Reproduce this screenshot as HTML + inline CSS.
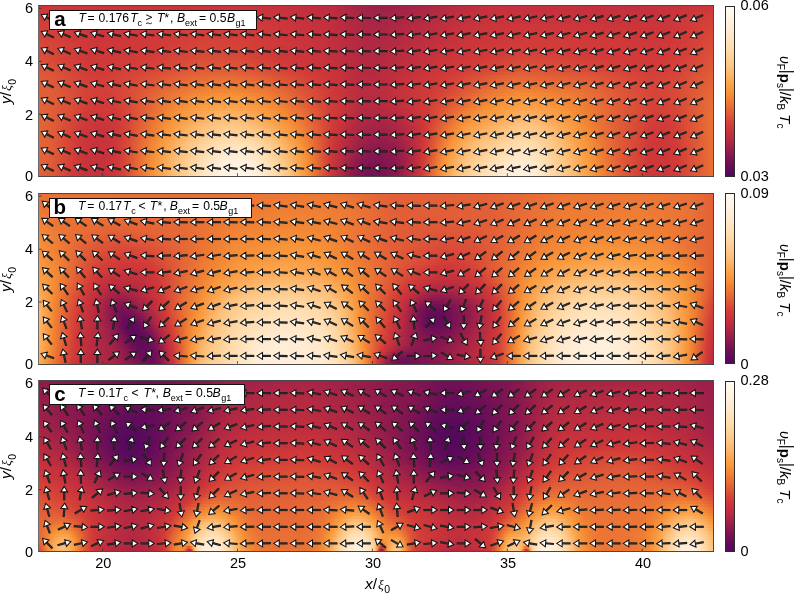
<!DOCTYPE html><html><head><meta charset="utf-8"><style>
*{margin:0;padding:0;box-sizing:border-box}
html,body{width:795px;height:594px;overflow:hidden;background:#fff}
body{position:relative;font-family:"Liberation Sans",sans-serif;color:#000}
.txt{position:absolute;left:0;top:0;width:795px;height:594px;will-change:transform}
.bg{position:absolute;left:38.5px;width:675px;height:171px;overflow:hidden}
.bg div{position:absolute;left:0;width:675px}
.fr{position:absolute;left:38px;width:676px;height:172px;border:1px solid #484848;border-left-color:#6a6a6a}
.cb{position:absolute;left:725px;width:10px;height:171px;border:1px solid #2b2b2b}
svg.ar{position:absolute;left:0;top:0}
.lb{position:absolute;left:49.2px;height:20.2px;background:#fff;border:1px solid #111}
.tb,.tx,.ts,.tst,.tge{position:absolute;white-space:nowrap}
.tb{font-size:20.5px;font-weight:bold;line-height:20px}
.tx{font-size:12.2px;line-height:14px}
.ts{font-size:9px;line-height:10px}
.tst{font-size:12.5px;line-height:10px}
.tge{width:8px;height:12px}
.yt{position:absolute;left:14px;width:19px;text-align:right;font-size:14.5px;line-height:17px}
.xt{position:absolute;top:555px;width:30px;text-align:center;font-size:14.5px;line-height:17px}
.ct{position:absolute;left:740.5px;font-size:14.5px;line-height:17px}
.yl{position:absolute;font-size:15.5px;line-height:18px;white-space:nowrap;transform-origin:0 0}
.cl{position:absolute;font-size:15px;white-space:nowrap;transform-origin:0 0;line-height:17px}
.xi{font-family:"Liberation Serif",serif;font-style:italic;font-size:13.5px;margin-left:1px}
.s0{font-size:10.5px;vertical-align:-4.5px;margin-left:0.5px}
.s1{font-size:10px;vertical-align:-3px}
.ups{font-style:italic;font-size:14px}
.bar{display:inline-block;transform:translateY(-2.5px) scaleY(1.15)}
</style></head><body>
<div class="bg" style="top:5.5px"><div style="top:0px;height:3.6px;background:linear-gradient(90deg,#cd373a 0px,#cb353b 192px,#c5303d 247.5px,#bb2c40 294px,#a12247 324px,#9b1f49 342px,#9f2148 361.5px,#c4303d 442.5px,#c5303d 543px,#c12f3e 592.5px,#cd373a 675px)"></div><div style="top:3px;height:3.6px;background:linear-gradient(90deg,#cf3839 0px,#ca353b 54px,#cd373a 193.5px,#c8333c 240px,#bd2d3f 292.5px,#a12247 328.5px,#9f2148 348px,#c6313c 445.5px,#c4303d 604.5px,#d03939 675px)"></div><div style="top:6px;height:3.6px;background:linear-gradient(90deg,#d03939 0px,#ca353b 63px,#cf3839 171px,#cc363a 225px,#bf2e3f 291px,#a52346 325.5px,#a12247 342px,#a82545 369px,#c12f3e 421.5px,#c7323c 444px,#c6323c 616.5px,#d13b38 675px)"></div><div style="top:9px;height:3.6px;background:linear-gradient(90deg,#d13a38 0px,#ca353b 67.5px,#d03939 157.5px,#ce383a 220.5px,#c02e3e 291px,#a72446 325.5px,#a42347 345px,#c8333c 444px,#c7333c 615px,#d33d38 675px)"></div><div style="top:12px;height:3.6px;background:linear-gradient(90deg,#d23c38 0px,#cb363a 55.5px,#d13a39 154.5px,#cf3839 222px,#c02e3e 292.5px,#a82545 327px,#a62446 343.5px,#ae2743 372px,#c32f3d 418.5px,#c9343b 445.5px,#c8343b 616.5px,#d43f38 675px)"></div><div style="top:15px;height:3.6px;background:linear-gradient(90deg,#d33e38 0px,#cb353b 64.5px,#d23b38 156px,#d13a39 213px,#c22f3e 289.5px,#aa2645 327px,#a82545 343.5px,#c9343b 441px,#ca343b 621px,#d54238 675px)"></div><div style="top:18px;height:3.6px;background:linear-gradient(90deg,#d43f38 0px,#cb363a 60px,#d33d38 166.5px,#d13a39 219px,#c32f3d 288px,#ac2644 325.5px,#aa2645 345px,#c9343b 436.5px,#cd373a 486px,#cb353b 625.5px,#d64438 675px)"></div><div style="top:21px;height:3.6px;background:linear-gradient(90deg,#d54138 0px,#cc363a 54px,#d33e38 163.5px,#d23b38 214.5px,#c32f3d 289.5px,#ad2744 325.5px,#ab2644 342px,#c5303d 414px,#ca343b 439.5px,#ce383a 487.5px,#cb353b 618px,#d13a38 649.5px,#d74538 675px)"></div><div style="top:24px;height:3.6px;background:linear-gradient(90deg,#d54338 0px,#cc363a 55.5px,#d43f38 162px,#d23b38 217.5px,#c4303d 286.5px,#ae2743 325.5px,#ac2644 339px,#b72b41 379.5px,#c5313d 411px,#cb353b 444px,#cf3839 489px,#cc363a 624px,#d13a38 646.5px,#d74738 675px)"></div><div style="top:27px;height:3.6px;background:linear-gradient(90deg,#d64438 0px,#cc363a 55.5px,#d44038 162px,#d33c38 210px,#c4303d 288px,#b12943 321px,#ad2744 339px,#b72b41 376.5px,#c6313c 411px,#cb353b 439.5px,#d03939 492px,#cc363a 618px,#d13a38 645px,#d84938 675px)"></div><div style="top:30px;height:3.6px;background:linear-gradient(90deg,#d74638 0px,#d13a38 31.5px,#cc363a 57px,#d13a38 126px,#d44138 162px,#d33c38 213px,#c5303d 285px,#b22942 319.5px,#ae2743 339px,#c6313c 408px,#cb353b 435px,#d13a39 495px,#cd373a 625.5px,#d23b38 646.5px,#d94a38 675px)"></div><div style="top:33px;height:3.6px;background:linear-gradient(90deg,#d74738 0px,#d13a38 33px,#cc363a 60px,#d13a38 123px,#d54238 160.5px,#d54238 189px,#d33c38 214.5px,#c5303d 286.5px,#b22942 321px,#af2843 339px,#cb353b 430.5px,#d13b38 492px,#ce373a 621px,#d23b38 645px,#d94c38 675px)"></div><div style="top:36px;height:3.6px;background:linear-gradient(90deg,#d84938 0px,#cd373a 49.5px,#d13a38 120px,#d64438 168px,#d43f38 208.5px,#c5313d 286.5px,#b12943 324px,#b02843 340.5px,#cb353b 424.5px,#d23c38 489px,#cf3839 627px,#d23b38 643.5px,#da4d38 675px)"></div><div style="top:39px;height:3.6px;background:linear-gradient(90deg,#d94a38 0px,#cd373a 51px,#d13a38 117px,#d64538 163.5px,#d54138 204px,#d03939 229.5px,#c5313d 288px,#b22942 322.5px,#b02843 336px,#c8333c 405px,#d33c38 481.5px,#cf3839 622.5px,#d33c38 643.5px,#da4e38 675px)"></div><div style="top:42px;height:3.6px;background:linear-gradient(90deg,#d94b38 0px,#d13a38 36px,#cd373a 52.5px,#d23b38 120px,#d74738 166.5px,#d64338 201px,#d03939 231px,#c5303d 289.5px,#b32942 321px,#b12943 340.5px,#c8333c 402px,#d43f38 483px,#d03939 541.5px,#d03939 627px,#d33e38 646.5px,#db5038 675px)"></div><div style="top:45px;height:3.6px;background:linear-gradient(90deg,#da4d38 0px,#d23b38 34.5px,#cd373a 54px,#d23b38 115.5px,#d84938 166.5px,#d74638 198px,#d13a38 229.5px,#c7323c 283.5px,#b42a42 319.5px,#b12943 336px,#ca343b 406.5px,#d13a38 460.5px,#d54138 481.5px,#d13a38 540px,#d03939 624px,#d43f38 646.5px,#dc5138 675px)"></div><div style="top:48px;height:3.6px;background:linear-gradient(90deg,#da4e38 0px,#cf3839 48px,#d23b38 109.5px,#d94b38 163.5px,#d84838 198px,#d13a38 232.5px,#c7323c 285px,#b32942 322.5px,#b22942 339px,#cc363a 411px,#d23b38 457.5px,#d64338 480px,#d64538 495px,#d23b38 547.5px,#d13a38 628.5px,#d64338 652.5px,#dc5338 675px)"></div><div style="top:51px;height:3.6px;background:linear-gradient(90deg,#db5038 0px,#d23b38 37.5px,#cf3839 51px,#d33c38 106.5px,#da4e38 166.5px,#d94a38 199.5px,#d13a38 237px,#c9343b 280.5px,#b42a42 321px,#b22942 334.5px,#cb353b 403.5px,#d23b38 448.5px,#d74838 484.5px,#d23b38 571.5px,#d13a38 624px,#d54138 646.5px,#dd5438 675px)"></div><div style="top:54px;height:3.6px;background:linear-gradient(90deg,#dc5138 0px,#d33d38 36px,#cf3839 55.5px,#d44038 115.5px,#db5138 165px,#db4f38 195px,#d13a38 243px,#c6313c 292.5px,#b32942 325.5px,#b42942 339px,#cc363a 403.5px,#d23b38 438px,#d94c38 487.5px,#d23b38 585px,#d23b38 625.5px,#d64338 648px,#de5638 675px)"></div><div style="top:57px;height:3.6px;background:linear-gradient(90deg,#dc5338 0px,#d23b38 42px,#d03939 66px,#d54238 114px,#dd5438 160.5px,#dd5538 186px,#da4e38 210px,#d23b38 246px,#c6313c 294px,#b72b41 316.5px,#b42942 334.5px,#ce383a 408px,#d23b38 429px,#db5038 486px,#d23b38 597px,#d23b38 619.5px,#d64338 645px,#de5838 675px)"></div><div style="top:60px;height:3.6px;background:linear-gradient(90deg,#dd5438 0px,#db4f38 15px,#d23b38 45px,#d13a38 69px,#d64338 108px,#de5838 159px,#df5a37 184.5px,#dd5538 204px,#d13a38 258px,#c7323c 294px,#b42a42 325.5px,#b62a41 342px,#c4303d 372px,#d13a38 418.5px,#dd5338 480px,#dd5438 495px,#d33e38 591px,#d33c38 616.5px,#d74738 649.5px,#df5a37 675px)"></div><div style="top:63px;height:3.6px;background:linear-gradient(90deg,#de5638 0px,#da4f38 18px,#d23b38 48px,#d13a38 64.5px,#d84838 114px,#e05d37 159px,#e15f37 186px,#de5838 210px,#d33c38 259.5px,#c8333c 294px,#b62b41 321px,#b62a41 339px,#c4303d 369px,#d13a38 414px,#df5a37 486px,#d33e38 601.5px,#d33e38 622.5px,#d74738 646.5px,#e05c37 675px)"></div><div style="top:66px;height:3.6px;background:linear-gradient(90deg,#de5838 0px,#dd5538 10.5px,#d33d38 46.5px,#d23b38 66px,#d84938 108px,#e26037 153px,#e36437 189px,#df5a37 217.5px,#d23b38 268.5px,#c9343b 294px,#b62b41 322.5px,#b62a41 336px,#c4303d 366px,#d23b38 412.5px,#e15f37 480px,#dd5438 543px,#d43f38 607.5px,#d64438 637.5px,#e15e37 675px)"></div><div style="top:69px;height:3.6px;background:linear-gradient(90deg,#df5937 0px,#de5638 12px,#d33e38 48px,#d33c38 66px,#da4c38 108px,#e46636 154.5px,#e66a36 190.5px,#e26237 214.5px,#d13a38 276px,#c5303d 303px,#b82b41 319.5px,#b62a41 333px,#d23b38 408px,#e05c37 457.5px,#e46536 478.5px,#df5a37 540px,#d44038 612px,#d74738 640.5px,#e26037 675px)"></div><div style="top:72px;height:3.6px;background:linear-gradient(90deg,#e05b37 0px,#de5738 13.5px,#d44038 46.5px,#d33d38 66px,#d84838 94.5px,#e76c36 156px,#e97035 190.5px,#e46636 219px,#d13a38 280.5px,#b82b41 321px,#b82b40 339px,#c5313d 363px,#d33c38 406.5px,#e15f37 453px,#e66b36 475.5px,#e26037 538.5px,#d54238 607.5px,#d74638 636px,#e36237 675px)"></div><div style="top:75px;height:3.6px;background:linear-gradient(90deg,#e05d37 0px,#df5a37 10.5px,#d54138 46.5px,#d33e38 67.5px,#d84938 93px,#e97035 153px,#eb7635 171px,#eb7635 190.5px,#e86e36 216px,#d13a38 283.5px,#b92c40 319.5px,#b82b40 337.5px,#c7323c 366px,#d43e38 406.5px,#e56936 457.5px,#e97135 475.5px,#e97135 492px,#e36437 543px,#d64338 609px,#d84838 637.5px,#e46436 675px)"></div><div style="top:78px;height:3.6px;background:linear-gradient(90deg,#e15e37 0px,#e05b37 12px,#d54238 46.5px,#d33e38 64.5px,#d74538 84px,#ec7735 156px,#ee7c34 193.5px,#eb7535 214.5px,#e66a36 231px,#d13a38 286.5px,#b82b41 322.5px,#b92b40 337.5px,#d23b38 397.5px,#da4c38 421.5px,#e86e36 456px,#ec7835 478.5px,#e56936 543px,#da4d38 588px,#d64338 615px,#d84838 636px,#e46636 675px)"></div><div style="top:81px;height:3.6px;background:linear-gradient(90deg,#e25f37 0px,#e05d37 10.5px,#d54138 49.5px,#d43e38 64.5px,#da4c38 93px,#ed7a35 151.5px,#f18234 171px,#f18234 195px,#e97135 229.5px,#d23b38 286.5px,#b92c40 321px,#b82b40 336px,#d23b38 394.5px,#da4d38 418.5px,#eb7535 457.5px,#ef7e34 477px,#e86f36 540px,#db4f38 588px,#d64438 613.5px,#d84838 634.5px,#e56836 675px)"></div><div style="top:84px;height:3.6px;background:linear-gradient(90deg,#e26037 0px,#e15e37 10.5px,#d54238 48px,#d33e38 66px,#d84838 87px,#e66b36 124.5px,#f08134 154.5px,#f38936 190.5px,#ed7935 226.5px,#cd373a 295.5px,#b92c40 321px,#b82b41 336px,#d23b38 393px,#da4c38 414px,#ec7735 453px,#f18435 475.5px,#f18435 490.5px,#ea7335 540px,#da4d38 594px,#d64438 615px,#d84938 636px,#e66a36 675px)"></div><div style="top:87px;height:3.6px;background:linear-gradient(90deg,#e26137 0px,#e15f37 10.5px,#d44038 51px,#d33e38 69px,#d84838 87px,#e56936 118.5px,#f28736 156px,#f58f38 177px,#f58f38 193.5px,#f28736 214.5px,#ee7c34 229.5px,#d13a38 291px,#b82b40 322.5px,#b82b40 337.5px,#d33c38 393px,#da4e38 412.5px,#ed7a35 450px,#f48b37 478.5px,#f48a37 492px,#ec7735 540px,#dd5338 586.5px,#d64438 615px,#d84938 636px,#e76c36 675px)"></div><div style="top:90px;height:3.6px;background:linear-gradient(90deg,#e36237 0px,#de5838 21px,#d44038 49.5px,#d33d38 69px,#d84838 87px,#e56736 114px,#f38936 151.5px,#f79439 172.5px,#f7953a 195px,#f69038 208.5px,#ee7d34 234px,#d23b38 291px,#b82b41 322.5px,#b82b40 339px,#d33c38 391.5px,#f18234 453px,#f69139 478.5px,#f58f38 496.5px,#ee7d34 535.5px,#dd5438 586.5px,#d64438 615px,#d64438 625.5px,#da4d38 642px,#e76d36 675px)"></div><div style="top:93px;height:3.6px;background:linear-gradient(90deg,#e36337 0px,#e05c37 16.5px,#d43e38 51px,#d33c38 70.5px,#d84938 88.5px,#e97035 120px,#f58f38 153px,#f8983c 169.5px,#f99a3f 193.5px,#f7953a 210px,#f28636 229.5px,#e56936 256.5px,#d13a38 292.5px,#b72b41 324px,#b62a41 334.5px,#d33d38 391.5px,#ed7a35 439.5px,#f38a37 456px,#f8973b 478.5px,#f7953a 498px,#f18435 529.5px,#db4f38 594px,#d64338 616.5px,#d84938 637.5px,#e86e36 675px)"></div><div style="top:96px;height:3.6px;background:linear-gradient(90deg,#e36437 0px,#e05c37 16.5px,#d33c38 52.5px,#d23b38 70.5px,#d74738 87px,#f08134 133.5px,#f7953a 154.5px,#fa9e46 178.5px,#fa9e45 195px,#f8983c 213px,#f28535 235.5px,#e66b36 258px,#d33c38 291px,#c4303d 307.5px,#b62b41 324px,#b62a41 337.5px,#c6313c 367.5px,#d23c38 390px,#f08134 441px,#f79439 462px,#f99c42 481.5px,#f99b42 492px,#f8973b 505.5px,#ef7f34 541.5px,#e15e37 576px,#d64338 613.5px,#d54238 624px,#d94c38 642px,#e86f36 675px)"></div><div style="top:99px;height:3.6px;background:linear-gradient(90deg,#e36437 0px,#e05d37 15px,#d23b38 51px,#d13a38 70.5px,#d74638 87px,#f08134 130.5px,#f8973b 151.5px,#faa24c 177px,#fba34c 193.5px,#f99c42 213px,#f58d37 232.5px,#ee7c34 247.5px,#d43f38 289.5px,#cc363a 298.5px,#b62b41 322.5px,#b62a41 342px,#d23b38 388.5px,#f28535 439.5px,#f69239 453px,#faa048 480px,#fa9f47 496.5px,#f8963a 514.5px,#f58f38 525px,#f08134 541.5px,#dd5438 588px,#d54238 613.5px,#d54138 625.5px,#d94b38 642px,#e97035 675px)"></div><div style="top:102px;height:3.6px;background:linear-gradient(90deg,#e46436 0px,#e05d37 15px,#d13a38 51px,#d23b38 76.5px,#d94b38 91.5px,#f08034 127.5px,#f8973b 147px,#fba753 177px,#fba854 193.5px,#f8953a 229.5px,#f18234 246px,#e66a36 264px,#d23b38 292.5px,#b52a41 322.5px,#b42942 340.5px,#c4303d 369px,#d23b38 388.5px,#f18435 433.5px,#f8963a 451.5px,#fba550 481.5px,#fba34d 498px,#f99c42 511.5px,#f79439 523.5px,#f08034 544.5px,#df5837 583.5px,#d44038 616.5px,#d74638 637.5px,#e97135 675px)"></div><div style="top:105px;height:3.6px;background:linear-gradient(90deg,#e46536 0px,#e15e37 13.5px,#d23b38 46.5px,#ce3839 57px,#d13a38 76.5px,#da4d38 93px,#f28535 129px,#f9993e 145.5px,#fba956 169.5px,#fcae5d 181.5px,#fcae5e 192px,#fba956 205.5px,#f8983c 231px,#f08034 250.5px,#e66b36 265.5px,#d23b38 292.5px,#b62b41 319.5px,#b12843 331.5px,#b92c40 357px,#d23b38 388.5px,#ed7a35 423px,#f58f38 438px,#f8973b 447px,#fbab59 483px,#fba956 496.5px,#f8973b 525px,#f08034 546px,#dd5538 586.5px,#d43f38 616.5px,#d64538 637.5px,#e97235 675px)"></div><div style="top:108px;height:3.6px;background:linear-gradient(90deg,#e46536 0px,#e15f37 12px,#d13a38 46.5px,#cd373a 57px,#d13a38 78px,#d84838 90px,#f18234 124.5px,#f79339 136.5px,#fcb061 172.5px,#fcb467 183px,#fcb366 196.5px,#fbac5a 210px,#f8963a 237px,#f08034 253.5px,#e56936 268.5px,#d23b38 292.5px,#c02e3e 309px,#b12843 327px,#af2843 337.5px,#b42a42 352.5px,#c5303d 373.5px,#d23b38 388.5px,#ed7a35 420px,#f7953a 438px,#fcb162 483px,#fcae5f 496.5px,#f79439 531px,#f08034 547.5px,#e25f37 576px,#d74638 603px,#d33d38 618px,#d64538 639px,#ea7235 675px)"></div><div style="top:111px;height:3.6px;background:linear-gradient(90deg,#e46536 0px,#e15f37 12px,#d03939 46.5px,#cc363a 67.5px,#d13a38 79.5px,#d94a38 91.5px,#f08034 121.5px,#f8963a 136.5px,#fcb163 166.5px,#fdbb72 186px,#fdba71 195px,#fcb264 210px,#f8963a 241.5px,#f18234 255px,#e56936 270px,#d03939 294px,#bd2d3f 310.5px,#ae2744 328.5px,#b12943 351px,#c5303d 375px,#d23b38 388.5px,#f18234 421.5px,#f8973b 435px,#fcb76c 483px,#fcb468 496.5px,#f79439 534px,#f08034 549px,#e46436 571.5px,#d33d38 615px,#d33c38 627px,#d64438 639px,#ea7335 675px)"></div><div style="top:114px;height:3.6px;background:linear-gradient(90deg,#e46536 0px,#e26037 10.5px,#d03939 45px,#cb363a 57px,#d03939 78px,#d74538 88.5px,#f08034 120px,#f79339 132px,#fdba71 171px,#fdc17b 184.5px,#fdc07a 198px,#fcb66a 213px,#f8963a 244.5px,#f08134 258px,#d03939 294px,#b22942 319.5px,#aa2545 334.5px,#ab2644 345px,#b62b41 363px,#cf3839 385.5px,#d54238 391.5px,#f08134 418.5px,#f99b41 435px,#fba854 454.5px,#fdb970 475.5px,#fdbe76 484.5px,#fdb970 498px,#fba44f 519px,#f79339 537px,#f18234 549px,#e05c37 579px,#d23b38 616.5px,#d44038 636px,#ea7335 675px)"></div><div style="top:117px;height:3.6px;background:linear-gradient(90deg,#e46536 0px,#e05d37 13.5px,#d13a38 42px,#ca353b 57px,#cd373a 75px,#d74538 88.5px,#ef7d34 117px,#f58d37 126px,#f8983d 133.5px,#fdbb72 165px,#fdc17d 174px,#fdc583 184.5px,#fdc583 195px,#fdc07b 208.5px,#f99a3f 244.5px,#f28535 258px,#d03939 294px,#b52a41 315px,#a82446 333px,#a72446 342px,#b02843 358.5px,#cf3839 385.5px,#d64338 391.5px,#f07f34 415.5px,#f9993e 429px,#fdc27d 480px,#fdc37f 489px,#fdc07b 496.5px,#faa24b 525px,#f79339 538.5px,#f18134 550.5px,#e36337 573px,#d33c38 612px,#d13a38 627px,#d43f38 636px,#ea7335 675px)"></div><div style="top:120px;height:3.6px;background:linear-gradient(90deg,#e46636 0px,#e05d37 13.5px,#d23c38 39px,#ce3839 45px,#c9343b 64.5px,#d03939 79.5px,#d84838 90px,#f07f34 117px,#f8953a 129px,#fdbf78 163.5px,#fdc685 175.5px,#feca8b 187.5px,#fec98a 198px,#fdc27d 214.5px,#f8963a 250.5px,#f38836 258px,#e66a36 273px,#d13a38 292.5px,#b52a41 313.5px,#a52346 331.5px,#a42347 343.5px,#a92545 354px,#c02e3e 375px,#cf3839 385.5px,#f08134 414px,#f8973b 424.5px,#f99d44 429px,#fdc27d 471px,#fdc684 480px,#fdc786 489px,#fdc37f 499.5px,#fdbe77 505.5px,#fba34d 526.5px,#f79439 540px,#f08134 552px,#e15e37 577.5px,#d23b38 612px,#d13a38 628.5px,#d33e38 636px,#ea7335 675px)"></div><div style="top:123px;height:3.6px;background:linear-gradient(90deg,#e46636 0px,#e26037 10.5px,#cf3839 43.5px,#c8343b 61.5px,#cf3839 78px,#d64338 87px,#f07f34 115.5px,#f8963a 127.5px,#fdc07b 160.5px,#fece92 184.5px,#fecd92 199.5px,#fec787 213px,#fdc17b 222px,#f99d44 247.5px,#f48c37 258px,#e76c36 273px,#d13a38 292.5px,#c32f3d 303px,#ac2644 319.5px,#a22247 331.5px,#a12247 345px,#a82545 357px,#cf3839 385.5px,#f18134 412.5px,#f9993e 423px,#fba956 436.5px,#fdc37f 466.5px,#fecb8d 483px,#feca8c 492px,#fdc27e 505.5px,#fba34c 529.5px,#f79439 541.5px,#f08034 553.5px,#e26037 576px,#d23b38 610.5px,#cf3939 622.5px,#d33d38 636px,#ea7335 675px)"></div><div style="top:126px;height:3.6px;background:linear-gradient(90deg,#e46636 0px,#e05b37 15px,#d23c38 37.5px,#cd373a 45px,#c8333b 64.5px,#ce373a 76.5px,#d74638 88.5px,#f18134 115.5px,#f8963a 126px,#fdc07a 156px,#fecc90 172.5px,#fed39b 187.5px,#fed29a 201px,#fec888 219px,#fdc07a 228px,#fba753 243px,#f8963a 255px,#f69038 258px,#f08034 265.5px,#d13a38 292.5px,#c4303d 301.5px,#a62446 322.5px,#9e2048 334.5px,#a22247 354px,#c5313c 379.5px,#d13b38 387px,#ef7e34 409.5px,#f8983c 420px,#fcac5b 435px,#fdc07a 456px,#fecf94 481.5px,#fece94 490.5px,#fdc786 504px,#fdbe77 513px,#fba550 529.5px,#f79439 543px,#f08034 555px,#e86d36 567px,#d23b38 609px,#d23b38 634.5px,#d94a38 648px,#ea7335 675px)"></div><div style="top:129px;height:3.6px;background:linear-gradient(90deg,#e46636 0px,#e05b37 15px,#cf3839 42px,#c7333c 60px,#cd373a 76.5px,#d54138 85.5px,#f08134 114px,#f8963a 124.5px,#fdbc73 150px,#fdc584 159px,#ffd59f 180px,#ffd8a5 195px,#ffd5a0 205.5px,#fec889 223.5px,#fdbf78 232.5px,#fba752 246px,#f79439 258px,#f07f34 267px,#d33c38 291px,#c02e3e 303px,#ab2644 316.5px,#9b1f49 333px,#9a1f4a 345px,#a02148 355.5px,#c22f3e 378px,#d23b38 387px,#ef7e34 408px,#f8963a 417px,#fcb66a 439.5px,#fecd91 469.5px,#fed39b 481.5px,#fed39c 489px,#feca8c 504px,#fdc07a 514.5px,#fba44e 532.5px,#f79439 544.5px,#f18234 555px,#e26137 576px,#d13a38 610.5px,#ce3839 624px,#d33d38 637.5px,#ea7335 675px)"></div><div style="top:132px;height:3.6px;background:linear-gradient(90deg,#e46636 0px,#e15e37 12px,#d23b38 37.5px,#cc363a 45px,#c7333c 63px,#cd373a 76.5px,#d33c38 82.5px,#da4e38 91.5px,#f08034 112.5px,#f8963a 123px,#fba753 135px,#fdc07a 150px,#fece93 165px,#ffdaa8 181.5px,#ffdcad 198px,#ffd7a3 211.5px,#fecb8e 225px,#fdbf78 235.5px,#fba550 249px,#f79439 259.5px,#f18234 267px,#d03939 292.5px,#a22247 321px,#971d4b 336px,#961d4b 343.5px,#9e2148 357px,#c7323c 381px,#d23c38 387px,#ef7e34 406.5px,#f8973b 415.5px,#fdbb71 439.5px,#fed39c 472.5px,#ffd7a2 480px,#ffd7a3 489px,#fecf94 502.5px,#fdbf79 517.5px,#fba752 532.5px,#f79439 546px,#f08134 556.5px,#e05b37 580.5px,#d13a38 609px,#ce3839 627px,#d23b38 636px,#ea7335 675px)"></div><div style="top:135px;height:3.6px;background:linear-gradient(90deg,#e46636 0px,#e15e37 12px,#d33c38 36px,#cb353b 46.5px,#c7333c 64.5px,#cd373a 76.5px,#d74538 87px,#ef7f34 111px,#f8963a 121.5px,#fba550 132px,#fdc17c 148.5px,#fed49e 168px,#ffdcae 180px,#ffdfb5 198px,#ffdcad 210px,#fed49e 220.5px,#fdc17c 237px,#fba956 249px,#f79439 261px,#f08034 268.5px,#d23b38 291px,#bd2d3f 303px,#a12247 319.5px,#951c4b 333px,#931c4c 345px,#9b1f49 357px,#a82545 366px,#c7323c 381px,#d33c38 387px,#f18234 406.5px,#f8973c 414px,#fdbe76 438px,#ffdbaa 480px,#ffdaa8 492px,#fed29a 502.5px,#fdc07b 519px,#fba44f 535.5px,#f8963a 546px,#f08034 558px,#de5738 583.5px,#d03939 610.5px,#cd373a 624px,#d23c38 637.5px,#ea7335 675px)"></div><div style="top:138px;height:3.6px;background:linear-gradient(90deg,#e46536 0px,#e15e37 12px,#cf3839 40.5px,#c6323c 58.5px,#ce373a 76.5px,#d84938 88.5px,#f08134 111px,#f8953a 120px,#fba550 130.5px,#fdc07a 145.5px,#ffd59f 165px,#ffe1b9 184.5px,#ffe3bd 196.5px,#ffe1b8 207px,#ffd9a6 220.5px,#fdc07a 240px,#fba44e 253.5px,#f79339 262.5px,#ef7e34 270px,#d23b38 291px,#c22f3e 300px,#9e2148 319.5px,#921b4c 331.5px,#8f1a4d 342px,#981e4a 357px,#a32347 364.5px,#c7323c 381px,#d33d38 387px,#f08134 405px,#f8973c 412.5px,#fdc07a 436.5px,#ffdaa9 471px,#ffdeb1 480px,#ffdeb2 486px,#ffd8a5 499.5px,#fdbf78 522px,#fba44f 537px,#f8963a 547.5px,#f18134 558px,#e15e37 579px,#d13a38 607.5px,#cd373a 627px,#d33d38 639px,#ea7335 675px)"></div><div style="top:141px;height:3.6px;background:linear-gradient(90deg,#e46536 0px,#e05c37 13.5px,#d23b38 36px,#c6323c 55.5px,#c9343b 70.5px,#d23b38 81px,#dc5138 91.5px,#f07f34 109.5px,#f7943a 118.5px,#fba34c 127.5px,#fdbe77 142.5px,#ffdbaa 168px,#ffe4c1 186px,#ffe6c4 199.5px,#ffe2bb 211.5px,#ffd8a4 225px,#fdc17c 241.5px,#fba44e 255px,#f8963a 262.5px,#f08034 270px,#d23b38 291px,#be2d3f 301.5px,#9b1f49 319.5px,#8e194d 333px,#8c194e 343.5px,#941c4b 355.5px,#a12247 364.5px,#c7323c 381px,#d64438 388.5px,#f28435 405px,#f8973c 411px,#fcb468 426px,#fdc27d 435px,#ffe0b5 477px,#ffe1b8 487.5px,#ffdbab 499.5px,#fdbd75 525px,#fba44f 538.5px,#f8953a 549px,#f08034 559.5px,#dd5538 585px,#d03939 609px,#cc373a 622.5px,#d23b38 637.5px,#ea7335 675px)"></div><div style="top:144px;height:3.6px;background:linear-gradient(90deg,#e46536 0px,#e05c37 13.5px,#d23b38 36px,#c6323c 54px,#c8333b 69px,#d23b38 81px,#f08134 109.5px,#f8963a 118.5px,#fba753 129px,#fdc17b 142.5px,#ffdbaa 165px,#ffe6c5 183px,#ffe9cc 198px,#ffe6c4 210px,#ffdbab 225px,#fdbf78 244.5px,#fba752 255px,#f79439 264px,#ef7d34 271.5px,#ce3839 292.5px,#9a1f49 318px,#8b184e 331.5px,#89174f 343.5px,#931c4c 357px,#9f2148 364.5px,#c4303d 379.5px,#d13a38 385.5px,#f38836 405px,#f8973b 409.5px,#fdc07a 430.5px,#ffdbaa 462px,#ffe3bd 478.5px,#ffe3be 487.5px,#ffddb0 499.5px,#fdc079 525px,#fba44e 540px,#f79439 550.5px,#f18234 559.5px,#df5a37 582px,#d13a38 606px,#cc373a 624px,#d23b38 637.5px,#ea7335 675px)"></div><div style="top:147px;height:3.6px;background:linear-gradient(90deg,#e46536 0px,#e15f37 10.5px,#d23b38 36px,#ca343b 46.5px,#c6323c 64.5px,#d13a38 79.5px,#db4f38 90px,#f07f34 108px,#f8953a 117px,#fba44e 126px,#fdbe76 139.5px,#ffe0b7 169.5px,#ffe9cd 184.5px,#ffecd3 198px,#ffe8cb 210px,#ffdeb1 225px,#fdc27d 244.5px,#fba651 256.5px,#f79239 265.5px,#ef7f34 271.5px,#d13a38 291px,#c22f3e 298.5px,#971e4a 318px,#89174f 330px,#861650 343.5px,#8d194d 354px,#a12247 366px,#c4303d 379.5px,#d23b38 385.5px,#f08034 402px,#f8963a 408px,#fdc17c 429px,#ffddb0 462px,#ffe6c4 480px,#ffe5c3 489px,#ffdfb5 499.5px,#fdbf79 526.5px,#fba34d 541.5px,#f8963a 550.5px,#f08034 561px,#dd5338 586.5px,#d13a38 606px,#cc373a 625.5px,#d33c38 639px,#ea7235 675px)"></div><div style="top:150px;height:3.6px;background:linear-gradient(90deg,#e46436 0px,#e05d37 12px,#d13a38 36px,#c8333b 48px,#c6323c 64.5px,#d13a38 79.5px,#da4c38 88.5px,#f08134 108px,#f79339 115.5px,#fba550 126px,#fdc07a 139.5px,#ffe0b6 166.5px,#ffecd4 186px,#ffeed8 201px,#ffe8c9 216px,#ffdfb3 226.5px,#fdc27d 246px,#fba855 256.5px,#f79439 265.5px,#f08034 271.5px,#d13a38 291px,#941c4b 318px,#861650 330px,#831650 342px,#8b184e 354px,#a02148 366px,#c5303d 379.5px,#d33c38 385.5px,#f38936 403.5px,#f8983e 408px,#fdc27d 427.5px,#ffe1b8 463.5px,#ffe8c9 478.5px,#ffe8cb 484.5px,#ffe3bf 496.5px,#ffdbaa 507px,#fdbf78 528px,#faa24c 543px,#f7943a 552px,#f18234 561px,#dd5338 586.5px,#d03939 607.5px,#cc363a 625.5px,#d33c38 639px,#ea7235 675px)"></div><div style="top:153px;height:3.6px;background:linear-gradient(90deg,#e36437 0px,#e05b37 13.5px,#d13a38 36px,#cb353b 43.5px,#c5313c 61.5px,#d13a38 79.5px,#d84938 87px,#ef7e34 106.5px,#f8983c 117px,#fbaa57 127.5px,#fdbf79 138px,#ffdbaa 159px,#ffe5c3 171px,#ffedd6 183px,#fff0dc 201px,#ffebd1 214.5px,#ffe1b8 226.5px,#fdc480 246px,#f8963a 265.5px,#f18234 271.5px,#d13a39 291px,#9a1f4a 313.5px,#861650 325.5px,#801551 340.5px,#89184f 354px,#9f2148 366px,#c8333b 381px,#d33e38 385.5px,#f08034 400.5px,#f8973b 406.5px,#fdc07a 424.5px,#ffd7a4 447px,#ffeace 477px,#ffead0 486px,#ffe4c1 498px,#ffdbaa 508.5px,#fdc17b 528px,#fba652 541.5px,#f8963a 552px,#f08034 562.5px,#e05b37 582px,#d03939 607.5px,#cc373a 627px,#d33c38 639px,#ea7235 675px)"></div><div style="top:156px;height:3.6px;background:linear-gradient(90deg,#e36337 0px,#e15e37 10.5px,#d23b38 34.5px,#ca343b 45px,#c5313d 61.5px,#d13a38 79.5px,#da4d38 88.5px,#f07f34 106.5px,#f8963a 115.5px,#fba550 124.5px,#fdc17b 138px,#ffdba9 157.5px,#ffe8ca 172.5px,#ffefdb 184.5px,#fff2e0 199.5px,#ffeed8 213px,#ffe4c0 225px,#ffdaa8 234px,#fdc17b 249px,#fba550 259.5px,#f79339 267px,#ef7e34 273px,#d03a39 291px,#971d4a 313.5px,#8b184e 319.5px,#801452 330px,#7e1452 342px,#8c194e 357px,#9b1f49 364.5px,#c6313c 379.5px,#d43f38 385.5px,#f38936 402px,#f9993e 406.5px,#fcb76c 418.5px,#fec888 429px,#ffd9a6 445.5px,#ffe6c5 465px,#ffedd5 480px,#ffecd4 487.5px,#ffe5c2 499.5px,#fdc07a 529.5px,#fba550 543px,#f7943a 553.5px,#f08134 562.5px,#de5638 585px,#d03939 607.5px,#cc373a 627px,#d33c38 639px,#ea7235 675px)"></div><div style="top:159px;height:3.6px;background:linear-gradient(90deg,#e36337 0px,#e05c37 12px,#d23b38 34.5px,#c8333b 46.5px,#c5313d 63px,#d13a38 79.5px,#dc5138 90px,#f08034 106.5px,#f8973b 115.5px,#fba652 124.5px,#fdbf79 136.5px,#fecc8e 145.5px,#ffdcac 157.5px,#ffedd6 177px,#fff2e2 190.5px,#fff3e3 201px,#ffeed9 214.5px,#ffe5c4 225px,#ffdcab 234px,#fdc582 247.5px,#fba34d 261px,#f68f38 268.5px,#ef7f34 273px,#d03939 291px,#941c4b 313.5px,#88174f 319.5px,#7d1353 330px,#7b1353 340.5px,#8b184e 357px,#9b1f49 364.5px,#c22f3d 378px,#d23b38 384px,#f28535 400.5px,#f8973b 405px,#fdc07b 421.5px,#ffdbab 445.5px,#ffe8ca 465px,#ffeed8 477px,#ffedd7 489px,#ffe7c9 498px,#ffdcac 510px,#fdbf78 531px,#fba752 543px,#f8963a 553.5px,#f07f34 564px,#dc5138 588px,#d03939 607.5px,#cc363a 625.5px,#d33c38 639px,#ea7235 675px)"></div><div style="top:162px;height:3.6px;background:linear-gradient(90deg,#e36237 0px,#e05b37 12px,#d23b38 34.5px,#c8333c 46.5px,#c4303d 60px,#cb353b 73.5px,#d33c38 81px,#d74638 85.5px,#f08034 106.5px,#f79439 114px,#fba753 124.5px,#fdc07a 136.5px,#ffddae 157.5px,#ffe8ca 169.5px,#ffedd6 175.5px,#fff2e2 186px,#fff4e6 199.5px,#fff0dd 213px,#ffe7c7 225px,#ffdbaa 235.5px,#fdc17c 250.5px,#fba44f 261px,#f69038 268.5px,#f08034 273px,#d03939 291px,#911b4c 313.5px,#7c1353 327px,#791254 340.5px,#88174f 355.5px,#941c4b 361.5px,#c4303d 378px,#d23c38 384px,#f08134 399px,#f79439 403.5px,#fdc07a 420px,#ffdbaa 442.5px,#ffecd3 468px,#ffefda 475.5px,#fff0dc 484.5px,#ffedd7 492px,#ffe7c9 499.5px,#fdc07a 531px,#fba854 543px,#f79439 555px,#f08034 564px,#dd5438 586.5px,#d03939 607.5px,#cc373a 625.5px,#d33c38 639px,#ea7235 675px)"></div><div style="top:165px;height:3.6px;background:linear-gradient(90deg,#e26237 0px,#df5937 13.5px,#d13a38 34.5px,#ca343b 43.5px,#c4303d 61.5px,#cd373a 76.5px,#d23c38 81px,#da4d38 88.5px,#f08134 106.5px,#f8983c 115.5px,#fba54f 123px,#fdc17b 136.5px,#ffdcac 156px,#ffecd3 172.5px,#fff3e4 186px,#fff5e8 199.5px,#fff1df 213px,#ffe9cd 223.5px,#ffdcac 235.5px,#fdc582 249px,#faa24b 262.5px,#f8973b 267px,#f48c37 270px,#ee7b34 274.5px,#d03939 291px,#8b184e 315px,#791254 327px,#761254 339px,#831650 352.5px,#911b4c 360px,#c8333b 379.5px,#d64438 385.5px,#f18335 399px,#f8963a 403.5px,#fdc27d 420px,#ffdbab 441px,#ffead0 463.5px,#fff0dc 474px,#fff1df 483px,#ffedd5 495px,#ffdcac 511.5px,#fdc17b 531px,#fba651 544.5px,#f8953a 555px,#f08134 564px,#db4f38 589.5px,#d03939 607.5px,#cc373a 625.5px,#d23b38 637.5px,#ea7235 675px)"></div><div style="top:168px;height:3.6px;background:linear-gradient(90deg,#e26137 0px,#de5838 13.5px,#d23b38 33px,#c8333b 45px,#c4303d 63px,#cf3839 78px,#d74538 85.5px,#f08034 106.5px,#f8983c 115.5px,#fba854 124.5px,#fdc17c 136.5px,#ffdeb0 157.5px,#ffebd1 171px,#fff3e3 183px,#fff6e9 201px,#fff1e0 213px,#ffebd2 222px,#ffd8a4 238.5px,#fdc37f 250.5px,#fa9f47 264px,#f58d37 270px,#ee7b34 274.5px,#cf3939 291px,#c5313d 295.5px,#88174f 315px,#761155 327px,#741155 339px,#831650 352.5px,#921b4c 360px,#c22f3e 376.5px,#d13a38 382.5px,#f28435 399px,#f8973c 403.5px,#fdc17c 418.5px,#fec888 423px,#ffdcac 439.5px,#ffedd6 465px,#fff1de 474px,#fff2e0 486px,#ffeace 499.5px,#fdbf78 532.5px,#fba44e 546px,#f8953a 555px,#f18234 564px,#e05a37 583.5px,#d13a38 606px,#cc373a 624px,#d23b38 637.5px,#ea7335 675px)"></div></div><div class="bg" style="top:193.3px"><div style="top:0px;height:3.6px;background:linear-gradient(90deg,#ea7335 0px,#e86f36 18px,#e86e36 154.5px,#ed7935 259.5px,#ea7435 298.5px,#e26037 351px,#e25f37 366px,#e26137 439.5px,#ea7435 535.5px,#ea7435 621px,#e86e36 652.5px,#e26037 675px)"></div><div style="top:3px;height:3.6px;background:linear-gradient(90deg,#ea7335 0px,#e86e36 145.5px,#ed7a35 265.5px,#ea7435 307.5px,#e26037 351px,#e25f37 372px,#e26137 442.5px,#eb7635 535.5px,#eb7635 613.5px,#e86e36 655.5px,#e26037 675px)"></div><div style="top:6px;height:3.6px;background:linear-gradient(90deg,#ea7335 0px,#e86e36 144px,#ee7b34 240px,#ee7b34 270px,#eb7635 307.5px,#e26037 351px,#e25f37 375px,#e36237 453px,#ec7735 526.5px,#ec7835 604.5px,#e97035 652.5px,#e26037 675px)"></div><div style="top:9px;height:3.6px;background:linear-gradient(90deg,#eb7435 0px,#e86d36 138px,#ee7d34 246px,#ee7c34 276px,#ec7835 306px,#e26037 351px,#e15e37 369px,#e36237 456px,#ed7935 529.5px,#ed7935 609px,#e97235 649.5px,#e26037 675px)"></div><div style="top:12px;height:3.6px;background:linear-gradient(90deg,#eb7635 0px,#e86d36 139.5px,#ef7e34 241.5px,#ee7d34 282px,#ec7735 313.5px,#e26037 351px,#e15e37 373.5px,#e36237 459px,#ed7a35 526.5px,#ee7b34 600px,#ea7335 648px,#e26037 675px)"></div><div style="top:15px;height:3.6px;background:linear-gradient(90deg,#ec7735 0px,#ea7235 24px,#e76c36 135px,#ef7e34 232.5px,#ef7f34 271.5px,#ec7835 313.5px,#e25f37 354px,#e15e37 379.5px,#e26037 451.5px,#ee7b34 525px,#ee7c34 601.5px,#e97235 651px,#e26037 675px)"></div><div style="top:18px;height:3.6px;background:linear-gradient(90deg,#ed7935 0px,#ea7235 28.5px,#e76c36 139.5px,#eb7535 168px,#f08034 237px,#f08034 277.5px,#ee7b34 307.5px,#e26037 351px,#e15d37 373.5px,#e26037 454.5px,#ee7c34 523.5px,#ee7d34 601.5px,#ea7435 646.5px,#e26037 675px)"></div><div style="top:21px;height:3.6px;background:linear-gradient(90deg,#ee7b34 0px,#ea7235 30px,#e76b36 136.5px,#ec7835 180px,#f18234 241.5px,#f08134 282px,#ed7935 313.5px,#e26037 351px,#e15d37 387px,#e26037 456px,#ee7d34 523.5px,#ef7e34 600px,#ea7435 646.5px,#e26037 675px)"></div><div style="top:24px;height:3.6px;background:linear-gradient(90deg,#ef7e34 0px,#ea7235 30px,#e66a36 133.5px,#ee7b34 190.5px,#f18335 240px,#f18335 274.5px,#ed7a35 312px,#e26037 351px,#e05c37 384px,#e25f37 454.5px,#ef7e34 525px,#ef7f34 600px,#ea7435 646.5px,#e26037 675px)"></div><div style="top:27px;height:3.6px;background:linear-gradient(90deg,#f08034 0px,#ea7235 28.5px,#e66a36 76.5px,#e66936 130.5px,#ee7d34 193.5px,#f28535 268.5px,#ef7d34 306px,#e15d37 360px,#e05b37 414px,#e25f37 456px,#ec7735 501px,#ef7f34 525px,#f08034 598.5px,#eb7535 643.5px,#e26037 675px)"></div><div style="top:30px;height:3.6px;background:linear-gradient(90deg,#f18335 0px,#ed7935 12px,#e97135 31.5px,#e56736 99px,#e66a36 139.5px,#ef7f34 196.5px,#f28636 274.5px,#ee7c34 309px,#e15e37 355.5px,#e05a37 387px,#e15e37 454.5px,#ef7f34 520.5px,#f08134 598.5px,#ec7735 639px,#e26137 675px)"></div><div style="top:33px;height:3.6px;background:linear-gradient(90deg,#f28535 0px,#ea7335 25.5px,#e46536 73.5px,#e46436 96px,#e66a36 142.5px,#f08134 199.5px,#f38836 270px,#f08034 301.5px,#e15e37 355.5px,#df5837 411px,#e25f37 457.5px,#ef7f34 517.5px,#f18335 588px,#ed7935 634.5px,#e26137 675px)"></div><div style="top:36px;height:3.6px;background:linear-gradient(90deg,#f38836 0px,#ea7335 25.5px,#e26137 78px,#e56736 135px,#f08134 192px,#f38a37 250.5px,#f18435 294px,#e26037 351px,#df5837 382.5px,#df5937 441px,#ef7f34 514.5px,#f28535 556.5px,#ef7e34 622.5px,#ea7335 648px,#e26137 675px)"></div><div style="top:39px;height:3.6px;background:linear-gradient(90deg,#f48a37 0px,#ea7335 25.5px,#e15d37 81px,#e76b36 148.5px,#f18335 193.5px,#f48c37 255px,#f28636 291px,#e26037 351px,#de5638 388.5px,#de5738 438px,#f08034 514.5px,#f28736 562.5px,#ef7f34 622.5px,#e26137 675px)"></div><div style="top:42px;height:3.6px;background:linear-gradient(90deg,#f58d37 0px,#e97035 30px,#e15d37 67.5px,#df5937 84px,#e56836 142.5px,#f28535 195px,#f58d37 244.5px,#f38936 286.5px,#e26037 351px,#dd5338 400.5px,#df5837 444px,#f08034 511.5px,#f38936 559.5px,#f28636 600px,#ef7f34 625.5px,#e26137 675px)"></div><div style="top:45px;height:3.6px;background:linear-gradient(90deg,#f68f38 0px,#ea7235 27px,#de5638 78px,#de5738 99px,#e56636 139.5px,#f28535 190.5px,#f58f38 246px,#f48b37 285px,#e26037 351px,#dc5138 400.5px,#dd5438 436.5px,#f08034 508.5px,#f48b37 555px,#f38936 592.5px,#f08134 624px,#e26137 675px)"></div><div style="top:48px;height:3.6px;background:linear-gradient(90deg,#f69139 0px,#f18234 12px,#e86d36 33px,#df5a37 60px,#dc5238 79.5px,#e05a37 117px,#e76c36 153px,#f28736 192px,#f69239 258px,#f48b37 288px,#e26037 351px,#db4f38 400.5px,#dc5138 432px,#f18335 511.5px,#f58e38 561px,#f28535 618px,#e26137 675px)"></div><div style="top:51px;height:3.6px;background:linear-gradient(90deg,#f79339 0px,#f18134 13.5px,#e36337 43.5px,#dd5438 64.5px,#da4e38 81px,#dd5438 111px,#ee7c34 174px,#f38a37 195px,#f79439 253.5px,#f58e38 285px,#f08134 304.5px,#e26037 351px,#da4c38 405px,#dc5238 438px,#f28535 511.5px,#f69139 561px,#f28736 618px,#e26137 675px)"></div><div style="top:54px;height:3.6px;background:linear-gradient(90deg,#f8953a 0px,#f08134 15px,#e26137 43.5px,#db4f38 67.5px,#d94a38 82.5px,#d94b38 97.5px,#dd5438 117px,#ee7b34 172.5px,#f48a37 192px,#f8963a 250.5px,#f7953a 271.5px,#f58f38 286.5px,#f08134 306px,#e26037 351px,#d94a38 402px,#db5038 436.5px,#f18435 505.5px,#f79439 558px,#f79339 582px,#f38836 621px,#e26137 675px)"></div><div style="top:57px;height:3.6px;background:linear-gradient(90deg,#f8963b 0px,#f08034 16.5px,#df5937 49.5px,#d94a38 70.5px,#d74638 85.5px,#d94b38 108px,#ee7b34 171px,#f58d37 195px,#f8983c 252px,#f79439 280.5px,#f08134 307.5px,#e26037 351px,#da4c38 388.5px,#d74738 406.5px,#da4d38 433.5px,#f38936 510px,#f8973b 555px,#f8963a 585px,#f48c37 618px,#ee7c34 643.5px,#e26037 675px)"></div><div style="top:60px;height:3.6px;background:linear-gradient(90deg,#f8973c 0px,#f18234 16.5px,#dc5238 54px,#d74638 72px,#d54238 87px,#d94a38 112.5px,#ee7b34 169.5px,#f58e38 193.5px,#f9993e 241.5px,#f9993f 264px,#f8963a 280.5px,#f08134 309px,#e25f37 352.5px,#d84838 393px,#d64438 409.5px,#d74738 424.5px,#dd5438 445.5px,#ec7835 483px,#f48c37 510px,#f99a3f 558px,#f8983c 589.5px,#f58f38 618px,#ee7d34 645px,#e26037 675px)"></div><div style="top:63px;height:3.6px;background:linear-gradient(90deg,#f8983d 0px,#f08134 18px,#dd5438 49.5px,#d64438 69px,#d43e38 90px,#d84938 115.5px,#f08134 175.5px,#f69239 198px,#f99b41 241.5px,#f99b42 262.5px,#f7953a 286.5px,#f18234 310.5px,#e26037 351px,#d54238 403.5px,#d54238 417px,#da4e38 439.5px,#f18234 492px,#f69139 513px,#f99d44 558px,#f99d44 577.5px,#f79339 616.5px,#ef7e34 646.5px,#e26037 675px)"></div><div style="top:66px;height:3.6px;background:linear-gradient(90deg,#f9993e 0px,#f08034 19.5px,#da4e38 52.5px,#d43f38 72px,#d23b38 84px,#d43f38 108px,#e56936 147px,#f08134 174px,#f79439 198px,#fa9e45 253.5px,#f99c43 271.5px,#f8973b 286.5px,#f08134 313.5px,#e26037 351px,#d43f38 403.5px,#d44038 420px,#d94a38 436.5px,#f18234 489px,#f79339 510px,#faa149 564px,#fa9f48 582px,#f7953a 619.5px,#ef7f34 648px,#e15f37 675px)"></div><div style="top:69px;height:3.6px;background:linear-gradient(90deg,#f9993f 0px,#f08134 19.5px,#da4d38 51px,#d33d38 69px,#d03939 84px,#d23b38 108px,#e56936 147px,#f18234 172.5px,#f8973b 199.5px,#faa048 244.5px,#fa9f47 268.5px,#f9993e 286.5px,#f08134 315px,#dd5538 364.5px,#d23b38 406.5px,#d33d38 420px,#d84838 436.5px,#ee7c34 481.5px,#f69038 501px,#f8983c 513px,#fba44e 558px,#faa24c 586.5px,#f8983c 619.5px,#f08034 649.5px,#e15e37 675px)"></div><div style="top:72px;height:3.6px;background:linear-gradient(90deg,#f99a40 0px,#f8963a 6px,#f18234 19.5px,#de5638 43.5px,#d64338 57px,#d13a38 69px,#cd373a 85.5px,#d23b38 112.5px,#e66b36 148.5px,#f08034 169.5px,#f69038 186px,#fa9e45 214.5px,#fba34c 247.5px,#faa049 273px,#f8963a 295.5px,#f08034 318px,#dc5138 367.5px,#d23b38 396px,#d03939 405px,#d23b38 423px,#d64338 433.5px,#f18234 484.5px,#f7953a 502.5px,#fa9f47 523.5px,#fba956 564px,#fba753 583.5px,#f7953a 630px,#ef7f34 652.5px,#e15d37 675px)"></div><div style="top:75px;height:3.6px;background:linear-gradient(90deg,#f99b41 0px,#f8973b 6px,#f08034 21px,#dd5438 43.5px,#d33e38 58.5px,#cb353b 85.5px,#cb363a 102px,#d23b38 115.5px,#e66a36 147px,#f08134 168px,#f7953a 189px,#faa24c 220.5px,#fba651 244.5px,#fba34d 273px,#f8953a 300px,#f08134 319.5px,#de5638 360px,#d33e38 387px,#cd373a 405px,#d13a38 426px,#d64338 436.5px,#f08034 481.5px,#f8963a 499.5px,#faa24c 523.5px,#fcae5d 564px,#fbab59 586.5px,#f8963a 633px,#ec7735 660px,#e05c37 675px)"></div><div style="top:78px;height:3.6px;background:linear-gradient(90deg,#f99c43 0px,#f8983c 6px,#f08034 21px,#db4f38 45px,#d23b38 58.5px,#c8333b 85.5px,#c8333b 100.5px,#d33c38 118.5px,#ea7435 154.5px,#f8953a 186px,#fba34e 214.5px,#fbaa57 243px,#fba754 268.5px,#f8953a 303px,#f08134 321px,#d33d38 384px,#cb353b 403.5px,#cb363a 417px,#d23b38 432px,#dc5138 450px,#f08034 480px,#f79439 495px,#fa9e45 507px,#fbab5a 537px,#fcb365 562.5px,#fcb061 586.5px,#f8953a 637.5px,#ef7f34 655.5px,#e05b37 675px)"></div><div style="top:81px;height:3.6px;background:linear-gradient(90deg,#f99d45 0px,#f69139 12px,#f08034 21px,#d23b38 55.5px,#ca353b 67.5px,#c6313c 85.5px,#c6323c 102px,#d13a38 118.5px,#e56936 145.5px,#f18234 165px,#f79439 181.5px,#faa048 199.5px,#fbab59 223.5px,#fcae5d 237px,#fcae5f 253.5px,#fbab5a 270px,#f8983c 303px,#f08134 322.5px,#d43f38 378px,#c8333c 402px,#c8333b 417px,#d23c38 436.5px,#dd5338 453px,#f18234 480px,#f8963a 493.5px,#faa048 505.5px,#fbab59 523.5px,#fcb86d 559.5px,#fcb56a 585px,#f8963a 639px,#ed7935 660px,#df5937 675px)"></div><div style="top:84px;height:3.6px;background:linear-gradient(90deg,#fa9f47 0px,#f79439 10.5px,#f08034 21px,#d33c38 52.5px,#c8333b 66px,#c32f3d 84px,#c4303d 103.5px,#d03939 118.5px,#e76c36 147px,#f08034 162px,#f79439 178.5px,#fba44e 201px,#fcb062 226.5px,#fcb467 244.5px,#fcb264 264px,#fbab59 280.5px,#f8963a 307.5px,#f08034 324px,#d33e38 375px,#c5303d 402px,#c6323c 421.5px,#d23b38 439.5px,#f08034 478.5px,#f8963b 492px,#fba956 513px,#fcb163 526.5px,#fdbe76 561px,#fdbd76 577.5px,#fcb56a 597px,#f8973b 640.5px,#ec7735 661.5px,#de5738 675px)"></div><div style="top:87px;height:3.6px;background:linear-gradient(90deg,#faa14a 0px,#f8953a 10.5px,#f07f34 21px,#d23c38 51px,#c8333b 61.5px,#c02e3e 76.5px,#bf2e3e 99px,#cf3839 118.5px,#e56836 144px,#f08034 160.5px,#f8973b 178.5px,#fba752 199.5px,#fcb062 214.5px,#fcb96e 238.5px,#fcb96f 256.5px,#fcb467 273px,#fbab5a 286.5px,#f9993e 307.5px,#f08134 324px,#d23b38 373.5px,#c22f3e 396px,#be2e3f 405px,#c02f3e 418.5px,#d23b38 442.5px,#f08134 478.5px,#f8973b 490.5px,#fbac5a 511.5px,#fcb96f 531px,#fdc27d 556.5px,#fdc27e 576px,#fdbd76 592.5px,#f9993e 640.5px,#f08034 657px,#dd5438 675px)"></div><div style="top:90px;height:3.6px;background:linear-gradient(90deg,#fba34d 0px,#f8953a 10.5px,#f18234 19.5px,#d23c38 49.5px,#c4303d 63px,#bb2c40 76.5px,#bc2d3f 100.5px,#d03939 120px,#e86e36 147px,#f58d37 168px,#f8973b 175.5px,#fcad5c 201px,#fcb76d 217.5px,#fdbf78 238.5px,#fdbe77 261px,#fcb365 283.5px,#f8963a 312px,#f18234 324px,#d33c38 369px,#bb2c40 397.5px,#bb2d40 420px,#d03939 444px,#dd5538 459px,#f18234 478.5px,#f8973b 489px,#fcb365 514.5px,#fdbf79 532.5px,#fdc684 558px,#fdc584 577.5px,#fdc07a 597px,#f99c42 639px,#f79339 646.5px,#ec7735 661.5px,#dc5238 675px)"></div><div style="top:93px;height:3.6px;background:linear-gradient(90deg,#fba651 0px,#f8963a 10.5px,#f08134 19.5px,#d23c38 48px,#c4303d 60px,#b62a41 75px,#b72b41 97.5px,#c02e3e 108px,#cf3839 120px,#e56736 142.5px,#f18234 159px,#f8963a 172.5px,#fcb264 201px,#fdc17c 226.5px,#fdc480 244.5px,#fdc380 256.5px,#fdbe78 274.5px,#fcb061 292.5px,#f8963a 313.5px,#f28535 322.5px,#d13a38 367.5px,#b62a41 394.5px,#b12943 405px,#b42a42 418.5px,#c02e3e 432px,#d03939 447px,#d74738 454.5px,#ef7f34 477px,#f8963b 487.5px,#fcb96f 516px,#fdbf79 523.5px,#fdc584 540px,#feca8b 559.5px,#fec889 582px,#fdc07b 603px,#f99c42 640.5px,#f8973b 645px,#ed7a35 660px,#db4f38 675px)"></div><div style="top:96px;height:3.6px;background:linear-gradient(90deg,#fba956 0px,#f8963a 10.5px,#f07f34 19.5px,#d33c38 46.5px,#b42a42 69px,#af2743 76.5px,#ae2743 85.5px,#b72b41 102px,#d03939 121.5px,#e05b37 136.5px,#f08134 157.5px,#f8953a 169.5px,#fdba70 204px,#fdc482 225px,#fec887 244.5px,#fdc584 265.5px,#fdbd75 285px,#f8973c 313.5px,#f08034 325.5px,#d13a38 364.5px,#ac2644 396px,#aa2645 414px,#be2d3f 435px,#cf3839 448.5px,#d74638 456px,#ef7f34 477px,#f8953a 486px,#fdbb72 513px,#fdc583 528px,#fecd90 553.5px,#fecc90 580.5px,#fdc786 597px,#fdbf78 610.5px,#f8963a 646.5px,#f08034 657px,#e86e36 664.5px,#d94c38 675px)"></div><div style="top:99px;height:3.6px;background:linear-gradient(90deg,#fbac5a 0px,#f79239 12px,#ef7e34 19.5px,#d13a38 46.5px,#ac2644 70.5px,#a52346 79.5px,#ae2743 96px,#cd373a 120px,#e97135 147px,#f69038 165px,#f8983c 169.5px,#fcb467 192px,#fdc07b 205.5px,#fec787 222px,#fecc8f 243px,#fec98b 265.5px,#fdc17b 286.5px,#fcb264 298.5px,#f8973b 315px,#f08034 325.5px,#d23b38 361.5px,#a92545 388.5px,#a02148 397.5px,#a22247 415.5px,#cd373a 450px,#d33e38 454.5px,#ef7f34 477px,#f8973b 486px,#fcb66a 505.5px,#fdc17b 514.5px,#fec889 528px,#fed198 555px,#fecf95 583.5px,#fec889 600px,#fdc079 613.5px,#f79439 648px,#f08034 657px,#e56836 666px,#d84938 675px)"></div><div style="top:102px;height:3.6px;background:linear-gradient(90deg,#fcaf5f 0px,#f8973b 10.5px,#f08134 18px,#db4f38 36px,#d13b38 45px,#c3303d 55.5px,#9d2049 76.5px,#9d2049 84px,#a52346 93px,#cf3839 121.5px,#e46636 141px,#f28535 157.5px,#f8963a 166.5px,#fdbe76 196.5px,#fdc786 211.5px,#fed096 241.5px,#fecd92 265.5px,#fdc17c 291px,#f8983d 315px,#f08034 325.5px,#d13a38 360px,#c5313d 369px,#9f2148 387px,#951c4b 396px,#931c4c 403.5px,#9c2049 418.5px,#cf3839 453px,#d94a38 460.5px,#ef7f34 477px,#f8983d 486px,#fdc07a 510px,#fece93 532.5px,#ffd59f 555px,#fed39c 582px,#fece94 594px,#fdc07a 616.5px,#f7953a 648px,#f07f34 657px,#e66b36 664.5px,#d74638 675px)"></div><div style="top:105px;height:3.6px;background:linear-gradient(90deg,#fcb163 0px,#f8973b 10.5px,#f08034 18px,#d23b38 43.5px,#c4303d 54px,#a22247 69px,#941c4b 78px,#961d4b 87px,#a02148 94.5px,#c5303d 115.5px,#d33c38 124.5px,#e66a36 142.5px,#f58d37 160.5px,#f8963a 165px,#fdbc74 190.5px,#fdc481 199.5px,#fecd91 217.5px,#fed49d 241.5px,#fed199 265.5px,#fdc686 288px,#fdc07a 295.5px,#f8973b 316.5px,#f08034 325.5px,#d44038 355.5px,#cd373a 361.5px,#c3303d 367.5px,#951d4b 385.5px,#8c184e 391.5px,#88174f 403.5px,#911b4c 415.5px,#a22247 429px,#ca343b 451.5px,#d54238 459px,#ef7e34 477px,#f8963a 484.5px,#fdc07a 507px,#fed198 531px,#ffd9a6 556.5px,#ffd9a6 571.5px,#fed29b 592.5px,#fdc079 619.5px,#f8953a 648px,#ef7f34 657px,#e56936 664.5px,#d54338 675px)"></div><div style="top:108px;height:3.6px;background:linear-gradient(90deg,#fcb467 0px,#fba651 4.5px,#f8973b 10.5px,#ef7e34 18px,#d23c38 42px,#c22f3e 54px,#af2743 63px,#951d4b 72px,#8b184e 78px,#8a184e 84px,#911b4c 90px,#bf2e3e 114px,#d23b38 124.5px,#e56736 141px,#f38936 157.5px,#f8953a 163.5px,#fdbf78 189px,#fdc685 198px,#fed096 216px,#ffd8a4 241.5px,#ffd6a2 261px,#fecb8e 286.5px,#fdbf79 298.5px,#f8983d 316.5px,#f08034 325.5px,#d33d38 355.5px,#c5313d 364.5px,#ae2744 373.5px,#8c194e 384px,#7f1452 391.5px,#7d1452 400.5px,#8d194d 418.5px,#a12247 432px,#c5303d 450px,#d43f38 459px,#ef7e34 477px,#f8973b 484.5px,#fdc17b 505.5px,#fed49e 531px,#ffdcac 555px,#ffdbab 576px,#ffd7a3 589.5px,#fed097 601.5px,#fdbf78 622.5px,#f8963a 648px,#ef7e34 657px,#e76c36 663px,#d44038 675px)"></div><div style="top:111px;height:3.6px;background:linear-gradient(90deg,#fcb66b 0px,#faa24c 6px,#f8973b 10.5px,#ef7d34 18px,#df5837 30px,#d13a38 42px,#b42942 60px,#89184f 75px,#831551 79.5px,#811551 82.5px,#8a184e 91.5px,#c4303d 117px,#d13a38 124.5px,#e66b36 142.5px,#f08134 153px,#f8973c 163.5px,#fdc17b 187.5px,#fed097 210px,#ffdbaa 238.5px,#ffd9a7 264px,#ffd59f 276px,#feca8d 291px,#fdc07a 300px,#f8963a 318px,#f08034 325.5px,#d33e38 354px,#c5313d 363px,#b12843 370.5px,#851650 382.5px,#761155 390px,#731155 400.5px,#831650 415.5px,#991e4a 430.5px,#c22f3e 450px,#d33c38 459px,#ef7f34 477px,#f79439 483px,#fdbd75 501px,#fdc582 507px,#ffd6a1 528px,#ffdeb0 552px,#ffdeb1 573px,#ffd9a7 591px,#fdc17c 622.5px,#f8963a 648px,#ea7435 660px,#d33c38 675px)"></div><div style="top:114px;height:3.6px;background:linear-gradient(90deg,#fcb86d 0px,#fba854 4.5px,#f8973b 10.5px,#f08134 16.5px,#de5638 30px,#d23b38 40.5px,#c4303d 51px,#af2743 61.5px,#8d194d 72px,#7c1353 79.5px,#7a1353 85.5px,#841650 93px,#b02843 109.5px,#d03939 124.5px,#e66b36 142.5px,#f07f34 151.5px,#f69038 159px,#f99c42 165px,#fdbb72 181.5px,#fec787 192px,#ffd7a4 219px,#ffdeb0 243px,#ffdcac 265.5px,#fed097 288px,#fdc786 297px,#fdbd75 303px,#f8973b 318px,#f08034 325.5px,#d23b38 354px,#c22f3e 363px,#b12843 369px,#811551 381px,#6f0f57 388.5px,#690e58 397.5px,#7c1353 414px,#9b1f49 433.5px,#c6313c 453px,#d43f38 460.5px,#ef7f34 477px,#f9993e 484.5px,#fdb970 498px,#fdc480 504px,#ffd7a3 525px,#ffe0b5 550.5px,#ffe0b7 570px,#ffdcad 589.5px,#fed39c 604.5px,#fdbf79 625.5px,#f8963a 648px,#f08034 655.5px,#e36337 664.5px,#d13a38 675px)"></div><div style="top:117px;height:3.6px;background:linear-gradient(90deg,#fcb96f 0px,#fba34d 6px,#f8973b 10.5px,#f08034 16.5px,#db5038 31.5px,#d13a38 40.5px,#b12943 60px,#7e1452 76.5px,#751155 81px,#731056 85.5px,#7f1452 94.5px,#b72b41 114px,#d13a38 126px,#e56736 141px,#f08134 151.5px,#f8963a 160.5px,#fdc17b 183px,#fecc90 195px,#ffd5a0 208.5px,#ffe0b5 241.5px,#ffdeb2 264px,#ffdaa9 277.5px,#fed39c 288px,#fdc07b 303px,#f8983d 318px,#f08134 325.5px,#d33d38 352.5px,#c3303d 361.5px,#b22943 367.5px,#801551 379.5px,#680d59 388.5px,#630c5a 397.5px,#6c0f57 406.5px,#931c4c 430.5px,#be2d3f 450px,#d33e38 460.5px,#f07f34 477px,#f8963a 483px,#fdc07a 499.5px,#fecd91 510px,#ffdbaa 526.5px,#ffe2ba 550.5px,#ffe2bb 573px,#ffdeb1 589.5px,#ffd5a0 604.5px,#fdbf79 627px,#f8963a 648px,#f08034 655.5px,#cf3939 675px)"></div><div style="top:120px;height:3.6px;background:linear-gradient(90deg,#fdba70 0px,#fba955 4.5px,#f8963b 10.5px,#f08034 16.5px,#dd5338 30px,#d23b38 39px,#b12843 60px,#781254 78px,#6c0e58 85.5px,#761254 94.5px,#861650 100.5px,#b32942 114px,#d23b38 127.5px,#e66b36 142.5px,#ef7e34 150px,#f8983d 160.5px,#fba34c 166.5px,#fdbf78 180px,#fec888 187.5px,#ffdaa9 213px,#ffe2ba 243px,#ffdfb5 267px,#ffd6a1 288px,#fec98b 298.5px,#fdc079 304.5px,#f9993e 318px,#f08134 325.5px,#d23b38 352.5px,#c5313d 360px,#af2743 367.5px,#771254 381px,#640c5a 388.5px,#5f0b5b 396px,#660d59 405px,#921b4c 430.5px,#c4303d 453px,#d33d38 460.5px,#f08034 477px,#f8973c 483px,#fdbf79 498px,#fed29b 513px,#ffdfb3 531px,#ffe4bf 552px,#ffe4c0 570px,#ffdfb5 589.5px,#ffd59f 607.5px,#fdc17b 627px,#f8963a 648px,#ef7f34 655.5px,#ce3839 675px)"></div><div style="top:123px;height:3.6px;background:linear-gradient(90deg,#fdba71 0px,#fba34e 6px,#f8963a 10.5px,#f07f34 16.5px,#dc5238 30px,#d13b38 39px,#ad2744 61.5px,#731155 79.5px,#670d59 85.5px,#6d0f57 94.5px,#7d1452 100.5px,#ae2744 114px,#cd373a 126px,#f07f34 150px,#f8973b 159px,#fdbf78 178.5px,#fdc582 183px,#ffd7a4 204px,#ffe3bd 237px,#ffe2bc 261px,#ffdbaa 285px,#fed29a 294px,#fdc27d 304.5px,#f8963a 319.5px,#f18234 325.5px,#d33d38 351px,#c3303d 360px,#b22942 366px,#801551 378px,#650c5a 387px,#5e0b5b 396px,#670d59 406.5px,#921b4c 430.5px,#c02e3e 451.5px,#d33c38 460.5px,#f08134 477px,#f8983d 483px,#fdbe77 496.5px,#feca8c 504px,#ffd6a2 514.5px,#ffe0b6 529.5px,#ffe6c4 553.5px,#ffe5c4 571.5px,#ffe0b7 591px,#ffd5a0 609px,#fdc07a 628.5px,#f8963a 648px,#ef7e34 655.5px,#d33e38 672px,#cc373a 675px)"></div><div style="top:126px;height:3.6px;background:linear-gradient(90deg,#fdba71 0px,#fba34e 6px,#f8963a 10.5px,#ef7f34 16.5px,#dc5138 30px,#d13a38 39px,#ad2744 61.5px,#640c5a 85.5px,#650c5a 94.5px,#89174f 106.5px,#ad2744 115.5px,#c8333c 124.5px,#d23b38 129px,#ee7c34 148.5px,#f8953a 157.5px,#faa14a 163.5px,#fdbf78 177px,#fdc786 183px,#ffd5a0 198px,#ffddae 210px,#ffe3bf 232.5px,#ffe5c3 246px,#ffe3be 265.5px,#ffdfb3 280.5px,#ffd9a7 289.5px,#fecb8e 300px,#fdc07b 306px,#f8973c 319.5px,#f58d37 322.5px,#e36337 336px,#d03939 352.5px,#c22f3e 360px,#b12843 366px,#7b1353 379.5px,#6a0e58 385.5px,#5f0b5b 394.5px,#610b5a 400.5px,#670d59 406.5px,#931c4c 430.5px,#c9343b 456px,#d33c38 460.5px,#f18134 477px,#f9993f 483px,#fdc07b 496.5px,#ffdaa9 516px,#ffe0b7 526.5px,#ffe5c3 541.5px,#ffe8c9 558px,#ffe7c7 573px,#ffe3bd 588px,#ffdbaa 604.5px,#fecc90 619.5px,#fdbf78 630px,#f8963a 648px,#ef7d34 655.5px,#d23c38 672px,#cb353b 675px)"></div><div style="top:129px;height:3.6px;background:linear-gradient(90deg,#fdba71 0px,#fba34d 6px,#f8963a 10.5px,#ef7e34 16.5px,#db5038 30px,#d23c38 37.5px,#c6313c 46.5px,#ad2744 61.5px,#911b4c 72px,#670d59 84px,#610c5a 87px,#600b5a 94.5px,#6c0f57 100.5px,#861650 108px,#ad2744 117px,#d03939 129px,#ee7c34 148.5px,#f79339 156px,#fba34d 163.5px,#fdc17c 177px,#fed29a 192px,#ffddb0 208.5px,#ffe6c6 241.5px,#ffe6c4 259.5px,#ffe1b8 279px,#ffdaa8 291px,#fec888 303px,#fdbe78 307.5px,#fba550 315px,#f8983d 319.5px,#f38836 324px,#d13a38 351px,#c4303d 358.5px,#b42a42 364.5px,#87174f 376.5px,#6d0f57 385.5px,#620c5a 393px,#650c5a 403.5px,#921b4c 429px,#ca343b 456px,#d54238 462px,#ee7c34 475.5px,#f8963a 481.5px,#fdbf78 495px,#fed097 505.5px,#ffdcad 516px,#ffe3bf 531px,#ffe7c8 544.5px,#ffe9cd 559.5px,#ffe8c9 576px,#ffe1ba 594px,#ffdaa8 607.5px,#fdc07b 630px,#f8963a 648px,#ee7c34 655.5px,#d13a38 672px,#c9343b 675px)"></div><div style="top:132px;height:3.6px;background:linear-gradient(90deg,#fdba70 0px,#fba34d 6px,#f8953a 10.5px,#ef7e34 16.5px,#db4f38 30px,#d23b38 37.5px,#a42347 66px,#941c4c 72px,#650c5a 85.5px,#5f0b5b 88.5px,#5c0b5b 93px,#600b5a 97.5px,#731155 105px,#b32942 120px,#d13a38 130.5px,#f18234 150px,#f8953a 156px,#fdc37f 177px,#ffd7a4 196.5px,#ffdfb3 208.5px,#ffe8c9 241.5px,#ffe6c6 262.5px,#ffe3bc 277.5px,#ffdcae 289.5px,#fdc786 304.5px,#fdc17b 307.5px,#f9993f 319.5px,#f18435 325.5px,#d33c38 349.5px,#c32f3d 358.5px,#b32942 364.5px,#781254 382.5px,#680d59 391.5px,#660c5a 397.5px,#711056 409.5px,#a02148 435px,#cd373a 457.5px,#d33d38 460.5px,#ef7d34 475.5px,#f8973b 481.5px,#fdc17b 495px,#fed49e 507px,#ffdfb3 517.5px,#ffe4c1 529.5px,#ffe9cc 546px,#ffead0 558px,#ffeace 571.5px,#ffe7c7 583.5px,#ffdcad 606px,#fec98b 624px,#fdbf78 631.5px,#f8963a 648px,#ee7b34 655.5px,#d33e38 670.5px,#c8333c 675px)"></div><div style="top:135px;height:3.6px;background:linear-gradient(90deg,#fcb96f 0px,#faa24c 6px,#f8953a 10.5px,#ef7d34 16.5px,#dd5338 28.5px,#d13a38 37.5px,#9f2148 69px,#680d59 85.5px,#5e0b5b 90px,#5b0b5b 94.5px,#610b5a 100.5px,#7c1353 109.5px,#ad2744 120px,#c4303d 126px,#d33c38 132px,#ef7d34 148.5px,#f79239 154.5px,#fba854 163.5px,#fdc07b 174px,#fed39d 190.5px,#ffe0b6 208.5px,#ffe9cc 241.5px,#ffe8ca 259.5px,#ffe3bd 280.5px,#ffdaa8 294px,#fdc27e 307.5px,#fa9f47 318px,#f8963b 321px,#f28535 325.5px,#df5837 339px,#d23b38 349.5px,#b62a41 363px,#7c1353 382.5px,#6e0f57 391.5px,#6c0e58 399px,#781254 411px,#cb353b 456px,#d33e38 460.5px,#f28535 477px,#f99c43 483px,#fdbf78 493.5px,#fecd91 501px,#ffdfb4 516px,#ffe5c3 528px,#ffeacf 546px,#ffecd3 558px,#ffebd0 573px,#ffe5c2 591px,#ffdcad 607.5px,#fed29a 618px,#fdc07a 631.5px,#f8963a 648px,#f08034 654px,#d23c38 670.5px,#c7323c 675px)"></div><div style="top:138px;height:3.6px;background:linear-gradient(90deg,#fcb86e 0px,#faa24b 6px,#f7943a 10.5px,#ee7d34 16.5px,#d84938 31.5px,#d13a38 37.5px,#9e2049 70.5px,#630c5a 88.5px,#5b0a5b 96px,#660d59 105px,#811551 112.5px,#c02e3e 126px,#d13a38 132px,#ef7e34 148.5px,#f79439 154.5px,#fdc07a 172.5px,#fdc481 175.5px,#ffd9a7 195px,#ffe2bc 211.5px,#ffe8cb 231px,#ffeacf 244.5px,#ffe9cc 261px,#ffe4bf 280.5px,#ffdbab 294px,#fdc786 306px,#f8983c 321px,#f08034 327px,#de5738 339px,#d03a39 349.5px,#bc2d40 360px,#89184f 378px,#7d1452 384px,#721056 394.5px,#731056 400.5px,#7f1452 412.5px,#bb2c40 447px,#d13a38 459px,#db5038 465px,#f07f34 475.5px,#f9993e 481.5px,#fdc17b 493.5px,#fed198 502.5px,#ffdeb2 513px,#ffe6c6 528px,#ffebd1 544.5px,#ffedd5 568.5px,#ffe9cc 583.5px,#ffddaf 607.5px,#fed39c 618px,#fdc17b 631.5px,#f8963a 648px,#f07f34 654px,#d13a38 670.5px,#c5313d 675px)"></div><div style="top:141px;height:3.6px;background:linear-gradient(90deg,#fcb76c 0px,#fba652 4.5px,#f79439 10.5px,#f18234 15px,#d33c38 36px,#c6313c 45px,#9a1f4a 73.5px,#610b5a 91.5px,#5c0b5b 96px,#600b5a 103.5px,#6f0f57 109.5px,#88174f 115.5px,#b02843 123px,#d33d38 133.5px,#ef7f34 148.5px,#f8963a 154.5px,#fdc17d 172.5px,#ffd7a4 192px,#ffe3bd 210px,#ffe9cc 228px,#ffebd1 241.5px,#ffeacf 259.5px,#ffe4bf 283.5px,#ffdcae 294px,#fdc27d 309px,#f9993e 321px,#f08134 327px,#d64338 345px,#ca343b 352.5px,#88174f 379.5px,#7a1353 390px,#791254 400.5px,#841650 412.5px,#cc363a 456px,#d23b38 459px,#d94b38 463.5px,#f08034 475.5px,#f99a40 481.5px,#fdc27d 493.5px,#fed29b 502.5px,#ffe1ba 516px,#ffe7c9 528px,#ffecd5 547.5px,#ffedd5 573px,#ffe7c8 589.5px,#ffdeb1 607.5px,#fed097 621px,#fdc480 630px,#f8963a 648px,#ef7f34 654px,#d33e38 669px,#c4303d 675px)"></div><div style="top:144px;height:3.6px;background:linear-gradient(90deg,#fcb66a 0px,#fba550 4.5px,#f79339 10.5px,#f08134 15px,#d23b38 36px,#c5313d 45px,#a02148 72px,#921b4c 78px,#620c5a 93px,#5d0b5b 97.5px,#610b5a 105px,#6f0f57 111px,#89174f 117px,#b22942 124.5px,#d23b38 133.5px,#f07f34 148.5px,#f8973c 154.5px,#fdc17c 171px,#ffd6a1 189px,#ffe4c1 211.5px,#ffead0 231px,#ffecd3 241.5px,#ffebd1 259.5px,#ffe5c1 283.5px,#ffdcad 295.5px,#feca8b 306px,#fdbf79 310.5px,#f99a40 321px,#f38836 325.5px,#e05a37 337.5px,#d54138 345px,#cd373a 349.5px,#87174f 381px,#7d1452 393px,#7f1452 402px,#89184f 412.5px,#c6313c 451.5px,#d03939 457.5px,#dc5238 465px,#f18234 475.5px,#f8963b 480px,#fba54f 484.5px,#fdc07a 492px,#ffd6a2 504px,#ffe3bd 516px,#ffe8ca 526.5px,#ffecd5 543px,#ffeed9 556.5px,#ffeed7 573px,#ffe8ca 589.5px,#ffe0b7 604.5px,#fed39c 619.5px,#fdc27d 631.5px,#f8963a 648px,#ef7e34 654px,#d33d38 669px,#c22f3e 675px)"></div><div style="top:147px;height:3.6px;background:linear-gradient(90deg,#fcb569 0px,#fba44f 4.5px,#f69239 10.5px,#f08034 15px,#db5038 28.5px,#d23b38 36px,#c32f3d 46.5px,#a02148 73.5px,#8e194d 81px,#630c5a 94.5px,#600b5a 105px,#701056 112.5px,#831650 117px,#b52a42 126px,#d03a39 133.5px,#f08034 148.5px,#f79339 153px,#fdc07b 169.5px,#ffdaa8 192px,#ffe6c5 213px,#ffead0 226.5px,#ffecd5 241.5px,#ffebd1 264px,#ffe7c7 280.5px,#ffdeb3 294px,#ffd7a3 300px,#fec888 307.5px,#fdc17c 310.5px,#fba550 318px,#f8973b 322.5px,#f18335 327px,#da4e38 340.5px,#ce3839 348px,#8a184e 379.5px,#811551 391.5px,#831551 400.5px,#8a184e 409.5px,#bb2c40 444px,#d03a39 457.5px,#dd5338 465px,#f18335 475.5px,#f8973c 480px,#fdc17c 492px,#ffdaa9 505.5px,#ffe5c4 519px,#ffedd6 541.5px,#ffefdb 561px,#ffeed7 576px,#ffeacf 586.5px,#ffdfb4 607.5px,#fed29a 621px,#fdc07a 633px,#f8963a 648px,#ef7e34 654px,#d23b38 669px,#c02e3e 675px)"></div><div style="top:150px;height:3.6px;background:linear-gradient(90deg,#fcb467 0px,#f8973b 9px,#f28535 13.5px,#df5937 25.5px,#d13a38 36px,#bb2c40 51px,#a02148 75px,#8e194d 82.5px,#680d59 94.5px,#610b5a 103.5px,#630c5a 108px,#721056 114px,#851650 118.5px,#b12843 126px,#cf3839 133.5px,#f08134 148.5px,#f8953a 153px,#fdbc74 166.5px,#fdc481 171px,#ffdba9 192px,#ffe5c2 208.5px,#ffe9cd 219px,#ffedd6 237px,#ffedd5 256.5px,#ffe8c9 280.5px,#ffdfb5 294px,#fed096 304.5px,#fdbe77 312px,#f8983d 322.5px,#f28435 327px,#d94c38 340.5px,#cc363a 348px,#901b4d 375px,#841650 388.5px,#861650 399px,#8b184e 406.5px,#bb2c40 442.5px,#d13a38 457.5px,#dd5438 465px,#f28435 475.5px,#f8983e 480px,#fdc27e 492px,#ffd9a7 504px,#ffe3bf 514.5px,#ffe9cd 525px,#ffedd7 540px,#fff0dc 558px,#ffefda 573px,#ffeacf 588px,#ffe1ba 604.5px,#ffd6a2 618px,#fdc37f 631.5px,#f8963a 648px,#ef7d34 654px,#d13a38 669px,#be2e3f 675px)"></div><div style="top:153px;height:3.6px;background:linear-gradient(90deg,#fcb365 0px,#fa9e46 6px,#f69038 10.5px,#ef7e34 15px,#e15d37 24px,#d13a39 36px,#bb2c40 51px,#a02148 76.5px,#670d59 97.5px,#630c5a 100.5px,#650c5a 109.5px,#6f0f57 114px,#801551 118.5px,#b52a41 127.5px,#d23b38 135px,#f18234 148.5px,#f8973b 153px,#fcb66b 163.5px,#fdc380 169.5px,#ffd9a6 189px,#ffe8cb 214.5px,#ffedd7 234px,#ffedd7 253.5px,#ffe8c9 282px,#ffdfb4 295.5px,#fecb8d 307.5px,#fdc07b 312px,#fba34d 319.5px,#f9993f 322.5px,#f28535 327px,#d33d38 343.5px,#c6313c 349.5px,#9f2148 364.5px,#8f1a4d 373.5px,#87174f 382.5px,#861650 394.5px,#901b4c 408px,#c02e3e 445.5px,#d13a38 457.5px,#dd5538 465px,#f28535 475.5px,#f99a3f 480px,#fdc07a 490.5px,#ffdaa9 504px,#ffe4c1 514.5px,#ffead0 526.5px,#ffedd7 537px,#fff0dd 558px,#fff0db 571.5px,#ffecd4 585px,#ffe1b9 606px,#ffd5a0 619.5px,#fdc17b 633px,#f8963a 648px,#ee7d34 654px,#d33e38 667.5px,#bc2d3f 675px)"></div><div style="top:156px;height:3.6px;background:linear-gradient(90deg,#fcb264 0px,#f9993f 7.5px,#f38936 12px,#e05c37 24px,#d23b38 34.5px,#b82b40 52.5px,#a22247 76.5px,#961d4b 82.5px,#690d59 99px,#650c5a 108px,#701056 115.5px,#8c194e 121.5px,#ba2c40 129px,#d13a38 135px,#f18335 148.5px,#f8983d 153px,#fcb96e 163.5px,#fdc07b 166.5px,#fec989 172.5px,#ffe2bb 201px,#ffe9cd 214.5px,#ffedd6 226.5px,#ffedd6 262.5px,#ffe8c9 283.5px,#ffe0b6 295.5px,#fec98a 309px,#fdbd76 313.5px,#fba550 319.5px,#f8953a 324px,#f07f34 328.5px,#d33e38 342px,#c4303d 348px,#a72446 357px,#901b4c 367.5px,#87174f 378px,#861650 391.5px,#911b4c 406.5px,#c8333b 451.5px,#d23b38 457.5px,#d64438 460.5px,#f07f34 474px,#f8953a 478.5px,#fba54f 483px,#fdc17c 490.5px,#ffdbab 504px,#ffe6c5 516px,#ffeacf 523.5px,#ffeed8 537px,#fff1de 558px,#fff0dc 573px,#ffebd2 588px,#ffe1b8 607.5px,#ffd8a4 618px,#fdc480 631.5px,#f8963a 648px,#ee7c34 654px,#d33d38 667.5px,#ba2c40 675px)"></div><div style="top:159px;height:3.6px;background:linear-gradient(90deg,#fcb162 0px,#faa14a 4.5px,#f79339 9px,#f18134 13.5px,#dd5538 25.5px,#d13b38 34.5px,#be2d3f 48px,#9f2148 79.5px,#6c0f57 99px,#660c5a 108px,#6a0e58 114px,#731056 117px,#88174f 121.5px,#b82b41 129px,#d03a39 135px,#ee7c34 147px,#f9993e 153px,#fdbf79 165px,#fdc685 169.5px,#ffdcab 190.5px,#ffeacf 214.5px,#ffeed8 228px,#ffeed9 250.5px,#ffeace 280.5px,#ffe1b8 295.5px,#fece92 307.5px,#fdc07a 313.5px,#f8973b 324px,#f08034 328.5px,#d33e38 340.5px,#c6313c 345px,#a12148 354px,#8e1a4d 360px,#851650 366px,#821551 378px,#861650 391.5px,#911b4c 405px,#af2743 427.5px,#c8333b 451.5px,#d23b38 457.5px,#d64438 460.5px,#f08034 474px,#f8963b 478.5px,#fdc27d 490.5px,#ffdaa8 502.5px,#ffe6c6 516px,#ffecd3 526.5px,#ffeed9 537px,#fff1df 558px,#fff0dc 576px,#ffedd5 586.5px,#ffe1b9 607.5px,#ffd8a5 618px,#fdc481 631.5px,#f8963a 648px,#ee7c34 654px,#d23b38 667.5px,#b82b41 675px)"></div><div style="top:162px;height:3.6px;background:linear-gradient(90deg,#fcb061 0px,#f8983c 7.5px,#f48c37 10.5px,#f08034 13.5px,#dd5338 25.5px,#d03a39 34.5px,#b72b41 52.5px,#a32247 78px,#6d0f57 100.5px,#670d59 105px,#670d59 112.5px,#761155 118.5px,#8e1a4d 123px,#ae2744 127.5px,#d03939 135px,#f28535 148.5px,#f99a40 153px,#fcb96f 162px,#fdc380 166.5px,#fecd91 174px,#ffe5c3 204px,#ffeed8 223.5px,#ffeed8 261px,#ffeace 282px,#ffe1ba 295.5px,#fed29b 306px,#fdbc74 315px,#f8983d 324px,#f38836 327px,#d44038 339px,#c9343b 342px,#9b1f49 351px,#831650 357px,#791353 363px,#791254 370.5px,#8a184e 397.5px,#b12843 429px,#c22f3d 447px,#cc363a 454.5px,#d13a38 457.5px,#d84938 462px,#f08134 474px,#f8973c 478.5px,#fdc37f 490.5px,#ffdaa9 502.5px,#ffe5c2 513px,#ffedd7 531px,#fff1df 553.5px,#fff1de 573px,#ffecd5 588px,#ffe4c1 603px,#ffdaa9 616.5px,#fdc786 630px,#fdbe77 634.5px,#f8963a 648px,#ee7c34 654px,#d13b38 667.5px,#b62a41 675px)"></div><div style="top:165px;height:3.6px;background:linear-gradient(90deg,#fcb061 0px,#f8973b 7.5px,#f18435 12px,#dc5138 25.5px,#d23b38 33px,#b82b41 51px,#a72446 75px,#991e4a 84px,#6b0e58 103.5px,#680d59 114px,#7b1353 120px,#b52a41 129px,#d03939 135px,#ef7e34 147px,#f8963b 151.5px,#fdbb72 162px,#fecb8d 171px,#ffe7c7 205.5px,#ffeed8 220.5px,#ffefda 253.5px,#ffedd6 271.5px,#ffeace 283.5px,#ffe1b9 297px,#fed49e 306px,#fdbf78 315px,#fa9f47 322.5px,#f38936 327px,#d13a38 339px,#c4303d 342px,#951d4b 349.5px,#7f1452 354px,#711056 360px,#6f0f57 367.5px,#8e1a4d 402px,#ad2744 426px,#c7323c 451.5px,#d13a39 457.5px,#d54338 460.5px,#f18235 474px,#f8983d 478.5px,#fdc481 490.5px,#ffd9a6 501px,#ffe6c5 514.5px,#ffedd6 528px,#ffefdb 538.5px,#fff1e0 555px,#fff1de 574.5px,#ffedd6 588px,#ffe5c2 603px,#ffd9a6 618px,#fdc27d 633px,#f8963a 648px,#ee7c34 654px,#d13a38 667.5px,#b42942 675px)"></div><div style="top:168px;height:3.6px;background:linear-gradient(90deg,#fcb061 0px,#f99a40 6px,#f38936 10.5px,#df5937 22.5px,#d03a39 33px,#c6313c 40.5px,#b42a42 54px,#a62446 76.5px,#971d4b 85.5px,#6f0f57 103.5px,#680d59 112.5px,#6f1056 117px,#7b1353 120px,#b52a41 129px,#d03939 135px,#f08034 147px,#f8983c 151.5px,#fdbd76 162px,#fece92 172.5px,#ffe8cb 207px,#ffefda 222px,#ffefda 258px,#ffeace 285px,#ffe2bb 297px,#ffd6a1 306px,#fdc583 313.5px,#f79439 325.5px,#f08134 328.5px,#d44138 337.5px,#c8333c 340.5px,#801551 352.5px,#721056 357px,#6c0e58 366px,#88174f 397.5px,#c6313c 451.5px,#d23c38 459px,#ee7b34 472.5px,#f9993e 478.5px,#fdc582 490.5px,#ffd9a7 501px,#ffe7c8 516px,#ffecd5 526.5px,#ffefdb 537px,#fff2e1 558px,#fff1de 576px,#ffedd6 589.5px,#ffe3be 606px,#ffd9a6 618px,#fdc27d 633px,#f8963a 648px,#ee7c34 654px,#d03939 667.5px,#b12943 675px)"></div></div><div class="bg" style="top:380.9px"><div style="top:0px;height:3.6px;background:linear-gradient(90deg,#901b4c 0px,#8d194e 22.5px,#731155 93px,#721056 112.5px,#851650 162px,#9d2049 190.5px,#a82446 265.5px,#9f2148 304.5px,#811551 379.5px,#721056 403.5px,#701056 423px,#811551 471px,#a12148 508.5px,#a92545 529.5px,#a92545 625.5px,#991e4a 675px)"></div><div style="top:3px;height:3.6px;background:linear-gradient(90deg,#911b4c 0px,#8c194e 28.5px,#731155 91.5px,#701056 111px,#811551 156px,#a12248 195px,#ab2645 244.5px,#ab2645 267px,#a12148 304.5px,#8c194e 346.5px,#851650 372px,#711056 403.5px,#6f1056 423px,#801551 469.5px,#a42347 510px,#aa2545 523.5px,#ac2644 619.5px,#9a1f4a 675px)"></div><div style="top:6px;height:3.6px;background:linear-gradient(90deg,#921b4c 0px,#841650 54px,#701056 97.5px,#6f0f57 115.5px,#7d1452 150px,#a42347 196.5px,#ae2744 267px,#a12148 309px,#8b184e 349.5px,#841650 375px,#701056 403.5px,#6d0f57 417px,#7f1452 468px,#a22247 505.5px,#ab2645 520.5px,#b02843 574.5px,#ae2744 619.5px,#9b1f49 675px)"></div><div style="top:9px;height:3.6px;background:linear-gradient(90deg,#931c4c 0px,#89174f 42px,#6d0f57 103.5px,#6d0f57 115.5px,#841650 160.5px,#9b1f49 181.5px,#a62446 196.5px,#b12843 261px,#a42347 306px,#8d194d 345px,#841650 375px,#6d0f57 406.5px,#6c0f57 421.5px,#7d1452 465px,#89184f 481.5px,#a52346 507px,#ad2744 522px,#b22943 573px,#b02843 618px,#a82446 648px,#9b1f49 675px)"></div><div style="top:12px;height:3.6px;background:linear-gradient(90deg,#941c4b 0px,#8c184e 34.5px,#6e0f57 96px,#6b0e58 112.5px,#7d1452 151.5px,#a82446 196.5px,#b12843 235.5px,#b22942 268.5px,#a42347 309px,#8b184e 349.5px,#831551 376.5px,#6c0f57 405px,#6a0e58 420px,#7a1353 460.5px,#88174f 480px,#a82446 508.5px,#af2743 523.5px,#b22943 613.5px,#ac2644 640.5px,#9c1f49 675px)"></div><div style="top:15px;height:3.6px;background:linear-gradient(90deg,#961d4b 0px,#851650 52.5px,#6d0f57 94.5px,#6a0e58 115.5px,#7c1353 150px,#a92545 195px,#b22943 232.5px,#b42942 265.5px,#a62446 307.5px,#8b184e 349.5px,#831551 375px,#690e58 408px,#680d59 418.5px,#721056 447px,#831650 474px,#a82446 507px,#b02843 520.5px,#b52a42 568.5px,#b32942 615px,#ac2644 643.5px,#9c2049 675px)"></div><div style="top:18px;height:3.6px;background:linear-gradient(90deg,#971d4b 0px,#861650 49.5px,#6a0e58 97.5px,#680d59 112.5px,#7b1353 148.5px,#a52346 187.5px,#ac2644 198px,#b52a42 244.5px,#b52a42 268.5px,#a52346 312px,#8b184e 349.5px,#831551 373.5px,#680d59 406.5px,#660d59 418.5px,#701056 445.5px,#831650 474px,#ac2644 510px,#b22943 523.5px,#b62a41 565.5px,#b42942 616.5px,#ad2744 643.5px,#9d2049 675px)"></div><div style="top:21px;height:3.6px;background:linear-gradient(90deg,#981e4a 0px,#87174f 46.5px,#6a0e58 93px,#670d59 114px,#7e1452 151.5px,#9f2148 180px,#ad2744 196.5px,#b62a41 243px,#b62a41 270px,#a72446 310.5px,#8b184e 349.5px,#7e1452 379.5px,#660d59 406.5px,#640c5a 420px,#6d0f57 442.5px,#7d1452 466.5px,#8a184e 481.5px,#a92545 505.5px,#b22943 517.5px,#b82b41 570px,#b62a41 610.5px,#ae2744 643.5px,#9d2049 675px)"></div><div style="top:24px;height:3.6px;background:linear-gradient(90deg,#991e4a 0px,#88174f 43.5px,#680d59 93px,#650c5a 109.5px,#690e58 121.5px,#7c1353 148.5px,#a22247 181.5px,#af2843 198px,#b82b41 264px,#a92545 309px,#8c194e 348px,#7a1353 382.5px,#640c5a 406.5px,#620c5a 418.5px,#670d59 435px,#7e1452 468px,#8a184e 481.5px,#ac2644 507px,#b42942 520.5px,#b92b40 567px,#b72b41 612px,#af2743 643.5px,#9d2049 675px)"></div><div style="top:27px;height:3.6px;background:linear-gradient(90deg,#9b1f49 0px,#851650 48px,#680d59 88.5px,#640c5a 111px,#7d1452 148.5px,#a52346 183px,#b02843 196.5px,#b92b40 265.5px,#ab2645 307.5px,#7b1353 379.5px,#620c5a 406.5px,#610c5a 423px,#650c5a 435px,#7f1452 469.5px,#8c194e 483px,#ad2744 507px,#b52a42 519px,#bb2c40 573px,#b92b40 606px,#b12843 640.5px,#9d2049 675px)"></div><div style="top:30px;height:3.6px;background:linear-gradient(90deg,#9c2049 0px,#8b184e 37.5px,#660d59 87px,#630c5a 111px,#821551 153px,#af2743 192px,#b92b40 238.5px,#ba2c40 267px,#ad2744 306px,#7c1353 376.5px,#660d59 397.5px,#5f0b5b 411px,#5f0b5b 421.5px,#620c5a 432px,#7f1452 469.5px,#8c194e 483px,#b02843 508.5px,#b72b41 522px,#bb2c40 601.5px,#b02843 645px,#9e2049 675px)"></div><div style="top:33px;height:3.6px;background:linear-gradient(90deg,#9e2048 0px,#7e1452 55.5px,#640c5a 85.5px,#610c5a 105px,#680d59 121.5px,#7f1452 148.5px,#b12843 193.5px,#bb2c40 267px,#b02843 303px,#7e1452 372px,#650c5a 396px,#5d0b5b 411px,#5d0b5b 421.5px,#660d59 441px,#87174f 478.5px,#b12843 508.5px,#b82b41 520.5px,#be2d3f 577.5px,#ba2c40 615px,#b12843 645px,#9e2048 675px)"></div><div style="top:36px;height:3.6px;background:linear-gradient(90deg,#a02148 0px,#8c194e 36px,#680d59 76.5px,#5f0b5b 97.5px,#680d59 121.5px,#88174f 156px,#b12843 190.5px,#bc2d40 244.5px,#bb2c40 274.5px,#aa2545 315px,#791254 376.5px,#630c5a 396px,#5b0b5b 411px,#5d0b5b 427.5px,#660d59 442.5px,#89174f 480px,#b12843 507px,#ba2c40 522px,#bf2e3f 570px,#bd2d3f 606px,#af2743 651px,#9e2148 675px)"></div><div style="top:39px;height:3.6px;background:linear-gradient(90deg,#a22247 0px,#8b184e 37.5px,#640c5a 78px,#5e0b5b 102px,#721056 132px,#b32942 192px,#bd2d3f 243px,#bd2d3f 270px,#b52a42 297px,#a82446 319.5px,#791254 375px,#610c5a 396px,#590a5b 411px,#5b0b5b 426px,#650c5a 442.5px,#89184f 480px,#b22942 507px,#bb2c40 520.5px,#c12f3e 574.5px,#be2d3f 609px,#b02843 651px,#9f2148 675px)"></div><div style="top:42px;height:3.6px;background:linear-gradient(90deg,#a42347 0px,#8e194d 34.5px,#630c5a 76.5px,#5b0b5b 94.5px,#670d59 120px,#8b184e 156px,#ac2644 181.5px,#b52a42 193.5px,#be2d3f 240px,#be2d3f 271.5px,#b02843 310.5px,#781254 375px,#5e0b5b 397.5px,#570a5b 411px,#590a5b 424.5px,#640c5a 442.5px,#8b184e 481.5px,#b32942 507px,#bd2d3f 522px,#c12f3e 601.5px,#b12843 651px,#a02148 675px)"></div><div style="top:45px;height:3.6px;background:linear-gradient(90deg,#a62446 0px,#901a4d 33px,#5d0b5b 81px,#590a5b 94.5px,#630c5a 115.5px,#8b184e 154.5px,#ae2744 181.5px,#b62a41 192px,#c02e3e 244.5px,#bf2e3f 274.5px,#ac2644 318px,#7a1353 372px,#640c5a 390px,#560a5c 408px,#580a5b 424.5px,#620c5a 441px,#88174f 478.5px,#b12843 504px,#bf2e3f 522px,#c4303d 567px,#c22f3e 606px,#b22943 651px,#a12148 675px)"></div><div style="top:48px;height:3.6px;background:linear-gradient(90deg,#a92545 0px,#911b4c 33px,#5f0b5b 76.5px,#570a5b 90px,#630c5a 115.5px,#8b184e 153px,#b02843 181.5px,#bb2c40 201px,#c12f3e 240px,#c12f3e 273px,#b22943 312px,#731056 378px,#5b0b5b 397.5px,#54095c 409.5px,#590a5b 429px,#630c5a 442.5px,#8c194e 481.5px,#b62a41 507px,#c12f3e 523.5px,#c5303d 600px,#b42942 649.5px,#a22247 675px)"></div><div style="top:51px;height:3.6px;background:linear-gradient(90deg,#ab2644 0px,#9b1f49 24px,#781254 57px,#610c5a 73.5px,#550a5c 90px,#590a5b 103.5px,#660d59 118.5px,#8b184e 151.5px,#b32942 183px,#bd2d3f 202.5px,#c22f3e 234px,#c32f3d 271.5px,#b72b41 306px,#a92545 325.5px,#791254 372px,#5a0a5b 397.5px,#53095c 409.5px,#570a5b 426px,#630c5a 442.5px,#89184f 478.5px,#b92b40 508.5px,#c3303d 523.5px,#c7323c 564px,#c5303d 609px,#b32942 654px,#a32247 675px)"></div><div style="top:54px;height:3.6px;background:linear-gradient(90deg,#ae2743 0px,#971d4b 30px,#7c1353 54px,#620c5a 72px,#54095c 88.5px,#570a5b 102px,#630c5a 115.5px,#b62a41 184.5px,#bf2e3f 202.5px,#c4303d 234px,#c4303d 277.5px,#b82b41 307.5px,#a22247 334.5px,#680d59 385.5px,#53095c 406.5px,#54095c 420px,#630c5a 442.5px,#88174f 477px,#b92b40 507px,#c5313d 523.5px,#c8333c 601.5px,#b92b40 645px,#a42346 675px)"></div><div style="top:57px;height:3.6px;background:linear-gradient(90deg,#b12843 0px,#991e4a 30px,#600b5a 73.5px,#53095c 90px,#54095c 97.5px,#630c5a 115.5px,#b42942 180px,#be2d3f 193.5px,#c32f3d 211.5px,#c7323c 265.5px,#bb2c40 306px,#af2743 324px,#5d0b5b 394.5px,#52095c 411px,#550a5c 423px,#640c5a 442.5px,#89184f 477px,#b02843 499.5px,#c02e3e 511.5px,#c7323c 525px,#c9343b 606px,#b72b41 652.5px,#a62446 675px)"></div><div style="top:60px;height:3.6px;background:linear-gradient(90deg,#b42a42 0px,#9d2049 28.5px,#5b0b5b 78px,#53095c 88.5px,#54095c 99px,#600b5a 112.5px,#ba2c40 184.5px,#c5303d 210px,#c9343b 261px,#bf2e3f 303px,#b02843 325.5px,#89174f 358.5px,#5c0b5b 396px,#53095c 408px,#54095c 420px,#630c5a 441px,#8e1a4d 480px,#b22943 499.5px,#c22f3e 511.5px,#c8333c 522px,#ce373a 577.5px,#cc363a 601.5px,#c22f3e 634.5px,#a82545 675px)"></div><div style="top:63px;height:3.6px;background:linear-gradient(90deg,#b72b41 0px,#a32247 25.5px,#791254 58.5px,#630c5a 72px,#53095c 90px,#54095c 99px,#5d0b5b 109.5px,#89174f 144px,#b32942 175.5px,#c02e3e 189px,#c6313c 204px,#ca343b 273px,#c02e3e 306px,#b12843 327px,#620c5a 391.5px,#54095c 408px,#580a5b 426px,#660d59 442.5px,#941c4b 483px,#b12843 498px,#c4303d 511.5px,#ca343b 523.5px,#cf3839 597px,#c22f3e 639px,#ab2645 675px)"></div><div style="top:66px;height:3.6px;background:linear-gradient(90deg,#b92c40 0px,#a62446 25.5px,#5d0b5b 78px,#54095c 90px,#550a5c 99px,#5e0b5b 109.5px,#89174f 142.5px,#bd2d3f 183px,#c5313d 193.5px,#c9343b 210px,#cc363a 273px,#c12f3e 309px,#af2743 331.5px,#861650 363px,#620c5a 393px,#550a5c 411px,#5e0b5b 432px,#861650 471px,#961d4b 483px,#bf2e3f 505.5px,#cb353b 520.5px,#d23b38 594px,#c5313d 637.5px,#ae2744 675px)"></div><div style="top:69px;height:3.6px;background:linear-gradient(90deg,#bc2d3f 0px,#ab2645 24px,#5f0b5b 78px,#550a5c 93px,#610c5a 111px,#8e194d 145.5px,#bc2d3f 180px,#c7323c 193.5px,#cb353b 210px,#cf3839 262.5px,#c6313c 304.5px,#b02843 333px,#861650 364.5px,#620c5a 394.5px,#570a5b 411px,#610c5a 433.5px,#841650 468px,#961d4b 481.5px,#bd2d3f 502.5px,#cc363a 519px,#d44038 574.5px,#d33c38 600px,#c4303d 645px,#b02843 675px)"></div><div style="top:72px;height:3.6px;background:linear-gradient(90deg,#c02e3e 0px,#ab2645 27px,#630c5a 76.5px,#580a5b 91.5px,#580a5b 97.5px,#630c5a 111px,#c02e3e 181.5px,#cd373a 208.5px,#d13a39 265.5px,#c6313c 309px,#b12843 334.5px,#680d59 391.5px,#5a0a5b 409.5px,#610c5a 430.5px,#841650 466.5px,#961d4b 480px,#c4303d 505.5px,#ce383a 519px,#d64438 573px,#d54138 598.5px,#c6313c 645px,#b32942 675px)"></div><div style="top:75px;height:3.6px;background:linear-gradient(90deg,#c32f3d 0px,#ad2744 28.5px,#630c5a 79.5px,#5b0b5b 91.5px,#620c5a 108px,#8e194d 142.5px,#c4303d 183px,#d03939 214.5px,#d23b38 277.5px,#c6313c 313.5px,#b02843 337.5px,#89174f 366px,#640c5a 397.5px,#5d0b5b 409.5px,#640c5a 430.5px,#811551 462px,#941c4b 477px,#c6313c 505.5px,#d23b38 525px,#d84838 573px,#d74838 589.5px,#cb353b 637.5px,#b52a42 675px)"></div><div style="top:78px;height:3.6px;background:linear-gradient(90deg,#c5313d 0px,#af2743 30px,#6f0f57 73.5px,#5f0b5b 90px,#600b5a 100.5px,#690e58 111px,#8e194d 141px,#c5313d 181.5px,#d23b38 213px,#d44038 268.5px,#c9343b 312px,#b42a42 336px,#8e194d 364.5px,#6b0e58 394.5px,#600b5a 412.5px,#640c5a 426px,#851650 463.5px,#951d4b 475.5px,#c32f3d 501px,#d33d38 522px,#d94b38 567px,#d94c38 589.5px,#cf3839 633px,#c4303d 658.5px,#b72b41 675px)"></div><div style="top:81px;height:3.6px;background:linear-gradient(90deg,#c7333c 0px,#b12843 31.5px,#6a0e58 81px,#630c5a 91.5px,#640c5a 100.5px,#6d0f57 111px,#88174f 135px,#c7323c 181.5px,#d33c38 207px,#d64438 265.5px,#d33c38 292.5px,#c9343b 316.5px,#bc2d40 331.5px,#8e194d 367.5px,#6f1056 394.5px,#640c5a 411px,#660d59 421.5px,#841650 460.5px,#961d4b 474px,#c9343b 504px,#d54138 523.5px,#da4e38 564px,#db5038 588px,#d23b38 631.5px,#c7323c 657px,#ba2c40 675px)"></div><div style="top:84px;height:3.6px;background:linear-gradient(90deg,#ca343b 0px,#c02e3e 18px,#b12843 34.5px,#761254 75px,#680d59 94.5px,#6c0f57 105px,#87174f 132px,#c5313d 177px,#d43f38 204px,#d74738 243px,#d74738 270px,#cd373a 313.5px,#c4303d 327px,#781254 390px,#690e58 412.5px,#6e0f57 427.5px,#811551 454.5px,#951d4b 471px,#c8333c 501px,#d64438 522px,#dc5238 565.5px,#dd5438 586.5px,#db4f38 603px,#d23b38 637.5px,#bd2d3f 675px)"></div><div style="top:87px;height:3.6px;background:linear-gradient(90deg,#cc363a 0px,#c22f3e 19.5px,#b22943 37.5px,#7b1353 75px,#6f0f57 90px,#701056 102px,#88174f 130.5px,#ca343b 180px,#d33c38 193.5px,#d64338 208.5px,#d94b38 262.5px,#d74638 288px,#d13a39 310.5px,#c4303d 330px,#831650 384px,#6f0f57 409.5px,#711056 424.5px,#841650 454.5px,#971d4a 469.5px,#c4303d 495px,#d23b38 508.5px,#d74638 519px,#dd5638 567px,#de5738 589.5px,#d13a39 646.5px,#bf2e3e 675px)"></div><div style="top:90px;height:3.6px;background:linear-gradient(90deg,#ce3839 0px,#c6313c 18px,#b72b41 36px,#821551 73.5px,#751155 90px,#771254 105px,#851650 124.5px,#c7323c 174px,#d03939 184.5px,#d84838 213px,#da4e38 247.5px,#da4d38 274.5px,#d64538 298.5px,#d23b38 313.5px,#c5313d 331.5px,#7f1452 393px,#741155 412.5px,#771254 427.5px,#861650 453px,#991e4a 468px,#c7323c 495px,#d23b38 505.5px,#d94a38 520.5px,#de5838 562.5px,#df5a37 591px,#d23b38 649.5px,#c22f3e 675px)"></div><div style="top:93px;height:3.6px;background:linear-gradient(90deg,#d03939 0px,#bc2d40 34.5px,#b02843 46.5px,#841650 76.5px,#7b1353 91.5px,#7d1452 106.5px,#8a184e 126px,#9b1f49 141px,#c5313d 169.5px,#d03939 181.5px,#d74738 199.5px,#d94a38 210px,#db5138 246px,#db5038 274.5px,#d84938 298.5px,#d23b38 318px,#c5313d 334.5px,#831650 394.5px,#7a1353 409.5px,#7a1353 423px,#87174f 450px,#991e4a 465px,#c7323c 492px,#d13a39 501px,#da4d38 517.5px,#e05b37 562.5px,#e05d37 589.5px,#d64338 645px,#c5313d 675px)"></div><div style="top:96px;height:3.6px;background:linear-gradient(90deg,#d23b38 0px,#bd2d3f 37.5px,#8a184e 76.5px,#811551 90px,#831650 108px,#8e1a4d 126px,#cb353b 172.5px,#d64438 189px,#da4c38 207px,#dd5438 267px,#da4e38 295.5px,#d64338 313.5px,#cd373a 328.5px,#bb2c40 345px,#89184f 394.5px,#7f1452 412.5px,#801551 429px,#8b184e 450px,#991e4a 462px,#c7323c 489px,#d13a38 498px,#dc5138 517.5px,#e15f37 567px,#e15f37 594px,#d94a38 642px,#c7323c 675px)"></div><div style="top:99px;height:3.6px;background:linear-gradient(90deg,#d33e38 0px,#c22f3e 36px,#b32942 51px,#901b4d 76.5px,#86174f 94.5px,#8c194e 117px,#9c1f49 135px,#ce3839 172.5px,#d74838 189px,#db4f38 204px,#de5738 265.5px,#dc5338 291px,#d74638 316.5px,#c32f3d 342px,#8d194d 397.5px,#841650 415.5px,#851650 432px,#8f1a4d 450px,#9e2048 462px,#c7323c 486px,#d33c38 496.5px,#da4d38 507px,#de5638 517.5px,#e26237 570px,#e26137 597px,#db5138 640.5px,#d43f38 661.5px,#c9343b 675px)"></div><div style="top:102px;height:3.6px;background:linear-gradient(90deg,#d54238 0px,#c4303d 37.5px,#931c4c 79.5px,#8c194e 96px,#911b4c 117px,#9e2048 133.5px,#cf3839 169.5px,#d84a38 186px,#dc5138 201px,#df5937 241.5px,#df5937 273px,#dd5438 301.5px,#d84838 319.5px,#d03939 331.5px,#be2d3f 349.5px,#951d4b 396px,#89184f 418.5px,#89184f 430.5px,#921b4c 448.5px,#a32347 462px,#c32f3d 480px,#d23b38 492px,#da4d38 502.5px,#e05b37 516px,#e46536 579px,#e26037 612px,#de5738 640.5px,#d84838 658.5px,#cc363a 675px)"></div><div style="top:105px;height:3.6px;background:linear-gradient(90deg,#d64538 0px,#cd373a 27px,#c22f3e 43.5px,#991e4a 79.5px,#921b4c 102px,#9e2048 129px,#b62a41 147px,#d03939 166.5px,#da4c38 183px,#dd5438 196.5px,#e05c37 247.5px,#de5638 309px,#d94b38 322.5px,#d13a39 334.5px,#c02e3e 351px,#971e4a 402px,#8e1a4d 421.5px,#901a4d 438px,#981e4a 450px,#c22f3e 477px,#d54138 492px,#db4f38 499.5px,#e26037 514.5px,#e46636 594px,#e15f37 636px,#dd5538 652.5px,#cf3939 675px)"></div><div style="top:108px;height:3.6px;background:linear-gradient(90deg,#d84838 0px,#d33c38 19.5px,#c4303d 45px,#9a1f4a 87px,#981e4a 106.5px,#a32347 129px,#c5303d 153px,#d54138 168px,#dc5138 181.5px,#de5838 196.5px,#e15e37 244.5px,#e05b37 310.5px,#dd5538 319.5px,#d13a38 337.5px,#c32f3d 352.5px,#a02148 399px,#931c4c 424.5px,#9a1f49 447px,#a42346 456px,#c4303d 475.5px,#d23b38 486px,#e26137 507px,#e56836 519px,#e46536 637.5px,#e05b37 654px,#d23b38 675px)"></div><div style="top:111px;height:3.6px;background:linear-gradient(90deg,#d94c38 0px,#d03939 30px,#c3303d 49.5px,#9f2148 87px,#9d2049 106.5px,#a72446 127.5px,#c7323c 151.5px,#d54138 163.5px,#de5638 178.5px,#e05c37 190.5px,#e36237 310.5px,#df5937 322.5px,#d03939 342px,#c32f3d 357px,#9d2049 412.5px,#981e4a 426px,#9f2148 447px,#c6313c 474px,#d23b38 483px,#e36337 502.5px,#e86e36 516px,#e56836 540px,#e66b36 642px,#e36337 654px,#d54138 675px)"></div><div style="top:114px;height:3.6px;background:linear-gradient(90deg,#db4f38 0px,#d23b38 30px,#c02e3e 55.5px,#ab2644 76.5px,#a32347 88.5px,#a12247 102px,#ab2644 126px,#c6313c 147px,#d23b38 156px,#d94a38 163.5px,#df5937 172.5px,#e25f37 180px,#e36237 283.5px,#e56936 312px,#e36337 321px,#d23b38 343.5px,#c8333b 354px,#a12247 415.5px,#9d2049 427.5px,#a42347 447px,#c5313d 471px,#d23b38 480px,#e66936 501px,#eb7535 514.5px,#e66a36 546px,#e76b36 609px,#e97235 645px,#e36437 660px,#d84838 675px)"></div><div style="top:117px;height:3.6px;background:linear-gradient(90deg,#dc5338 0px,#d54138 27px,#c4303d 54px,#ae2744 78px,#a52346 100.5px,#ae2744 123px,#c32f3d 141px,#d13a38 151.5px,#dc5138 162px,#e05d37 168px,#e56836 178.5px,#e26037 225px,#e46436 282px,#e97035 315px,#e56936 324px,#d13a38 348px,#c32f3d 370.5px,#a22247 427.5px,#a92545 447px,#cf3839 475.5px,#e86f36 499.5px,#ef7d34 513px,#e76c36 549px,#e86d36 607.5px,#ed7a35 646.5px,#e66b36 661.5px,#db4f38 675px)"></div><div style="top:120px;height:3.6px;background:linear-gradient(90deg,#de5638 0px,#d43f38 33px,#c32f3d 58.5px,#ac2644 85.5px,#aa2545 106.5px,#b62b41 127.5px,#cd373a 145.5px,#d43e38 150px,#e46636 166.5px,#e97135 177px,#e97035 187.5px,#e36337 210px,#e36237 228px,#e46536 277.5px,#ed7935 310.5px,#ed7935 316.5px,#e86e36 327px,#d23b38 351px,#c32f3d 378px,#a72446 429px,#ae2743 447px,#cc363a 471px,#d43f38 477px,#ec7835 499.5px,#f28636 511.5px,#f18435 520.5px,#ea7235 540px,#e86d36 556.5px,#e86f36 607.5px,#f18235 639px,#f18335 648px,#ec7735 660px,#de5738 675px)"></div><div style="top:123px;height:3.6px;background:linear-gradient(90deg,#df5937 0px,#d94a38 25.5px,#d33d38 37.5px,#c5303d 58.5px,#af2843 85.5px,#ac2644 102px,#b52a41 121.5px,#cc363a 141px,#d23c38 145.5px,#ea7235 166.5px,#ee7c34 177px,#e46536 211.5px,#e46436 234px,#e66936 283.5px,#f08134 309px,#f18335 316.5px,#ec7835 327px,#d94c38 345px,#d33c38 354px,#c6313c 378px,#b12943 414px,#ac2644 430.5px,#b62b41 451.5px,#d03939 471px,#d84938 478.5px,#ee7b34 496.5px,#f38736 502.5px,#f69038 511.5px,#f48b37 522px,#ec7735 538.5px,#e86f36 553.5px,#e97035 604.5px,#ed7935 621px,#f38a37 637.5px,#f58d38 648px,#f08134 660px,#e26037 675px)"></div><div style="top:126px;height:3.6px;background:linear-gradient(90deg,#e05d37 0px,#d94a38 30px,#d23b38 42px,#c22f3e 63px,#b12943 85.5px,#b12843 108px,#ba2c40 123px,#d13a38 141px,#ea7235 160.5px,#ef7f34 166.5px,#f28736 174px,#f28535 183px,#e97135 199.5px,#e56736 213px,#e46536 231px,#e76b36 283.5px,#f48a37 309px,#f58e38 318px,#f08034 328.5px,#db5038 346.5px,#d33c38 358.5px,#b52a41 412.5px,#b12843 433.5px,#ba2c40 451.5px,#d13b38 469.5px,#dd5438 480px,#ee7c34 493.5px,#f48c37 499.5px,#f9993e 510px,#f8973b 519px,#ed7935 540px,#e97035 556.5px,#ea7335 607.5px,#ed7a35 618px,#f79339 637.5px,#f8973b 651px,#f48c37 660px,#e66936 675px)"></div><div style="top:129px;height:3.6px;background:linear-gradient(90deg,#e25f37 0px,#dd5438 25.5px,#d33c38 43.5px,#c22f3d 64.5px,#b12943 90px,#b42942 109.5px,#c02e3e 124.5px,#d13a38 138px,#f18335 162px,#f79439 172.5px,#f69038 183px,#ec7635 199.5px,#e76b36 210px,#e56736 219px,#e56736 247.5px,#e86d36 283.5px,#f18234 298.5px,#f8963a 310.5px,#f9993e 318px,#f8973b 322.5px,#f48c37 328.5px,#ee7b34 334.5px,#dd5438 348px,#d23b38 364.5px,#b82b40 412.5px,#b62a41 438px,#bb2d40 448.5px,#d13a38 466.5px,#e05c37 480px,#f08134 492px,#f8973b 499.5px,#faa14a 508.5px,#faa14b 513px,#f99b41 522px,#f8953a 526.5px,#f18134 537px,#ed7935 543px,#e97135 558px,#eb7435 606px,#ee7c34 616.5px,#f69038 630px,#f99c42 639px,#faa048 648px,#f99d45 654px,#f8973b 660px,#ea7235 675px)"></div><div style="top:132px;height:3.6px;background:linear-gradient(90deg,#e36237 0px,#e05c37 24px,#d23b38 46.5px,#c6313c 61.5px,#b32942 87px,#b32942 105px,#c02e3e 121.5px,#d13a38 135px,#d84938 141px,#ef7e34 156px,#f69139 162px,#fa9e45 171px,#fa9f47 175.5px,#f99a3f 183px,#f08134 196.5px,#e86f36 208.5px,#e66a36 216px,#e56836 259.5px,#e86e36 282px,#f18234 295.5px,#f9993e 306px,#faa14a 313.5px,#faa24b 319.5px,#f99a40 327px,#f08134 336px,#df5837 349.5px,#d23b38 369px,#ba2c40 414px,#b82b40 435px,#c02f3e 450px,#d33c38 465px,#f08034 489px,#f9993e 496.5px,#fba44e 502.5px,#fbab59 510px,#fba854 517.5px,#f8963a 529.5px,#ee7c34 543px,#ea7235 558px,#eb7435 603px,#ed7a35 612px,#f8953a 628.5px,#fba956 646.5px,#fba854 652.5px,#f99b41 663px,#f8953a 666px,#ee7b34 675px)"></div><div style="top:135px;height:3.6px;background:linear-gradient(90deg,#e46436 0px,#e36437 24px,#d23b38 48px,#c4303d 64.5px,#b32942 90px,#b62a41 108px,#c5303d 123px,#d03939 132px,#de5738 142.5px,#f28535 154.5px,#f8963a 159px,#fba44f 166.5px,#fbaa57 172.5px,#fba652 180px,#f79339 192px,#ee7b34 202.5px,#e86f36 211.5px,#e66936 223.5px,#e66936 264px,#ea7335 285px,#f08034 292.5px,#f79439 300px,#fbab5a 313.5px,#fcad5c 319.5px,#fba956 324px,#f99a40 331.5px,#f8963a 333px,#f08034 339px,#e26037 349.5px,#d33c38 372px,#bd2d3f 412.5px,#bb2c40 433.5px,#c22f3d 448.5px,#d23b38 462px,#f07f34 486px,#f8953a 492px,#fcae5e 502.5px,#fcb66a 508.5px,#fcb467 516px,#f8963a 532.5px,#ee7b34 546px,#ea7335 559.5px,#ea7335 597px,#ed7835 607.5px,#f28535 618px,#f8983c 627px,#fcac5b 639px,#fcb467 646.5px,#fcb366 652.5px,#fba956 660px,#f8973b 669px,#f28435 675px)"></div><div style="top:138px;height:3.6px;background:linear-gradient(90deg,#e46636 0px,#e86e36 22.5px,#e56836 28.5px,#d23b38 49.5px,#cd373a 54px,#b52a41 85.5px,#b32942 97.5px,#b82b40 109.5px,#d13a38 130.5px,#dd5538 139.5px,#f28535 151.5px,#f99c42 157.5px,#fcb163 166.5px,#fcb569 169.5px,#fcb66a 177px,#fcb061 181.5px,#f79339 195px,#ed7a35 205.5px,#e97035 213px,#e66a36 225px,#e66936 246px,#e76c36 274.5px,#ed7835 286.5px,#f28535 292.5px,#f8973b 298.5px,#fcb569 312px,#fcb96f 315px,#fdba70 319.5px,#fcb569 324px,#f8963a 336px,#f69038 337.5px,#ef7e34 342px,#e76c36 348px,#d33e38 373.5px,#c02f3e 409.5px,#be2d3f 432px,#c7333c 451.5px,#d13a38 459px,#e46536 472.5px,#f38936 486px,#f9993e 490.5px,#fdba70 502.5px,#fdc17c 508.5px,#fdbf78 516px,#f79439 535.5px,#f08034 544.5px,#eb7435 558px,#eb7535 600px,#ef7d34 610.5px,#f79339 622.5px,#fdbb72 642px,#fdc07a 649.5px,#fdbd76 654px,#fcb76b 658.5px,#f8973b 672px,#f58d38 675px)"></div><div style="top:141px;height:3.6px;background:linear-gradient(90deg,#e56736 0px,#ec7835 22.5px,#e76c36 31.5px,#d74738 45px,#d03939 52.5px,#b62b41 84px,#b42a42 100.5px,#b82b41 108px,#c7323c 121.5px,#d23b38 129px,#df5837 138px,#f18335 148.5px,#f8973c 153px,#fcb86e 163.5px,#fdc17b 168px,#fdc37f 174px,#fdbe78 180px,#faa049 192px,#f8963a 196.5px,#f58d37 199.5px,#ec7635 210px,#e76c36 222px,#e66a36 259.5px,#ea7235 280.5px,#ee7b34 286.5px,#f68f38 294px,#f99c43 298.5px,#fdbe77 310.5px,#fdc380 315px,#fdc481 319.5px,#fdc17c 324px,#fcb76c 328.5px,#f9993e 337.5px,#f08134 343.5px,#ea7435 348px,#e46636 357px,#d64438 372px,#d23c38 378px,#c22f3d 408px,#c02e3e 432px,#c8333b 450px,#d23b38 457.5px,#e76c36 471px,#f38936 483px,#f8973c 487.5px,#fdbe76 499.5px,#fec888 507px,#fec787 514.5px,#fdc37f 519px,#fba34d 531px,#f8953a 537px,#f08034 546px,#eb7435 561px,#ec7635 600px,#f07f34 610.5px,#f8953a 621px,#fba550 628.5px,#fdc07a 639px,#fec786 648px,#fdc584 654px,#fdbf78 660px,#f8963a 675px)"></div><div style="top:144px;height:3.6px;background:linear-gradient(90deg,#e56836 0px,#f08034 16.5px,#f18335 24px,#ed7a35 30px,#d94b38 45px,#d13a38 52.5px,#c4303d 66px,#b62b41 84px,#b62a41 103.5px,#c32f3d 117px,#d13a38 127.5px,#da4e38 133.5px,#f28535 147px,#f79439 150px,#fba44f 154.5px,#fdbc74 160.5px,#fec887 166.5px,#fecb8e 174px,#fdc786 180px,#fdc07a 184.5px,#fba34d 193.5px,#f79339 199.5px,#ed7935 210px,#e86e36 220.5px,#e76b36 264px,#ec7635 282px,#f18235 288px,#f8953a 294px,#fba753 300px,#fdbd75 306px,#fdc481 309px,#fecb8e 315px,#fecc8f 321px,#fdc27d 328.5px,#fba550 336px,#f8963a 340.5px,#f18435 345px,#ed7935 349.5px,#e66b36 360px,#d94b38 370.5px,#d23b38 381px,#c12f3e 414px,#c22f3d 433.5px,#ca353b 450px,#d23b38 456px,#ee7d34 472.5px,#f79339 483px,#fa9e46 487.5px,#fdbf78 496.5px,#fdc584 499.5px,#fed096 508.5px,#fece94 514.5px,#fec786 520.5px,#fdbd76 525px,#f99c43 535.5px,#f8953a 538.5px,#f38936 543px,#ed7a35 552px,#eb7535 559.5px,#eb7435 591px,#ef7d34 607.5px,#f8953a 619.5px,#fba34d 625.5px,#fdc481 637.5px,#fecc8f 643.5px,#fece93 648px,#fecb8e 655.5px,#fdc380 661.5px,#f99c43 675px)"></div><div style="top:147px;height:3.6px;background:linear-gradient(90deg,#e56836 0px,#f58d37 18px,#f69038 24px,#f18234 31.5px,#d94a38 46.5px,#d03939 54px,#c32f3d 67.5px,#b42a42 90px,#b52a41 102px,#be2d3f 112.5px,#d33d38 127.5px,#f08034 144px,#f8963a 148.5px,#faa14a 151.5px,#fdbc74 157.5px,#fdc583 160.5px,#fed096 166.5px,#fed49d 171px,#fed29a 177px,#fdc480 186px,#fba44f 195px,#f8983d 199.5px,#ef7f34 208.5px,#ea7335 216px,#e86e36 223.5px,#e76c36 265.5px,#ec7835 282px,#f69038 291px,#f8963a 292.5px,#fba34d 297px,#fdbb73 303px,#fec888 307.5px,#fed39c 315px,#fed49d 321px,#fecf94 325.5px,#fdc27d 331.5px,#fba754 337.5px,#f8973b 342px,#f48c37 345px,#f28435 348px,#ed7a35 358.5px,#d94b38 372px,#d54238 376.5px,#d03939 385.5px,#c32f3d 411px,#c22f3d 429px,#d03939 453px,#d94c38 459px,#f28636 471px,#f8973b 480px,#fba651 487.5px,#fdc27d 495px,#fecc90 499.5px,#fed29a 502.5px,#ffd8a4 508.5px,#ffd7a3 513px,#fed096 519px,#fdc481 525px,#fba44f 534px,#f99c43 537px,#f8953a 540px,#f28535 546px,#eb7635 559.5px,#eb7435 589.5px,#ee7b34 604.5px,#f18335 610.5px,#f8953a 618px,#fba34e 624px,#fdbd75 631.5px,#fec787 636px,#fed29b 643.5px,#ffd6a1 649.5px,#fed198 657px,#fdc481 664.5px,#faa24b 675px)"></div><div style="top:150px;height:3.6px;background:linear-gradient(90deg,#e56836 0px,#f07f34 9px,#f8953a 16.5px,#f99b41 24px,#f79239 30px,#f18234 34.5px,#dc5338 45px,#d03939 54px,#ba2c40 76.5px,#b32942 91.5px,#ba2c40 109.5px,#c6313c 118.5px,#d23b38 126px,#f08134 142.5px,#f8963a 147px,#fba855 151.5px,#fdbf79 156px,#fec889 159px,#ffdaa8 168px,#ffdcac 172.5px,#ffd8a5 178.5px,#fecd92 184.5px,#fdbe77 190.5px,#fba550 196.5px,#f8983d 201px,#f18234 208.5px,#eb7535 216px,#e86f36 223.5px,#e76c36 261px,#ea7235 276px,#f28535 286.5px,#f99a3f 292.5px,#fba34d 295.5px,#fdc37f 303px,#ffd59f 310.5px,#ffdcad 318px,#ffd9a6 324px,#fdc480 333px,#faa14b 340.5px,#f79339 345px,#f48b37 349.5px,#f38736 358.5px,#ec7835 363px,#dd5438 370.5px,#d54138 378px,#d13a38 384px,#c32f3d 411px,#c5313c 436.5px,#d23b38 453px,#dc5338 459px,#f07f34 466.5px,#f79439 471px,#fba550 484.5px,#fdc07a 492px,#fed096 498px,#ffdbaa 504px,#ffdeb1 508.5px,#ffdcad 514.5px,#fed39c 520.5px,#fdc17c 528px,#fba957 534px,#f8983c 540px,#f08134 549px,#eb7535 562.5px,#eb7535 592.5px,#ee7c34 604.5px,#f79439 616.5px,#fba34d 622.5px,#fdbf78 630px,#fecd91 636px,#ffd7a4 642px,#ffdcad 648px,#ffdcac 652.5px,#ffd5a0 658.5px,#fdc37f 667.5px,#fba753 675px)"></div><div style="top:153px;height:3.6px;background:linear-gradient(90deg,#e46636 0px,#ef7f34 7.5px,#f8963a 13.5px,#faa24b 19.5px,#fba44e 24px,#faa14b 27px,#f8983d 31.5px,#ee7d34 37.5px,#d74538 49.5px,#cc363a 57px,#bd2d3f 72px,#b32942 88.5px,#b52a41 103.5px,#c6313c 118.5px,#d33d38 126px,#e56936 135px,#f08134 141px,#f7943a 145.5px,#fba753 150px,#fdc07b 154.5px,#fed39c 160.5px,#ffdcae 165px,#ffe1b9 171px,#ffdeb2 178.5px,#fed49d 184.5px,#fdbf79 192px,#fbab59 196.5px,#f99c42 201px,#f79239 204px,#f08134 210px,#e97035 223.5px,#e86e36 267px,#ec7735 279px,#f79339 289.5px,#faa24c 294px,#fdbe77 300px,#ffd9a6 309px,#ffe0b7 315px,#ffe1b8 321px,#ffddae 325.5px,#fed39b 330px,#fdbf78 336px,#faa048 342px,#f8963a 346.5px,#f8953a 358.5px,#ee7b34 364.5px,#dc5238 372px,#d33d38 381px,#c32f3d 409.5px,#c22f3e 426px,#c8343b 442.5px,#d13a38 451.5px,#dc5138 457.5px,#f18235 465px,#f8953a 468px,#fa9f47 471px,#fcad5d 484.5px,#ffdaa8 499.5px,#ffe0b6 504px,#ffe3bd 508.5px,#ffe2bb 513px,#ffd9a7 520.5px,#fdc684 528px,#fa9e46 538.5px,#f8963b 541.5px,#f38936 546px,#ed7a35 555px,#ec7635 561px,#eb7435 585px,#ef7d34 604.5px,#f79339 615px,#faa24c 621px,#fdbf79 628.5px,#ffd9a6 639px,#ffe1b8 648px,#ffdfb5 654px,#ffd6a1 661.5px,#fdbf79 670.5px,#fcad5c 675px)"></div><div style="top:156px;height:3.6px;background:linear-gradient(90deg,#e36337 0px,#ee7b34 6px,#f69038 10.5px,#fbaa58 19.5px,#fcae5d 24px,#fbaa58 27px,#fa9f47 31.5px,#f7953a 34.5px,#f18435 37.5px,#dc5338 46.5px,#d54138 51px,#cc363a 57px,#bc2d3f 72px,#b22942 90px,#b32942 100.5px,#c5313c 118.5px,#d33e38 126px,#e86e36 135px,#f08134 139.5px,#f8983c 145.5px,#fba34d 148.5px,#fdc482 154.5px,#ffd59f 159px,#ffe1b9 165px,#ffe6c5 171px,#ffe3be 178.5px,#ffdaa8 184.5px,#fdbf78 193.5px,#fba44e 199.5px,#f99a40 202.5px,#f8963a 204px,#f08034 211.5px,#e97035 226.5px,#e86e36 262.5px,#ea7335 274.5px,#ef7f34 282px,#f48c37 286.5px,#f8973c 289.5px,#faa14a 292.5px,#fdc380 300px,#ffdeb1 309px,#ffe5c3 315px,#ffe6c4 321px,#ffe3be 324px,#ffd9a6 330px,#fdc380 336px,#fba652 340.5px,#fa9f47 342px,#f9993e 345px,#f9993e 348px,#faa14b 355.5px,#f99d44 360px,#f69038 363px,#ee7b34 366px,#dd5538 372px,#d84938 375px,#d43f38 379.5px,#ca343b 394.5px,#c02e3e 417px,#c6323c 438px,#d23b38 451.5px,#da4e38 456px,#f18235 463.5px,#f8983d 466.5px,#fcad5c 472.5px,#fcb468 484.5px,#fdbc74 487.5px,#ffdcac 498px,#ffe3bd 502.5px,#ffe7c7 507px,#ffe6c6 513px,#ffe0b6 519px,#ffd7a3 523.5px,#fdc17b 531px,#fba651 537px,#f99c43 540px,#f79439 543px,#f08134 550.5px,#ed7935 556.5px,#eb7535 565.5px,#eb7535 591px,#ee7c34 603px,#f28535 609px,#f8953a 615px,#fba551 621px,#fdbe77 627px,#ffdbaa 637.5px,#ffe1b9 642px,#ffe5c3 648px,#ffe4bf 654px,#ffddb0 660px,#fdc380 670.5px,#fcb163 675px)"></div><div style="top:159px;height:3.6px;background:linear-gradient(90deg,#e15f37 0px,#ee7c34 6px,#f7953a 10.5px,#fcb264 19.5px,#fcb66a 24px,#fcaf60 28.5px,#faa048 33px,#f79339 36px,#f08034 39px,#dd5538 46.5px,#d74738 49.5px,#d03a39 54px,#c02e3e 67.5px,#b12943 90px,#b22942 100.5px,#c22f3e 117px,#d43f38 126px,#ea7335 135px,#f79439 144px,#fba652 150px,#fdc685 154.5px,#ffdaa8 159px,#ffe5c4 165px,#ffeacf 169.5px,#ffebd1 172.5px,#ffe9cc 177px,#ffdeb2 184.5px,#fdc37f 193.5px,#fba854 199.5px,#f9993e 204px,#f79439 205.5px,#f07f34 213px,#ec7635 219px,#e86f36 232.5px,#e97035 267px,#ed7835 277.5px,#f28535 283.5px,#f8953a 288px,#fba44f 292.5px,#fdc27e 298.5px,#ffdcac 306px,#ffe6c6 312px,#ffeace 315px,#ffebd0 319.5px,#ffe5c4 325.5px,#fed39d 333px,#fdc685 336px,#fdbc74 337.5px,#fa9e46 340.5px,#f79439 342px,#f58e38 343.5px,#f8973b 346.5px,#fcac5b 355.5px,#fbac5a 358.5px,#f99b41 363px,#f18435 366px,#e26137 370.5px,#d64538 376.5px,#d23c38 381px,#c02e3e 409.5px,#c12f3e 429px,#c8333b 442.5px,#d03a39 450px,#d54238 453px,#dc5138 456px,#f07f34 462px,#f8983d 465px,#fcb568 471px,#fdbb72 475.5px,#fcb76c 486px,#fdbb71 487.5px,#fed39b 493.5px,#ffdfb5 498px,#ffe7c7 502.5px,#ffecd2 508.5px,#ffead0 513px,#ffe4bf 519px,#ffdbab 523.5px,#fdc480 531px,#fba34d 538.5px,#f8963a 543px,#f28535 549px,#ee7b34 555px,#eb7635 562.5px,#eb7535 591px,#ee7b34 601.5px,#f79339 613.5px,#fba34e 619.5px,#fdc27e 627px,#ffdcac 636px,#ffe5c2 642px,#ffe9cd 648px,#ffe8c9 654px,#ffe1b8 660px,#fecb8e 669px,#fcb569 675px)"></div><div style="top:162px;height:3.6px;background:linear-gradient(90deg,#df5937 0px,#ee7c34 6px,#f8973b 10.5px,#fcb366 18px,#fdba70 21px,#fdbc73 24px,#fcb86e 27px,#fbaa57 31.5px,#f8973b 36px,#f18435 39px,#da4e38 48px,#d03939 54px,#bb2d40 70.5px,#b02843 90px,#b52a41 108px,#c6313c 120px,#d33e38 126px,#ec7835 135px,#f38936 139.5px,#f79339 144px,#f69239 150px,#f99c42 151.5px,#fcad5c 153px,#fdc27d 154.5px,#ffd7a3 157.5px,#ffddaf 159px,#ffe9cd 165px,#ffeed9 171px,#ffeed8 175.5px,#ffebd2 178.5px,#ffdbaa 187.5px,#fdc17c 195px,#fba550 201px,#f99b41 204px,#f8973b 205.5px,#f08134 213px,#ec7635 220.5px,#e97135 229.5px,#e97135 265.5px,#ed7a35 277.5px,#f69239 286.5px,#faa24b 291px,#fdc684 298.5px,#ffe2bc 307.5px,#ffecd4 313.5px,#ffeed9 318px,#ffedd6 322.5px,#ffe9cd 325.5px,#ffd7a4 333px,#fec787 336px,#fcb76d 337.5px,#fa9f47 339px,#f18235 340.5px,#e86d36 342px,#e76b36 343.5px,#f48b37 346.5px,#f99a40 348px,#faa24b 349.5px,#fcb86d 355.5px,#fcb86d 358.5px,#fcac5b 361.5px,#f9993f 364.5px,#f48c37 366px,#df5937 372px,#d64438 376.5px,#d23b38 381px,#be2d3f 409.5px,#bf2e3e 429px,#c5303d 438px,#d33d38 451.5px,#dd5438 456px,#ed7935 460.5px,#f8953a 463.5px,#fcb163 468px,#fdbf78 471px,#fdc37f 475.5px,#fdc07a 480px,#fdbc74 481.5px,#fba753 486px,#fba652 487.5px,#fcaf60 489px,#fecb8e 492px,#ffdcab 495px,#ffe5c4 499.5px,#ffeed7 505.5px,#ffeed8 513px,#ffe9cd 517.5px,#ffdba9 525px,#fdc17c 532.5px,#fba551 538.5px,#f99c42 541.5px,#f79339 544.5px,#f08034 552px,#eb7535 565.5px,#eb7535 591px,#f07f34 604.5px,#f7943a 613.5px,#fba551 619.5px,#fdc07a 625.5px,#ffdcab 634.5px,#ffe1b9 637.5px,#ffeace 643.5px,#ffedd6 649.5px,#ffeace 655.5px,#ffdeb3 663px,#fdc582 672px,#fcb86e 675px)"></div><div style="top:165px;height:3.6px;background:linear-gradient(90deg,#dc5138 0px,#f18335 7.5px,#f8963b 10.5px,#fcb569 18px,#fdbe77 22.5px,#fdbd75 25.5px,#fcb264 30px,#f8983d 36px,#f28535 39px,#dd5538 46.5px,#d23b38 52.5px,#c4303d 61.5px,#b92b40 72px,#b12943 82.5px,#ae2743 96px,#b62b41 111px,#c4303d 120px,#d33d38 126px,#ee7b34 135px,#f38836 138px,#f69038 142.5px,#f38836 145.5px,#e36337 148.5px,#de5738 150px,#e36437 151.5px,#f38936 153px,#fcae5f 154.5px,#feca8b 156px,#ffd8a4 157.5px,#ffdfb4 159px,#ffecd4 165px,#fff1df 172.5px,#ffecd5 180px,#ffe7c8 183px,#fed49d 190.5px,#faa24b 202.5px,#f79439 207px,#f28636 211.5px,#ec7635 222px,#e97135 235.5px,#e97135 259.5px,#ec7635 273px,#ef7e34 279px,#f7953a 286.5px,#fba44f 291px,#fdc37f 297px,#ffdaa8 303px,#ffe5c3 307.5px,#ffedd7 312px,#fff1df 318px,#ffeed9 324px,#ffeace 327px,#ffdfb4 331.5px,#fed29b 334.5px,#fdc685 336px,#fcad5c 337.5px,#f28435 339px,#db5038 340.5px,#cb363a 342px,#cd373a 343.5px,#db5038 345px,#ec7735 346.5px,#f8953a 348px,#fba34d 349.5px,#fdbd75 354px,#fdc17c 355.5px,#fdc27d 358.5px,#fdbe77 360px,#fcb66a 361.5px,#f79339 366px,#f18335 367.5px,#df5a37 372px,#d54238 376.5px,#cf3839 382.5px,#bb2c40 409.5px,#bc2d3f 429px,#c7333c 444px,#d03939 450px,#d64438 453px,#de5638 456px,#ef7e34 460.5px,#f58d38 462px,#f99a40 463.5px,#fdc17c 469.5px,#fdc786 472.5px,#fec787 475.5px,#fdc27e 480px,#fdbb73 481.5px,#f8973c 484.5px,#ef7d34 486px,#ea7335 487.5px,#f28535 489px,#fba44e 490.5px,#fdc380 492px,#fed39c 493.5px,#ffddaf 495px,#ffe5c3 498px,#ffedd7 502.5px,#fff1de 507px,#fff1df 511.5px,#ffecd3 517.5px,#ffddae 525px,#fdc380 532.5px,#fba754 538.5px,#f99d44 541.5px,#f79439 544.5px,#f08134 552px,#eb7535 564px,#ec7635 594px,#f18235 606px,#f8963a 613.5px,#fba854 619.5px,#fdc27e 625.5px,#fed197 630px,#ffe6c6 639px,#ffedd5 643.5px,#ffefdb 649.5px,#ffeed8 654px,#ffe6c6 660px,#ffdaa8 666px,#fdba71 675px)"></div><div style="top:168px;height:3.6px;background:linear-gradient(90deg,#d74738 0px,#ef7e34 7.5px,#f79339 10.5px,#fcaf5f 16.5px,#fcb86e 19.5px,#fdbd75 24px,#fcb96f 27px,#fcb062 30px,#f8973b 36px,#f18335 39px,#e05c37 45px,#d64538 49.5px,#d13a38 52.5px,#c7323c 58.5px,#b82b41 70.5px,#ac2644 93px,#b52a41 112.5px,#c5303d 121.5px,#d13b38 126px,#ea7435 133.5px,#f28535 136.5px,#f58f38 142.5px,#f38a37 144px,#ed7935 145.5px,#df5837 147px,#ca353b 148.5px,#b52a42 150px,#be2e3f 151.5px,#dc5338 153px,#f8983d 154.5px,#fdc481 156px,#ffd7a4 157.5px,#ffe0b7 159px,#ffe9cd 162px,#fff0dd 166.5px,#fff3e3 171px,#fff2e2 175.5px,#ffecd4 181.5px,#ffdcac 189px,#fdc17b 196.5px,#fba34d 202.5px,#f8953a 207px,#f08134 214.5px,#ed7a35 219px,#ea7335 231px,#eb7435 267px,#f08034 279px,#f8973b 286.5px,#fba752 291px,#fdbf79 295.5px,#ffd7a2 301.5px,#ffedd7 310.5px,#fff2e1 315px,#fff2e0 322.5px,#ffecd4 327px,#ffe1b9 331.5px,#fed39d 334.5px,#fdc583 336px,#faa24c 337.5px,#e56736 339px,#c12f3e 340.5px,#971d4b 342px,#9e2048 343.5px,#c7333c 345px,#e36237 346.5px,#f58d38 348px,#fba34d 349.5px,#fdbb73 352.5px,#fdc27e 354px,#fec787 357px,#fdc481 360px,#fdbe76 361.5px,#f8973c 366px,#f28636 367.5px,#e46636 370.5px,#da4e38 373.5px,#d23b38 378px,#c22f3e 396px,#b62a41 412.5px,#b82b40 429px,#c22f3e 441px,#cf3839 450px,#d64338 453px,#de5738 456px,#f18234 460.5px,#f69139 462px,#fdc079 468px,#fec889 471px,#fecb8e 474px,#fec888 478.5px,#fdc481 480px,#fcb86e 481.5px,#fa9e46 483px,#ea7235 484.5px,#d43f38 486px,#c8333c 487.5px,#d64438 489px,#f07f34 490.5px,#fcb467 492px,#fed097 493.5px,#ffdeb0 495px,#ffe7c8 498px,#ffedd6 501px,#fff3e2 507px,#fff3e3 511.5px,#fff0dc 516px,#ffecd2 519px,#ffd59f 528px,#fba34d 540px,#f9993f 543px,#f69038 546px,#ed7a35 556.5px,#eb7435 567px,#ea7335 582px,#ed7a35 600px,#f38936 609px,#f8973b 613.5px,#fba956 619.5px,#fdbe77 624px,#ffd8a4 631.5px,#ffe8cb 639px,#fff0dc 645px,#fff1df 649.5px,#fff0dc 654px,#ffe8ca 660px,#ffdcac 666px,#fdbb72 675px)"></div></div><svg class="ar" width="795" height="594" viewBox="0 0 795 594"><defs><g id="ar"><path d="M-7.0 0 H1.9" stroke="#1a1a1a" stroke-width="2.2"/><path d="M-6.3 0 H1.9" stroke="#444" stroke-width="0.5"/><path d="M6.9 0 L1.4 -3.45 L1.4 3.45 Z" fill="#fff" stroke="#111" stroke-width="1.05" stroke-linejoin="miter"/></g></defs><use href="#ar" transform="translate(47.5 17.8) rotate(-154.074)"/><use href="#ar" transform="translate(64.2 17.8) rotate(-156.531)"/><use href="#ar" transform="translate(80.8 17.8) rotate(-159.959)"/><use href="#ar" transform="translate(97.4 17.8) rotate(-163.106)"/><use href="#ar" transform="translate(114.1 17.8) rotate(-167.018)"/><use href="#ar" transform="translate(130.8 17.8) rotate(-169.956)"/><use href="#ar" transform="translate(147.4 17.8) rotate(-172.012)"/><use href="#ar" transform="translate(164.0 17.8) rotate(-172.501)"/><use href="#ar" transform="translate(180.7 17.8) rotate(-172.732)"/><use href="#ar" transform="translate(197.3 17.8) rotate(-172.963)"/><use href="#ar" transform="translate(214.0 17.8) rotate(-173)"/><use href="#ar" transform="translate(230.6 17.8) rotate(-173)"/><use href="#ar" transform="translate(247.3 17.8) rotate(-173)"/><use href="#ar" transform="translate(263.9 17.8) rotate(-173.279)"/><use href="#ar" transform="translate(280.6 17.8) rotate(-173.612)"/><use href="#ar" transform="translate(297.2 17.8) rotate(-173.945)"/><use href="#ar" transform="translate(313.9 17.8) rotate(-174.695)"/><use href="#ar" transform="translate(330.5 17.8) rotate(-175.528)"/><use href="#ar" transform="translate(347.2 17.8) rotate(-176.72)"/><use href="#ar" transform="translate(363.8 17.8) rotate(-178.385)"/><use href="#ar" transform="translate(380.5 17.8) rotate(-180.132)"/><use href="#ar" transform="translate(397.1 17.8) rotate(-184.531)"/><use href="#ar" transform="translate(413.8 17.8) rotate(-187.959)"/><use href="#ar" transform="translate(430.4 17.8) rotate(-190.013)"/><use href="#ar" transform="translate(447.1 17.8) rotate(-190.513)"/><use href="#ar" transform="translate(463.7 17.8) rotate(-191.012)"/><use href="#ar" transform="translate(480.4 17.8) rotate(-191.509)"/><use href="#ar" transform="translate(497.0 17.8) rotate(-191.882)"/><use href="#ar" transform="translate(513.7 17.8) rotate(-192.254)"/><use href="#ar" transform="translate(530.3 17.8) rotate(-192.627)"/><use href="#ar" transform="translate(547.0 17.8) rotate(-193)"/><use href="#ar" transform="translate(563.6 17.8) rotate(-193.994)"/><use href="#ar" transform="translate(580.3 17.8) rotate(-194.988)"/><use href="#ar" transform="translate(596.9 17.8) rotate(-195.982)"/><use href="#ar" transform="translate(613.6 17.8) rotate(-196.976)"/><use href="#ar" transform="translate(630.2 17.8) rotate(-197.985)"/><use href="#ar" transform="translate(646.9 17.8) rotate(-198.994)"/><use href="#ar" transform="translate(663.5 17.8) rotate(-200.755)"/><use href="#ar" transform="translate(680.2 17.8) rotate(-202.518)"/><use href="#ar" transform="translate(696.8 17.8) rotate(-203.987)"/><use href="#ar" transform="translate(47.5 34.5) rotate(-154.074)"/><use href="#ar" transform="translate(64.2 34.5) rotate(-156.531)"/><use href="#ar" transform="translate(80.8 34.5) rotate(-159.959)"/><use href="#ar" transform="translate(97.4 34.5) rotate(-163.106)"/><use href="#ar" transform="translate(114.1 34.5) rotate(-167.018)"/><use href="#ar" transform="translate(130.8 34.5) rotate(-169.956)"/><use href="#ar" transform="translate(147.4 34.5) rotate(-172.012)"/><use href="#ar" transform="translate(164.0 34.5) rotate(-172.501)"/><use href="#ar" transform="translate(180.7 34.5) rotate(-172.732)"/><use href="#ar" transform="translate(197.3 34.5) rotate(-172.963)"/><use href="#ar" transform="translate(214.0 34.5) rotate(-173)"/><use href="#ar" transform="translate(230.6 34.5) rotate(-173)"/><use href="#ar" transform="translate(247.3 34.5) rotate(-173)"/><use href="#ar" transform="translate(263.9 34.5) rotate(-173.279)"/><use href="#ar" transform="translate(280.6 34.5) rotate(-173.612)"/><use href="#ar" transform="translate(297.2 34.5) rotate(-173.945)"/><use href="#ar" transform="translate(313.9 34.5) rotate(-174.695)"/><use href="#ar" transform="translate(330.5 34.5) rotate(-175.528)"/><use href="#ar" transform="translate(347.2 34.5) rotate(-176.72)"/><use href="#ar" transform="translate(363.8 34.5) rotate(-178.385)"/><use href="#ar" transform="translate(380.5 34.5) rotate(-180.132)"/><use href="#ar" transform="translate(397.1 34.5) rotate(-184.531)"/><use href="#ar" transform="translate(413.8 34.5) rotate(-187.959)"/><use href="#ar" transform="translate(430.4 34.5) rotate(-190.013)"/><use href="#ar" transform="translate(447.1 34.5) rotate(-190.513)"/><use href="#ar" transform="translate(463.7 34.5) rotate(-191.012)"/><use href="#ar" transform="translate(480.4 34.5) rotate(-191.509)"/><use href="#ar" transform="translate(497.0 34.5) rotate(-191.882)"/><use href="#ar" transform="translate(513.7 34.5) rotate(-192.254)"/><use href="#ar" transform="translate(530.3 34.5) rotate(-192.627)"/><use href="#ar" transform="translate(547.0 34.5) rotate(-193)"/><use href="#ar" transform="translate(563.6 34.5) rotate(-193.994)"/><use href="#ar" transform="translate(580.3 34.5) rotate(-194.988)"/><use href="#ar" transform="translate(596.9 34.5) rotate(-195.982)"/><use href="#ar" transform="translate(613.6 34.5) rotate(-196.976)"/><use href="#ar" transform="translate(630.2 34.5) rotate(-197.985)"/><use href="#ar" transform="translate(646.9 34.5) rotate(-198.994)"/><use href="#ar" transform="translate(663.5 34.5) rotate(-200.755)"/><use href="#ar" transform="translate(680.2 34.5) rotate(-202.518)"/><use href="#ar" transform="translate(696.8 34.5) rotate(-203.987)"/><use href="#ar" transform="translate(47.5 51.1) rotate(-154.074)"/><use href="#ar" transform="translate(64.2 51.1) rotate(-156.531)"/><use href="#ar" transform="translate(80.8 51.1) rotate(-159.959)"/><use href="#ar" transform="translate(97.4 51.1) rotate(-163.106)"/><use href="#ar" transform="translate(114.1 51.1) rotate(-167.018)"/><use href="#ar" transform="translate(130.8 51.1) rotate(-169.956)"/><use href="#ar" transform="translate(147.4 51.1) rotate(-172.012)"/><use href="#ar" transform="translate(164.0 51.1) rotate(-172.501)"/><use href="#ar" transform="translate(180.7 51.1) rotate(-172.732)"/><use href="#ar" transform="translate(197.3 51.1) rotate(-172.963)"/><use href="#ar" transform="translate(214.0 51.1) rotate(-173)"/><use href="#ar" transform="translate(230.6 51.1) rotate(-173)"/><use href="#ar" transform="translate(247.3 51.1) rotate(-173)"/><use href="#ar" transform="translate(263.9 51.1) rotate(-173.279)"/><use href="#ar" transform="translate(280.6 51.1) rotate(-173.612)"/><use href="#ar" transform="translate(297.2 51.1) rotate(-173.945)"/><use href="#ar" transform="translate(313.9 51.1) rotate(-174.695)"/><use href="#ar" transform="translate(330.5 51.1) rotate(-175.528)"/><use href="#ar" transform="translate(347.2 51.1) rotate(-176.72)"/><use href="#ar" transform="translate(363.8 51.1) rotate(-178.385)"/><use href="#ar" transform="translate(380.5 51.1) rotate(-180.132)"/><use href="#ar" transform="translate(397.1 51.1) rotate(-184.531)"/><use href="#ar" transform="translate(413.8 51.1) rotate(-187.959)"/><use href="#ar" transform="translate(430.4 51.1) rotate(-190.013)"/><use href="#ar" transform="translate(447.1 51.1) rotate(-190.513)"/><use href="#ar" transform="translate(463.7 51.1) rotate(-191.012)"/><use href="#ar" transform="translate(480.4 51.1) rotate(-191.509)"/><use href="#ar" transform="translate(497.0 51.1) rotate(-191.882)"/><use href="#ar" transform="translate(513.7 51.1) rotate(-192.254)"/><use href="#ar" transform="translate(530.3 51.1) rotate(-192.627)"/><use href="#ar" transform="translate(547.0 51.1) rotate(-193)"/><use href="#ar" transform="translate(563.6 51.1) rotate(-193.994)"/><use href="#ar" transform="translate(580.3 51.1) rotate(-194.988)"/><use href="#ar" transform="translate(596.9 51.1) rotate(-195.982)"/><use href="#ar" transform="translate(613.6 51.1) rotate(-196.976)"/><use href="#ar" transform="translate(630.2 51.1) rotate(-197.985)"/><use href="#ar" transform="translate(646.9 51.1) rotate(-198.994)"/><use href="#ar" transform="translate(663.5 51.1) rotate(-200.755)"/><use href="#ar" transform="translate(680.2 51.1) rotate(-202.518)"/><use href="#ar" transform="translate(696.8 51.1) rotate(-203.987)"/><use href="#ar" transform="translate(47.5 67.8) rotate(-154.074)"/><use href="#ar" transform="translate(64.2 67.8) rotate(-156.531)"/><use href="#ar" transform="translate(80.8 67.8) rotate(-159.959)"/><use href="#ar" transform="translate(97.4 67.8) rotate(-163.106)"/><use href="#ar" transform="translate(114.1 67.8) rotate(-167.018)"/><use href="#ar" transform="translate(130.8 67.8) rotate(-169.956)"/><use href="#ar" transform="translate(147.4 67.8) rotate(-172.012)"/><use href="#ar" transform="translate(164.0 67.8) rotate(-172.501)"/><use href="#ar" transform="translate(180.7 67.8) rotate(-172.732)"/><use href="#ar" transform="translate(197.3 67.8) rotate(-172.963)"/><use href="#ar" transform="translate(214.0 67.8) rotate(-173)"/><use href="#ar" transform="translate(230.6 67.8) rotate(-173)"/><use href="#ar" transform="translate(247.3 67.8) rotate(-173)"/><use href="#ar" transform="translate(263.9 67.8) rotate(-173.279)"/><use href="#ar" transform="translate(280.6 67.8) rotate(-173.612)"/><use href="#ar" transform="translate(297.2 67.8) rotate(-173.945)"/><use href="#ar" transform="translate(313.9 67.8) rotate(-174.695)"/><use href="#ar" transform="translate(330.5 67.8) rotate(-175.528)"/><use href="#ar" transform="translate(347.2 67.8) rotate(-176.72)"/><use href="#ar" transform="translate(363.8 67.8) rotate(-178.385)"/><use href="#ar" transform="translate(380.5 67.8) rotate(-180.132)"/><use href="#ar" transform="translate(397.1 67.8) rotate(-184.531)"/><use href="#ar" transform="translate(413.8 67.8) rotate(-187.959)"/><use href="#ar" transform="translate(430.4 67.8) rotate(-190.013)"/><use href="#ar" transform="translate(447.1 67.8) rotate(-190.513)"/><use href="#ar" transform="translate(463.7 67.8) rotate(-191.012)"/><use href="#ar" transform="translate(480.4 67.8) rotate(-191.509)"/><use href="#ar" transform="translate(497.0 67.8) rotate(-191.882)"/><use href="#ar" transform="translate(513.7 67.8) rotate(-192.254)"/><use href="#ar" transform="translate(530.3 67.8) rotate(-192.627)"/><use href="#ar" transform="translate(547.0 67.8) rotate(-193)"/><use href="#ar" transform="translate(563.6 67.8) rotate(-193.994)"/><use href="#ar" transform="translate(580.3 67.8) rotate(-194.988)"/><use href="#ar" transform="translate(596.9 67.8) rotate(-195.982)"/><use href="#ar" transform="translate(613.6 67.8) rotate(-196.976)"/><use href="#ar" transform="translate(630.2 67.8) rotate(-197.985)"/><use href="#ar" transform="translate(646.9 67.8) rotate(-198.994)"/><use href="#ar" transform="translate(663.5 67.8) rotate(-200.755)"/><use href="#ar" transform="translate(680.2 67.8) rotate(-202.518)"/><use href="#ar" transform="translate(696.8 67.8) rotate(-203.987)"/><use href="#ar" transform="translate(47.5 84.5) rotate(-154.074)"/><use href="#ar" transform="translate(64.2 84.5) rotate(-156.531)"/><use href="#ar" transform="translate(80.8 84.5) rotate(-159.959)"/><use href="#ar" transform="translate(97.4 84.5) rotate(-163.106)"/><use href="#ar" transform="translate(114.1 84.5) rotate(-167.018)"/><use href="#ar" transform="translate(130.8 84.5) rotate(-169.956)"/><use href="#ar" transform="translate(147.4 84.5) rotate(-172.012)"/><use href="#ar" transform="translate(164.0 84.5) rotate(-172.501)"/><use href="#ar" transform="translate(180.7 84.5) rotate(-172.732)"/><use href="#ar" transform="translate(197.3 84.5) rotate(-172.963)"/><use href="#ar" transform="translate(214.0 84.5) rotate(-173)"/><use href="#ar" transform="translate(230.6 84.5) rotate(-173)"/><use href="#ar" transform="translate(247.3 84.5) rotate(-173)"/><use href="#ar" transform="translate(263.9 84.5) rotate(-173.279)"/><use href="#ar" transform="translate(280.6 84.5) rotate(-173.612)"/><use href="#ar" transform="translate(297.2 84.5) rotate(-173.945)"/><use href="#ar" transform="translate(313.9 84.5) rotate(-174.695)"/><use href="#ar" transform="translate(330.5 84.5) rotate(-175.528)"/><use href="#ar" transform="translate(347.2 84.5) rotate(-176.72)"/><use href="#ar" transform="translate(363.8 84.5) rotate(-178.385)"/><use href="#ar" transform="translate(380.5 84.5) rotate(-180.132)"/><use href="#ar" transform="translate(397.1 84.5) rotate(-184.531)"/><use href="#ar" transform="translate(413.8 84.5) rotate(-187.959)"/><use href="#ar" transform="translate(430.4 84.5) rotate(-190.013)"/><use href="#ar" transform="translate(447.1 84.5) rotate(-190.513)"/><use href="#ar" transform="translate(463.7 84.5) rotate(-191.012)"/><use href="#ar" transform="translate(480.4 84.5) rotate(-191.509)"/><use href="#ar" transform="translate(497.0 84.5) rotate(-191.882)"/><use href="#ar" transform="translate(513.7 84.5) rotate(-192.254)"/><use href="#ar" transform="translate(530.3 84.5) rotate(-192.627)"/><use href="#ar" transform="translate(547.0 84.5) rotate(-193)"/><use href="#ar" transform="translate(563.6 84.5) rotate(-193.994)"/><use href="#ar" transform="translate(580.3 84.5) rotate(-194.988)"/><use href="#ar" transform="translate(596.9 84.5) rotate(-195.982)"/><use href="#ar" transform="translate(613.6 84.5) rotate(-196.976)"/><use href="#ar" transform="translate(630.2 84.5) rotate(-197.985)"/><use href="#ar" transform="translate(646.9 84.5) rotate(-198.994)"/><use href="#ar" transform="translate(663.5 84.5) rotate(-200.755)"/><use href="#ar" transform="translate(680.2 84.5) rotate(-202.518)"/><use href="#ar" transform="translate(696.8 84.5) rotate(-203.987)"/><use href="#ar" transform="translate(47.5 101.2) rotate(-154.074)"/><use href="#ar" transform="translate(64.2 101.2) rotate(-156.531)"/><use href="#ar" transform="translate(80.8 101.2) rotate(-159.959)"/><use href="#ar" transform="translate(97.4 101.2) rotate(-163.106)"/><use href="#ar" transform="translate(114.1 101.2) rotate(-167.018)"/><use href="#ar" transform="translate(130.8 101.2) rotate(-169.956)"/><use href="#ar" transform="translate(147.4 101.2) rotate(-172.012)"/><use href="#ar" transform="translate(164.0 101.2) rotate(-172.501)"/><use href="#ar" transform="translate(180.7 101.2) rotate(-172.732)"/><use href="#ar" transform="translate(197.3 101.2) rotate(-172.963)"/><use href="#ar" transform="translate(214.0 101.2) rotate(-173)"/><use href="#ar" transform="translate(230.6 101.2) rotate(-173)"/><use href="#ar" transform="translate(247.3 101.2) rotate(-173)"/><use href="#ar" transform="translate(263.9 101.2) rotate(-173.279)"/><use href="#ar" transform="translate(280.6 101.2) rotate(-173.612)"/><use href="#ar" transform="translate(297.2 101.2) rotate(-173.945)"/><use href="#ar" transform="translate(313.9 101.2) rotate(-174.695)"/><use href="#ar" transform="translate(330.5 101.2) rotate(-175.528)"/><use href="#ar" transform="translate(347.2 101.2) rotate(-176.72)"/><use href="#ar" transform="translate(363.8 101.2) rotate(-178.385)"/><use href="#ar" transform="translate(380.5 101.2) rotate(-180.132)"/><use href="#ar" transform="translate(397.1 101.2) rotate(-184.531)"/><use href="#ar" transform="translate(413.8 101.2) rotate(-187.959)"/><use href="#ar" transform="translate(430.4 101.2) rotate(-190.013)"/><use href="#ar" transform="translate(447.1 101.2) rotate(-190.513)"/><use href="#ar" transform="translate(463.7 101.2) rotate(-191.012)"/><use href="#ar" transform="translate(480.4 101.2) rotate(-191.509)"/><use href="#ar" transform="translate(497.0 101.2) rotate(-191.882)"/><use href="#ar" transform="translate(513.7 101.2) rotate(-192.254)"/><use href="#ar" transform="translate(530.3 101.2) rotate(-192.627)"/><use href="#ar" transform="translate(547.0 101.2) rotate(-193)"/><use href="#ar" transform="translate(563.6 101.2) rotate(-193.994)"/><use href="#ar" transform="translate(580.3 101.2) rotate(-194.988)"/><use href="#ar" transform="translate(596.9 101.2) rotate(-195.982)"/><use href="#ar" transform="translate(613.6 101.2) rotate(-196.976)"/><use href="#ar" transform="translate(630.2 101.2) rotate(-197.985)"/><use href="#ar" transform="translate(646.9 101.2) rotate(-198.994)"/><use href="#ar" transform="translate(663.5 101.2) rotate(-200.755)"/><use href="#ar" transform="translate(680.2 101.2) rotate(-202.518)"/><use href="#ar" transform="translate(696.8 101.2) rotate(-203.987)"/><use href="#ar" transform="translate(47.5 117.9) rotate(-154.074)"/><use href="#ar" transform="translate(64.2 117.9) rotate(-156.531)"/><use href="#ar" transform="translate(80.8 117.9) rotate(-159.959)"/><use href="#ar" transform="translate(97.4 117.9) rotate(-163.106)"/><use href="#ar" transform="translate(114.1 117.9) rotate(-167.018)"/><use href="#ar" transform="translate(130.8 117.9) rotate(-169.956)"/><use href="#ar" transform="translate(147.4 117.9) rotate(-172.012)"/><use href="#ar" transform="translate(164.0 117.9) rotate(-172.501)"/><use href="#ar" transform="translate(180.7 117.9) rotate(-172.732)"/><use href="#ar" transform="translate(197.3 117.9) rotate(-172.963)"/><use href="#ar" transform="translate(214.0 117.9) rotate(-173)"/><use href="#ar" transform="translate(230.6 117.9) rotate(-173)"/><use href="#ar" transform="translate(247.3 117.9) rotate(-173)"/><use href="#ar" transform="translate(263.9 117.9) rotate(-173.279)"/><use href="#ar" transform="translate(280.6 117.9) rotate(-173.612)"/><use href="#ar" transform="translate(297.2 117.9) rotate(-173.945)"/><use href="#ar" transform="translate(313.9 117.9) rotate(-174.695)"/><use href="#ar" transform="translate(330.5 117.9) rotate(-175.528)"/><use href="#ar" transform="translate(347.2 117.9) rotate(-176.72)"/><use href="#ar" transform="translate(363.8 117.9) rotate(-178.385)"/><use href="#ar" transform="translate(380.5 117.9) rotate(-180.132)"/><use href="#ar" transform="translate(397.1 117.9) rotate(-184.531)"/><use href="#ar" transform="translate(413.8 117.9) rotate(-187.959)"/><use href="#ar" transform="translate(430.4 117.9) rotate(-190.013)"/><use href="#ar" transform="translate(447.1 117.9) rotate(-190.513)"/><use href="#ar" transform="translate(463.7 117.9) rotate(-191.012)"/><use href="#ar" transform="translate(480.4 117.9) rotate(-191.509)"/><use href="#ar" transform="translate(497.0 117.9) rotate(-191.882)"/><use href="#ar" transform="translate(513.7 117.9) rotate(-192.254)"/><use href="#ar" transform="translate(530.3 117.9) rotate(-192.627)"/><use href="#ar" transform="translate(547.0 117.9) rotate(-193)"/><use href="#ar" transform="translate(563.6 117.9) rotate(-193.994)"/><use href="#ar" transform="translate(580.3 117.9) rotate(-194.988)"/><use href="#ar" transform="translate(596.9 117.9) rotate(-195.982)"/><use href="#ar" transform="translate(613.6 117.9) rotate(-196.976)"/><use href="#ar" transform="translate(630.2 117.9) rotate(-197.985)"/><use href="#ar" transform="translate(646.9 117.9) rotate(-198.994)"/><use href="#ar" transform="translate(663.5 117.9) rotate(-200.755)"/><use href="#ar" transform="translate(680.2 117.9) rotate(-202.518)"/><use href="#ar" transform="translate(696.8 117.9) rotate(-203.987)"/><use href="#ar" transform="translate(47.5 134.6) rotate(-154.074)"/><use href="#ar" transform="translate(64.2 134.6) rotate(-156.531)"/><use href="#ar" transform="translate(80.8 134.6) rotate(-159.959)"/><use href="#ar" transform="translate(97.4 134.6) rotate(-163.106)"/><use href="#ar" transform="translate(114.1 134.6) rotate(-167.018)"/><use href="#ar" transform="translate(130.8 134.6) rotate(-169.956)"/><use href="#ar" transform="translate(147.4 134.6) rotate(-172.012)"/><use href="#ar" transform="translate(164.0 134.6) rotate(-172.501)"/><use href="#ar" transform="translate(180.7 134.6) rotate(-172.732)"/><use href="#ar" transform="translate(197.3 134.6) rotate(-172.963)"/><use href="#ar" transform="translate(214.0 134.6) rotate(-173)"/><use href="#ar" transform="translate(230.6 134.6) rotate(-173)"/><use href="#ar" transform="translate(247.3 134.6) rotate(-173)"/><use href="#ar" transform="translate(263.9 134.6) rotate(-173.279)"/><use href="#ar" transform="translate(280.6 134.6) rotate(-173.612)"/><use href="#ar" transform="translate(297.2 134.6) rotate(-173.945)"/><use href="#ar" transform="translate(313.9 134.6) rotate(-174.695)"/><use href="#ar" transform="translate(330.5 134.6) rotate(-175.528)"/><use href="#ar" transform="translate(347.2 134.6) rotate(-176.72)"/><use href="#ar" transform="translate(363.8 134.6) rotate(-178.385)"/><use href="#ar" transform="translate(380.5 134.6) rotate(-180.132)"/><use href="#ar" transform="translate(397.1 134.6) rotate(-184.531)"/><use href="#ar" transform="translate(413.8 134.6) rotate(-187.959)"/><use href="#ar" transform="translate(430.4 134.6) rotate(-190.013)"/><use href="#ar" transform="translate(447.1 134.6) rotate(-190.513)"/><use href="#ar" transform="translate(463.7 134.6) rotate(-191.012)"/><use href="#ar" transform="translate(480.4 134.6) rotate(-191.509)"/><use href="#ar" transform="translate(497.0 134.6) rotate(-191.882)"/><use href="#ar" transform="translate(513.7 134.6) rotate(-192.254)"/><use href="#ar" transform="translate(530.3 134.6) rotate(-192.627)"/><use href="#ar" transform="translate(547.0 134.6) rotate(-193)"/><use href="#ar" transform="translate(563.6 134.6) rotate(-193.994)"/><use href="#ar" transform="translate(580.3 134.6) rotate(-194.988)"/><use href="#ar" transform="translate(596.9 134.6) rotate(-195.982)"/><use href="#ar" transform="translate(613.6 134.6) rotate(-196.976)"/><use href="#ar" transform="translate(630.2 134.6) rotate(-197.985)"/><use href="#ar" transform="translate(646.9 134.6) rotate(-198.994)"/><use href="#ar" transform="translate(663.5 134.6) rotate(-200.755)"/><use href="#ar" transform="translate(680.2 134.6) rotate(-202.518)"/><use href="#ar" transform="translate(696.8 134.6) rotate(-203.987)"/><use href="#ar" transform="translate(47.5 151.3) rotate(-154.074)"/><use href="#ar" transform="translate(64.2 151.3) rotate(-156.531)"/><use href="#ar" transform="translate(80.8 151.3) rotate(-159.959)"/><use href="#ar" transform="translate(97.4 151.3) rotate(-163.106)"/><use href="#ar" transform="translate(114.1 151.3) rotate(-167.018)"/><use href="#ar" transform="translate(130.8 151.3) rotate(-169.956)"/><use href="#ar" transform="translate(147.4 151.3) rotate(-172.012)"/><use href="#ar" transform="translate(164.0 151.3) rotate(-172.501)"/><use href="#ar" transform="translate(180.7 151.3) rotate(-172.732)"/><use href="#ar" transform="translate(197.3 151.3) rotate(-172.963)"/><use href="#ar" transform="translate(214.0 151.3) rotate(-173)"/><use href="#ar" transform="translate(230.6 151.3) rotate(-173)"/><use href="#ar" transform="translate(247.3 151.3) rotate(-173)"/><use href="#ar" transform="translate(263.9 151.3) rotate(-173.279)"/><use href="#ar" transform="translate(280.6 151.3) rotate(-173.612)"/><use href="#ar" transform="translate(297.2 151.3) rotate(-173.945)"/><use href="#ar" transform="translate(313.9 151.3) rotate(-174.695)"/><use href="#ar" transform="translate(330.5 151.3) rotate(-175.528)"/><use href="#ar" transform="translate(347.2 151.3) rotate(-176.72)"/><use href="#ar" transform="translate(363.8 151.3) rotate(-178.385)"/><use href="#ar" transform="translate(380.5 151.3) rotate(-180.132)"/><use href="#ar" transform="translate(397.1 151.3) rotate(-184.531)"/><use href="#ar" transform="translate(413.8 151.3) rotate(-187.959)"/><use href="#ar" transform="translate(430.4 151.3) rotate(-190.013)"/><use href="#ar" transform="translate(447.1 151.3) rotate(-190.513)"/><use href="#ar" transform="translate(463.7 151.3) rotate(-191.012)"/><use href="#ar" transform="translate(480.4 151.3) rotate(-191.509)"/><use href="#ar" transform="translate(497.0 151.3) rotate(-191.882)"/><use href="#ar" transform="translate(513.7 151.3) rotate(-192.254)"/><use href="#ar" transform="translate(530.3 151.3) rotate(-192.627)"/><use href="#ar" transform="translate(547.0 151.3) rotate(-193)"/><use href="#ar" transform="translate(563.6 151.3) rotate(-193.994)"/><use href="#ar" transform="translate(580.3 151.3) rotate(-194.988)"/><use href="#ar" transform="translate(596.9 151.3) rotate(-195.982)"/><use href="#ar" transform="translate(613.6 151.3) rotate(-196.976)"/><use href="#ar" transform="translate(630.2 151.3) rotate(-197.985)"/><use href="#ar" transform="translate(646.9 151.3) rotate(-198.994)"/><use href="#ar" transform="translate(663.5 151.3) rotate(-200.755)"/><use href="#ar" transform="translate(680.2 151.3) rotate(-202.518)"/><use href="#ar" transform="translate(696.8 151.3) rotate(-203.987)"/><use href="#ar" transform="translate(47.5 168.0) rotate(-154.074)"/><use href="#ar" transform="translate(64.2 168.0) rotate(-156.531)"/><use href="#ar" transform="translate(80.8 168.0) rotate(-159.959)"/><use href="#ar" transform="translate(97.4 168.0) rotate(-163.106)"/><use href="#ar" transform="translate(114.1 168.0) rotate(-167.018)"/><use href="#ar" transform="translate(130.8 168.0) rotate(-169.956)"/><use href="#ar" transform="translate(147.4 168.0) rotate(-172.012)"/><use href="#ar" transform="translate(164.0 168.0) rotate(-172.501)"/><use href="#ar" transform="translate(180.7 168.0) rotate(-172.732)"/><use href="#ar" transform="translate(197.3 168.0) rotate(-172.963)"/><use href="#ar" transform="translate(214.0 168.0) rotate(-173)"/><use href="#ar" transform="translate(230.6 168.0) rotate(-173)"/><use href="#ar" transform="translate(247.3 168.0) rotate(-173)"/><use href="#ar" transform="translate(263.9 168.0) rotate(-173.279)"/><use href="#ar" transform="translate(280.6 168.0) rotate(-173.612)"/><use href="#ar" transform="translate(297.2 168.0) rotate(-173.945)"/><use href="#ar" transform="translate(313.9 168.0) rotate(-174.695)"/><use href="#ar" transform="translate(330.5 168.0) rotate(-175.528)"/><use href="#ar" transform="translate(347.2 168.0) rotate(-176.72)"/><use href="#ar" transform="translate(363.8 168.0) rotate(-178.385)"/><use href="#ar" transform="translate(380.5 168.0) rotate(-180.132)"/><use href="#ar" transform="translate(397.1 168.0) rotate(-184.531)"/><use href="#ar" transform="translate(413.8 168.0) rotate(-187.959)"/><use href="#ar" transform="translate(430.4 168.0) rotate(-190.013)"/><use href="#ar" transform="translate(447.1 168.0) rotate(-190.513)"/><use href="#ar" transform="translate(463.7 168.0) rotate(-191.012)"/><use href="#ar" transform="translate(480.4 168.0) rotate(-191.509)"/><use href="#ar" transform="translate(497.0 168.0) rotate(-191.882)"/><use href="#ar" transform="translate(513.7 168.0) rotate(-192.254)"/><use href="#ar" transform="translate(530.3 168.0) rotate(-192.627)"/><use href="#ar" transform="translate(547.0 168.0) rotate(-193)"/><use href="#ar" transform="translate(563.6 168.0) rotate(-193.994)"/><use href="#ar" transform="translate(580.3 168.0) rotate(-194.988)"/><use href="#ar" transform="translate(596.9 168.0) rotate(-195.982)"/><use href="#ar" transform="translate(613.6 168.0) rotate(-196.976)"/><use href="#ar" transform="translate(630.2 168.0) rotate(-197.985)"/><use href="#ar" transform="translate(646.9 168.0) rotate(-198.994)"/><use href="#ar" transform="translate(663.5 168.0) rotate(-200.755)"/><use href="#ar" transform="translate(680.2 168.0) rotate(-202.518)"/><use href="#ar" transform="translate(696.8 168.0) rotate(-203.987)"/><use href="#ar" transform="translate(47.5 205.6) rotate(-140)"/><use href="#ar" transform="translate(64.2 205.6) rotate(-145)"/><use href="#ar" transform="translate(80.8 205.6) rotate(-145)"/><use href="#ar" transform="translate(97.4 205.6) rotate(-148)"/><use href="#ar" transform="translate(114.1 205.6) rotate(-152)"/><use href="#ar" transform="translate(130.8 205.6) rotate(-160)"/><use href="#ar" transform="translate(147.4 205.6) rotate(-168)"/><use href="#ar" transform="translate(164.0 205.6) rotate(-175)"/><use href="#ar" transform="translate(180.7 205.6) rotate(-178)"/><use href="#ar" transform="translate(197.3 205.6) rotate(-180)"/><use href="#ar" transform="translate(214.0 205.6) rotate(-180)"/><use href="#ar" transform="translate(230.6 205.6) rotate(-180)"/><use href="#ar" transform="translate(247.3 205.6) rotate(-180)"/><use href="#ar" transform="translate(263.9 205.6) rotate(-175)"/><use href="#ar" transform="translate(280.6 205.6) rotate(-172)"/><use href="#ar" transform="translate(297.2 205.6) rotate(-170)"/><use href="#ar" transform="translate(313.9 205.6) rotate(-168)"/><use href="#ar" transform="translate(330.5 205.6) rotate(-165)"/><use href="#ar" transform="translate(347.2 205.6) rotate(-163)"/><use href="#ar" transform="translate(363.8 205.6) rotate(-163)"/><use href="#ar" transform="translate(380.5 205.6) rotate(-172)"/><use href="#ar" transform="translate(397.1 205.6) rotate(-175)"/><use href="#ar" transform="translate(413.8 205.6) rotate(-178)"/><use href="#ar" transform="translate(430.4 205.6) rotate(-180)"/><use href="#ar" transform="translate(447.1 205.6) rotate(-185)"/><use href="#ar" transform="translate(463.7 205.6) rotate(-190)"/><use href="#ar" transform="translate(480.4 205.6) rotate(-195)"/><use href="#ar" transform="translate(497.0 205.6) rotate(-200)"/><use href="#ar" transform="translate(513.7 205.6) rotate(-200)"/><use href="#ar" transform="translate(530.3 205.6) rotate(-200)"/><use href="#ar" transform="translate(547.0 205.6) rotate(-200)"/><use href="#ar" transform="translate(563.6 205.6) rotate(-200)"/><use href="#ar" transform="translate(580.3 205.6) rotate(-198)"/><use href="#ar" transform="translate(596.9 205.6) rotate(-198)"/><use href="#ar" transform="translate(613.6 205.6) rotate(-197)"/><use href="#ar" transform="translate(630.2 205.6) rotate(-197)"/><use href="#ar" transform="translate(646.9 205.6) rotate(-197)"/><use href="#ar" transform="translate(663.5 205.6) rotate(-197)"/><use href="#ar" transform="translate(680.2 205.6) rotate(-198)"/><use href="#ar" transform="translate(696.8 205.6) rotate(-200)"/><use href="#ar" transform="translate(47.5 222.2) rotate(-145)"/><use href="#ar" transform="translate(64.2 222.2) rotate(-145)"/><use href="#ar" transform="translate(80.8 222.2) rotate(-145)"/><use href="#ar" transform="translate(97.4 222.2) rotate(-148)"/><use href="#ar" transform="translate(114.1 222.2) rotate(-152)"/><use href="#ar" transform="translate(130.8 222.2) rotate(-160)"/><use href="#ar" transform="translate(147.4 222.2) rotate(-168)"/><use href="#ar" transform="translate(164.0 222.2) rotate(-175)"/><use href="#ar" transform="translate(180.7 222.2) rotate(-178)"/><use href="#ar" transform="translate(197.3 222.2) rotate(-180)"/><use href="#ar" transform="translate(214.0 222.2) rotate(-180)"/><use href="#ar" transform="translate(230.6 222.2) rotate(-178)"/><use href="#ar" transform="translate(247.3 222.2) rotate(-178)"/><use href="#ar" transform="translate(263.9 222.2) rotate(-177)"/><use href="#ar" transform="translate(280.6 222.2) rotate(-175)"/><use href="#ar" transform="translate(297.2 222.2) rotate(-172)"/><use href="#ar" transform="translate(313.9 222.2) rotate(-168)"/><use href="#ar" transform="translate(330.5 222.2) rotate(-165)"/><use href="#ar" transform="translate(347.2 222.2) rotate(-160)"/><use href="#ar" transform="translate(363.8 222.2) rotate(-160)"/><use href="#ar" transform="translate(380.5 222.2) rotate(-170)"/><use href="#ar" transform="translate(397.1 222.2) rotate(-172)"/><use href="#ar" transform="translate(413.8 222.2) rotate(-177)"/><use href="#ar" transform="translate(430.4 222.2) rotate(-180)"/><use href="#ar" transform="translate(447.1 222.2) rotate(-185)"/><use href="#ar" transform="translate(463.7 222.2) rotate(-192)"/><use href="#ar" transform="translate(480.4 222.2) rotate(-198)"/><use href="#ar" transform="translate(497.0 222.2) rotate(-202)"/><use href="#ar" transform="translate(513.7 222.2) rotate(-205)"/><use href="#ar" transform="translate(530.3 222.2) rotate(-205)"/><use href="#ar" transform="translate(547.0 222.2) rotate(-203)"/><use href="#ar" transform="translate(563.6 222.2) rotate(-202)"/><use href="#ar" transform="translate(580.3 222.2) rotate(-200)"/><use href="#ar" transform="translate(596.9 222.2) rotate(-198)"/><use href="#ar" transform="translate(613.6 222.2) rotate(-197)"/><use href="#ar" transform="translate(630.2 222.2) rotate(-196)"/><use href="#ar" transform="translate(646.9 222.2) rotate(-195)"/><use href="#ar" transform="translate(663.5 222.2) rotate(-195)"/><use href="#ar" transform="translate(680.2 222.2) rotate(-196)"/><use href="#ar" transform="translate(696.8 222.2) rotate(-198)"/><use href="#ar" transform="translate(47.5 239.0) rotate(-140)"/><use href="#ar" transform="translate(64.2 239.0) rotate(-140)"/><use href="#ar" transform="translate(80.8 239.0) rotate(-140)"/><use href="#ar" transform="translate(97.4 239.0) rotate(-143)"/><use href="#ar" transform="translate(114.1 239.0) rotate(-148)"/><use href="#ar" transform="translate(130.8 239.0) rotate(-160)"/><use href="#ar" transform="translate(147.4 239.0) rotate(-170)"/><use href="#ar" transform="translate(164.0 239.0) rotate(-177)"/><use href="#ar" transform="translate(180.7 239.0) rotate(-180)"/><use href="#ar" transform="translate(197.3 239.0) rotate(-182)"/><use href="#ar" transform="translate(214.0 239.0) rotate(-180)"/><use href="#ar" transform="translate(230.6 239.0) rotate(-180)"/><use href="#ar" transform="translate(247.3 239.0) rotate(-180)"/><use href="#ar" transform="translate(263.9 239.0) rotate(-178)"/><use href="#ar" transform="translate(280.6 239.0) rotate(-175)"/><use href="#ar" transform="translate(297.2 239.0) rotate(-170)"/><use href="#ar" transform="translate(313.9 239.0) rotate(-165)"/><use href="#ar" transform="translate(330.5 239.0) rotate(-160)"/><use href="#ar" transform="translate(347.2 239.0) rotate(-155)"/><use href="#ar" transform="translate(363.8 239.0) rotate(-155)"/><use href="#ar" transform="translate(380.5 239.0) rotate(-160)"/><use href="#ar" transform="translate(397.1 239.0) rotate(-165)"/><use href="#ar" transform="translate(413.8 239.0) rotate(-172)"/><use href="#ar" transform="translate(430.4 239.0) rotate(-180)"/><use href="#ar" transform="translate(447.1 239.0) rotate(-190)"/><use href="#ar" transform="translate(463.7 239.0) rotate(-198)"/><use href="#ar" transform="translate(480.4 239.0) rotate(-205)"/><use href="#ar" transform="translate(497.0 239.0) rotate(-208)"/><use href="#ar" transform="translate(513.7 239.0) rotate(-210)"/><use href="#ar" transform="translate(530.3 239.0) rotate(-210)"/><use href="#ar" transform="translate(547.0 239.0) rotate(-207)"/><use href="#ar" transform="translate(563.6 239.0) rotate(-205)"/><use href="#ar" transform="translate(580.3 239.0) rotate(-202)"/><use href="#ar" transform="translate(596.9 239.0) rotate(-198)"/><use href="#ar" transform="translate(613.6 239.0) rotate(-195)"/><use href="#ar" transform="translate(630.2 239.0) rotate(-193)"/><use href="#ar" transform="translate(646.9 239.0) rotate(-192)"/><use href="#ar" transform="translate(663.5 239.0) rotate(-192)"/><use href="#ar" transform="translate(680.2 239.0) rotate(-192)"/><use href="#ar" transform="translate(696.8 239.0) rotate(-193)"/><use href="#ar" transform="translate(47.5 255.7) rotate(-138)"/><use href="#ar" transform="translate(64.2 255.7) rotate(-135)"/><use href="#ar" transform="translate(80.8 255.7) rotate(-135)"/><use href="#ar" transform="translate(97.4 255.7) rotate(-137)"/><use href="#ar" transform="translate(114.1 255.7) rotate(-145)"/><use href="#ar" transform="translate(130.8 255.7) rotate(-160)"/><use href="#ar" transform="translate(147.4 255.7) rotate(-175)"/><use href="#ar" transform="translate(164.0 255.7) rotate(-182)"/><use href="#ar" transform="translate(180.7 255.7) rotate(-185)"/><use href="#ar" transform="translate(197.3 255.7) rotate(-188)"/><use href="#ar" transform="translate(214.0 255.7) rotate(-190)"/><use href="#ar" transform="translate(230.6 255.7) rotate(-185)"/><use href="#ar" transform="translate(247.3 255.7) rotate(-182)"/><use href="#ar" transform="translate(263.9 255.7) rotate(-180)"/><use href="#ar" transform="translate(280.6 255.7) rotate(-176)"/><use href="#ar" transform="translate(297.2 255.7) rotate(-170)"/><use href="#ar" transform="translate(313.9 255.7) rotate(-163)"/><use href="#ar" transform="translate(330.5 255.7) rotate(-155)"/><use href="#ar" transform="translate(347.2 255.7) rotate(-150)"/><use href="#ar" transform="translate(363.8 255.7) rotate(-148)"/><use href="#ar" transform="translate(380.5 255.7) rotate(-150)"/><use href="#ar" transform="translate(397.1 255.7) rotate(-155)"/><use href="#ar" transform="translate(413.8 255.7) rotate(-165)"/><use href="#ar" transform="translate(430.4 255.7) rotate(-180)"/><use href="#ar" transform="translate(447.1 255.7) rotate(-195)"/><use href="#ar" transform="translate(463.7 255.7) rotate(-205)"/><use href="#ar" transform="translate(480.4 255.7) rotate(-215)"/><use href="#ar" transform="translate(497.0 255.7) rotate(-218)"/><use href="#ar" transform="translate(513.7 255.7) rotate(-218)"/><use href="#ar" transform="translate(530.3 255.7) rotate(-215)"/><use href="#ar" transform="translate(547.0 255.7) rotate(-210)"/><use href="#ar" transform="translate(563.6 255.7) rotate(-207)"/><use href="#ar" transform="translate(580.3 255.7) rotate(-203)"/><use href="#ar" transform="translate(596.9 255.7) rotate(-198)"/><use href="#ar" transform="translate(613.6 255.7) rotate(-193)"/><use href="#ar" transform="translate(630.2 255.7) rotate(-188)"/><use href="#ar" transform="translate(646.9 255.7) rotate(-185)"/><use href="#ar" transform="translate(663.5 255.7) rotate(-183)"/><use href="#ar" transform="translate(680.2 255.7) rotate(-183)"/><use href="#ar" transform="translate(696.8 255.7) rotate(-183)"/><use href="#ar" transform="translate(47.5 272.4) rotate(-137)"/><use href="#ar" transform="translate(64.2 272.4) rotate(-132)"/><use href="#ar" transform="translate(80.8 272.4) rotate(-130)"/><use href="#ar" transform="translate(97.4 272.4) rotate(-132)"/><use href="#ar" transform="translate(114.1 272.4) rotate(-145)"/><use href="#ar" transform="translate(130.8 272.4) rotate(-163)"/><use href="#ar" transform="translate(147.4 272.4) rotate(-180)"/><use href="#ar" transform="translate(164.0 272.4) rotate(-188)"/><use href="#ar" transform="translate(180.7 272.4) rotate(-192)"/><use href="#ar" transform="translate(197.3 272.4) rotate(-195)"/><use href="#ar" transform="translate(214.0 272.4) rotate(-195)"/><use href="#ar" transform="translate(230.6 272.4) rotate(-190)"/><use href="#ar" transform="translate(247.3 272.4) rotate(-185)"/><use href="#ar" transform="translate(263.9 272.4) rotate(-180)"/><use href="#ar" transform="translate(280.6 272.4) rotate(-176)"/><use href="#ar" transform="translate(297.2 272.4) rotate(-170)"/><use href="#ar" transform="translate(313.9 272.4) rotate(-160)"/><use href="#ar" transform="translate(330.5 272.4) rotate(-150)"/><use href="#ar" transform="translate(347.2 272.4) rotate(-145)"/><use href="#ar" transform="translate(363.8 272.4) rotate(-140)"/><use href="#ar" transform="translate(380.5 272.4) rotate(-145)"/><use href="#ar" transform="translate(397.1 272.4) rotate(-148)"/><use href="#ar" transform="translate(413.8 272.4) rotate(-160)"/><use href="#ar" transform="translate(430.4 272.4) rotate(-180)"/><use href="#ar" transform="translate(447.1 272.4) rotate(-195)"/><use href="#ar" transform="translate(463.7 272.4) rotate(-210)"/><use href="#ar" transform="translate(480.4 272.4) rotate(-220)"/><use href="#ar" transform="translate(497.0 272.4) rotate(-222)"/><use href="#ar" transform="translate(513.7 272.4) rotate(-220)"/><use href="#ar" transform="translate(530.3 272.4) rotate(-215)"/><use href="#ar" transform="translate(547.0 272.4) rotate(-212)"/><use href="#ar" transform="translate(563.6 272.4) rotate(-208)"/><use href="#ar" transform="translate(580.3 272.4) rotate(-203)"/><use href="#ar" transform="translate(596.9 272.4) rotate(-196)"/><use href="#ar" transform="translate(613.6 272.4) rotate(-190)"/><use href="#ar" transform="translate(630.2 272.4) rotate(-185)"/><use href="#ar" transform="translate(646.9 272.4) rotate(-182)"/><use href="#ar" transform="translate(663.5 272.4) rotate(-180)"/><use href="#ar" transform="translate(680.2 272.4) rotate(-180)"/><use href="#ar" transform="translate(696.8 272.4) rotate(-180)"/><use href="#ar" transform="translate(47.5 289.1) rotate(-135)"/><use href="#ar" transform="translate(64.2 289.1) rotate(-125)"/><use href="#ar" transform="translate(80.8 289.1) rotate(-120)"/><use href="#ar" transform="translate(97.4 289.1) rotate(-122)"/><use href="#ar" transform="translate(114.1 289.1) rotate(-140)"/><use href="#ar" transform="translate(130.8 289.1) rotate(-165)"/><use href="#ar" transform="translate(147.4 289.1) rotate(-195)"/><use href="#ar" transform="translate(164.0 289.1) rotate(-205)"/><use href="#ar" transform="translate(180.7 289.1) rotate(-200)"/><use href="#ar" transform="translate(197.3 289.1) rotate(-195)"/><use href="#ar" transform="translate(214.0 289.1) rotate(-200)"/><use href="#ar" transform="translate(230.6 289.1) rotate(-192)"/><use href="#ar" transform="translate(247.3 289.1) rotate(-185)"/><use href="#ar" transform="translate(263.9 289.1) rotate(-180)"/><use href="#ar" transform="translate(280.6 289.1) rotate(-178)"/><use href="#ar" transform="translate(297.2 289.1) rotate(-172)"/><use href="#ar" transform="translate(313.9 289.1) rotate(-162)"/><use href="#ar" transform="translate(330.5 289.1) rotate(-150)"/><use href="#ar" transform="translate(347.2 289.1) rotate(-143)"/><use href="#ar" transform="translate(363.8 289.1) rotate(-138)"/><use href="#ar" transform="translate(380.5 289.1) rotate(-135)"/><use href="#ar" transform="translate(397.1 289.1) rotate(-130)"/><use href="#ar" transform="translate(413.8 289.1) rotate(-140)"/><use href="#ar" transform="translate(430.4 289.1) rotate(-165)"/><use href="#ar" transform="translate(447.1 289.1) rotate(-200)"/><use href="#ar" transform="translate(463.7 289.1) rotate(-225)"/><use href="#ar" transform="translate(480.4 289.1) rotate(-225)"/><use href="#ar" transform="translate(497.0 289.1) rotate(-225)"/><use href="#ar" transform="translate(513.7 289.1) rotate(-220)"/><use href="#ar" transform="translate(530.3 289.1) rotate(-210)"/><use href="#ar" transform="translate(547.0 289.1) rotate(-210)"/><use href="#ar" transform="translate(563.6 289.1) rotate(-205)"/><use href="#ar" transform="translate(580.3 289.1) rotate(-198)"/><use href="#ar" transform="translate(596.9 289.1) rotate(-193)"/><use href="#ar" transform="translate(613.6 289.1) rotate(-188)"/><use href="#ar" transform="translate(630.2 289.1) rotate(-183)"/><use href="#ar" transform="translate(646.9 289.1) rotate(-180)"/><use href="#ar" transform="translate(663.5 289.1) rotate(-178)"/><use href="#ar" transform="translate(680.2 289.1) rotate(-175)"/><use href="#ar" transform="translate(696.8 289.1) rotate(-170)"/><use href="#ar" transform="translate(47.5 305.8) rotate(-128)"/><use href="#ar" transform="translate(64.2 305.8) rotate(-115)"/><use href="#ar" transform="translate(80.8 305.8) rotate(-110)"/><use href="#ar" transform="translate(97.4 305.8) rotate(-102)"/><use href="#ar" transform="translate(114.1 305.8) rotate(-112)"/><use href="#ar" transform="translate(130.8 305.8) rotate(-160)"/><use href="#ar" transform="translate(147.4 305.8) rotate(-225)"/><use href="#ar" transform="translate(164.0 305.8) rotate(-222)"/><use href="#ar" transform="translate(180.7 305.8) rotate(-210)"/><use href="#ar" transform="translate(197.3 305.8) rotate(-200)"/><use href="#ar" transform="translate(214.0 305.8) rotate(-200)"/><use href="#ar" transform="translate(230.6 305.8) rotate(-192)"/><use href="#ar" transform="translate(247.3 305.8) rotate(-185)"/><use href="#ar" transform="translate(263.9 305.8) rotate(-180)"/><use href="#ar" transform="translate(280.6 305.8) rotate(-177)"/><use href="#ar" transform="translate(297.2 305.8) rotate(-172)"/><use href="#ar" transform="translate(313.9 305.8) rotate(-162)"/><use href="#ar" transform="translate(330.5 305.8) rotate(-152)"/><use href="#ar" transform="translate(347.2 305.8) rotate(-145)"/><use href="#ar" transform="translate(363.8 305.8) rotate(-135)"/><use href="#ar" transform="translate(380.5 305.8) rotate(-135)"/><use href="#ar" transform="translate(397.1 305.8) rotate(-125)"/><use href="#ar" transform="translate(413.8 305.8) rotate(-115)"/><use href="#ar" transform="translate(430.4 305.8) rotate(-140)"/><use href="#ar" transform="translate(447.1 305.8) rotate(-240)"/><use href="#ar" transform="translate(463.7 305.8) rotate(-250)"/><use href="#ar" transform="translate(480.4 305.8) rotate(-245)"/><use href="#ar" transform="translate(497.0 305.8) rotate(-230)"/><use href="#ar" transform="translate(513.7 305.8) rotate(-220)"/><use href="#ar" transform="translate(530.3 305.8) rotate(-215)"/><use href="#ar" transform="translate(547.0 305.8) rotate(-208)"/><use href="#ar" transform="translate(563.6 305.8) rotate(-203)"/><use href="#ar" transform="translate(580.3 305.8) rotate(-197)"/><use href="#ar" transform="translate(596.9 305.8) rotate(-192)"/><use href="#ar" transform="translate(613.6 305.8) rotate(-187)"/><use href="#ar" transform="translate(630.2 305.8) rotate(-182)"/><use href="#ar" transform="translate(646.9 305.8) rotate(-180)"/><use href="#ar" transform="translate(663.5 305.8) rotate(-177)"/><use href="#ar" transform="translate(680.2 305.8) rotate(-170)"/><use href="#ar" transform="translate(696.8 305.8) rotate(-160)"/><use href="#ar" transform="translate(47.5 322.4) rotate(-128)"/><use href="#ar" transform="translate(64.2 322.4) rotate(-110)"/><use href="#ar" transform="translate(80.8 322.4) rotate(-100)"/><use href="#ar" transform="translate(97.4 322.4) rotate(-90)"/><use href="#ar" transform="translate(114.1 322.4) rotate(-80)"/><use href="#ar" transform="translate(130.8 322.4) rotate(-60)"/><use href="#ar" transform="translate(147.4 322.4) rotate(-237)"/><use href="#ar" transform="translate(164.0 322.4) rotate(-225)"/><use href="#ar" transform="translate(180.7 322.4) rotate(-212)"/><use href="#ar" transform="translate(197.3 322.4) rotate(-200)"/><use href="#ar" transform="translate(214.0 322.4) rotate(-195)"/><use href="#ar" transform="translate(230.6 322.4) rotate(-190)"/><use href="#ar" transform="translate(247.3 322.4) rotate(-185)"/><use href="#ar" transform="translate(263.9 322.4) rotate(-180)"/><use href="#ar" transform="translate(280.6 322.4) rotate(-178)"/><use href="#ar" transform="translate(297.2 322.4) rotate(-172)"/><use href="#ar" transform="translate(313.9 322.4) rotate(-165)"/><use href="#ar" transform="translate(330.5 322.4) rotate(-155)"/><use href="#ar" transform="translate(347.2 322.4) rotate(-148)"/><use href="#ar" transform="translate(363.8 322.4) rotate(-135)"/><use href="#ar" transform="translate(380.5 322.4) rotate(-130)"/><use href="#ar" transform="translate(397.1 322.4) rotate(-115)"/><use href="#ar" transform="translate(413.8 322.4) rotate(-95)"/><use href="#ar" transform="translate(430.4 322.4) rotate(-45)"/><use href="#ar" transform="translate(447.1 322.4) rotate(-300)"/><use href="#ar" transform="translate(463.7 322.4) rotate(-270)"/><use href="#ar" transform="translate(480.4 322.4) rotate(-260)"/><use href="#ar" transform="translate(497.0 322.4) rotate(-235)"/><use href="#ar" transform="translate(513.7 322.4) rotate(-220)"/><use href="#ar" transform="translate(530.3 322.4) rotate(-210)"/><use href="#ar" transform="translate(547.0 322.4) rotate(-205)"/><use href="#ar" transform="translate(563.6 322.4) rotate(-200)"/><use href="#ar" transform="translate(580.3 322.4) rotate(-195)"/><use href="#ar" transform="translate(596.9 322.4) rotate(-190)"/><use href="#ar" transform="translate(613.6 322.4) rotate(-185)"/><use href="#ar" transform="translate(630.2 322.4) rotate(-182)"/><use href="#ar" transform="translate(646.9 322.4) rotate(-180)"/><use href="#ar" transform="translate(663.5 322.4) rotate(-175)"/><use href="#ar" transform="translate(680.2 322.4) rotate(-168)"/><use href="#ar" transform="translate(696.8 322.4) rotate(-155)"/><use href="#ar" transform="translate(47.5 339.1) rotate(-128)"/><use href="#ar" transform="translate(64.2 339.1) rotate(-107)"/><use href="#ar" transform="translate(80.8 339.1) rotate(-95)"/><use href="#ar" transform="translate(97.4 339.1) rotate(-83)"/><use href="#ar" transform="translate(114.1 339.1) rotate(-50)"/><use href="#ar" transform="translate(130.8 339.1) rotate(-35)"/><use href="#ar" transform="translate(147.4 339.1) rotate(-345)"/><use href="#ar" transform="translate(164.0 339.1) rotate(-218)"/><use href="#ar" transform="translate(180.7 339.1) rotate(-195)"/><use href="#ar" transform="translate(197.3 339.1) rotate(-190)"/><use href="#ar" transform="translate(214.0 339.1) rotate(-190)"/><use href="#ar" transform="translate(230.6 339.1) rotate(-185)"/><use href="#ar" transform="translate(247.3 339.1) rotate(-182)"/><use href="#ar" transform="translate(263.9 339.1) rotate(-180)"/><use href="#ar" transform="translate(280.6 339.1) rotate(-178)"/><use href="#ar" transform="translate(297.2 339.1) rotate(-175)"/><use href="#ar" transform="translate(313.9 339.1) rotate(-168)"/><use href="#ar" transform="translate(330.5 339.1) rotate(-162)"/><use href="#ar" transform="translate(347.2 339.1) rotate(-155)"/><use href="#ar" transform="translate(363.8 339.1) rotate(-148)"/><use href="#ar" transform="translate(380.5 339.1) rotate(-140)"/><use href="#ar" transform="translate(397.1 339.1) rotate(-110)"/><use href="#ar" transform="translate(413.8 339.1) rotate(-70)"/><use href="#ar" transform="translate(430.4 339.1) rotate(-10)"/><use href="#ar" transform="translate(447.1 339.1) rotate(-340)"/><use href="#ar" transform="translate(463.7 339.1) rotate(-300)"/><use href="#ar" transform="translate(480.4 339.1) rotate(-275)"/><use href="#ar" transform="translate(497.0 339.1) rotate(-230)"/><use href="#ar" transform="translate(513.7 339.1) rotate(-210)"/><use href="#ar" transform="translate(530.3 339.1) rotate(-195)"/><use href="#ar" transform="translate(547.0 339.1) rotate(-198)"/><use href="#ar" transform="translate(563.6 339.1) rotate(-195)"/><use href="#ar" transform="translate(580.3 339.1) rotate(-192)"/><use href="#ar" transform="translate(596.9 339.1) rotate(-188)"/><use href="#ar" transform="translate(613.6 339.1) rotate(-185)"/><use href="#ar" transform="translate(630.2 339.1) rotate(-182)"/><use href="#ar" transform="translate(646.9 339.1) rotate(-180)"/><use href="#ar" transform="translate(663.5 339.1) rotate(-178)"/><use href="#ar" transform="translate(680.2 339.1) rotate(-178)"/><use href="#ar" transform="translate(696.8 339.1) rotate(-178)"/><use href="#ar" transform="translate(47.5 355.9) rotate(-160)"/><use href="#ar" transform="translate(64.2 355.9) rotate(-102)"/><use href="#ar" transform="translate(80.8 355.9) rotate(-90)"/><use href="#ar" transform="translate(97.4 355.9) rotate(-90)"/><use href="#ar" transform="translate(114.1 355.9) rotate(-38)"/><use href="#ar" transform="translate(130.8 355.9) rotate(-35)"/><use href="#ar" transform="translate(147.4 355.9) rotate(-50)"/><use href="#ar" transform="translate(164.0 355.9) rotate(-135)"/><use href="#ar" transform="translate(180.7 355.9) rotate(-175)"/><use href="#ar" transform="translate(197.3 355.9) rotate(-175)"/><use href="#ar" transform="translate(214.0 355.9) rotate(-183)"/><use href="#ar" transform="translate(230.6 355.9) rotate(-180)"/><use href="#ar" transform="translate(247.3 355.9) rotate(-180)"/><use href="#ar" transform="translate(263.9 355.9) rotate(-180)"/><use href="#ar" transform="translate(280.6 355.9) rotate(-178)"/><use href="#ar" transform="translate(297.2 355.9) rotate(-177)"/><use href="#ar" transform="translate(313.9 355.9) rotate(-175)"/><use href="#ar" transform="translate(330.5 355.9) rotate(-172)"/><use href="#ar" transform="translate(347.2 355.9) rotate(-170)"/><use href="#ar" transform="translate(363.8 355.9) rotate(-170)"/><use href="#ar" transform="translate(380.5 355.9) rotate(-160)"/><use href="#ar" transform="translate(397.1 355.9) rotate(-220)"/><use href="#ar" transform="translate(413.8 355.9) rotate(0)"/><use href="#ar" transform="translate(430.4 355.9) rotate(-5)"/><use href="#ar" transform="translate(447.1 355.9) rotate(-330)"/><use href="#ar" transform="translate(463.7 355.9) rotate(-350)"/><use href="#ar" transform="translate(480.4 355.9) rotate(-270)"/><use href="#ar" transform="translate(497.0 355.9) rotate(-200)"/><use href="#ar" transform="translate(513.7 355.9) rotate(-180)"/><use href="#ar" transform="translate(530.3 355.9) rotate(-180)"/><use href="#ar" transform="translate(547.0 355.9) rotate(-182)"/><use href="#ar" transform="translate(563.6 355.9) rotate(-180)"/><use href="#ar" transform="translate(580.3 355.9) rotate(-180)"/><use href="#ar" transform="translate(596.9 355.9) rotate(-180)"/><use href="#ar" transform="translate(613.6 355.9) rotate(-180)"/><use href="#ar" transform="translate(630.2 355.9) rotate(-180)"/><use href="#ar" transform="translate(646.9 355.9) rotate(-180)"/><use href="#ar" transform="translate(663.5 355.9) rotate(-185)"/><use href="#ar" transform="translate(680.2 355.9) rotate(-190)"/><use href="#ar" transform="translate(696.8 355.9) rotate(-215)"/><use href="#ar" transform="translate(47.5 393.1) rotate(-135)"/><use href="#ar" transform="translate(64.2 393.1) rotate(-130)"/><use href="#ar" transform="translate(80.8 393.1) rotate(-125)"/><use href="#ar" transform="translate(97.4 393.1) rotate(-130)"/><use href="#ar" transform="translate(114.1 393.1) rotate(-135)"/><use href="#ar" transform="translate(130.8 393.1) rotate(-155)"/><use href="#ar" transform="translate(147.4 393.1) rotate(-175)"/><use href="#ar" transform="translate(164.0 393.1) rotate(-188)"/><use href="#ar" transform="translate(180.7 393.1) rotate(-195)"/><use href="#ar" transform="translate(197.3 393.1) rotate(-200)"/><use href="#ar" transform="translate(214.0 393.1) rotate(-195)"/><use href="#ar" transform="translate(230.6 393.1) rotate(-192)"/><use href="#ar" transform="translate(247.3 393.1) rotate(-180)"/><use href="#ar" transform="translate(263.9 393.1) rotate(-180)"/><use href="#ar" transform="translate(280.6 393.1) rotate(-180)"/><use href="#ar" transform="translate(297.2 393.1) rotate(-178)"/><use href="#ar" transform="translate(313.9 393.1) rotate(-170)"/><use href="#ar" transform="translate(330.5 393.1) rotate(-162)"/><use href="#ar" transform="translate(347.2 393.1) rotate(-155)"/><use href="#ar" transform="translate(363.8 393.1) rotate(-150)"/><use href="#ar" transform="translate(380.5 393.1) rotate(-150)"/><use href="#ar" transform="translate(397.1 393.1) rotate(-155)"/><use href="#ar" transform="translate(413.8 393.1) rotate(-160)"/><use href="#ar" transform="translate(430.4 393.1) rotate(-168)"/><use href="#ar" transform="translate(447.1 393.1) rotate(-180)"/><use href="#ar" transform="translate(463.7 393.1) rotate(-195)"/><use href="#ar" transform="translate(480.4 393.1) rotate(-210)"/><use href="#ar" transform="translate(497.0 393.1) rotate(-215)"/><use href="#ar" transform="translate(513.7 393.1) rotate(-215)"/><use href="#ar" transform="translate(530.3 393.1) rotate(-215)"/><use href="#ar" transform="translate(547.0 393.1) rotate(-215)"/><use href="#ar" transform="translate(563.6 393.1) rotate(-212)"/><use href="#ar" transform="translate(580.3 393.1) rotate(-205)"/><use href="#ar" transform="translate(596.9 393.1) rotate(-200)"/><use href="#ar" transform="translate(613.6 393.1) rotate(-193)"/><use href="#ar" transform="translate(630.2 393.1) rotate(-188)"/><use href="#ar" transform="translate(646.9 393.1) rotate(-183)"/><use href="#ar" transform="translate(663.5 393.1) rotate(-180)"/><use href="#ar" transform="translate(680.2 393.1) rotate(-180)"/><use href="#ar" transform="translate(696.8 393.1) rotate(-180)"/><use href="#ar" transform="translate(47.5 409.8) rotate(-130)"/><use href="#ar" transform="translate(64.2 409.8) rotate(-125)"/><use href="#ar" transform="translate(80.8 409.8) rotate(-125)"/><use href="#ar" transform="translate(97.4 409.8) rotate(-130)"/><use href="#ar" transform="translate(114.1 409.8) rotate(-135)"/><use href="#ar" transform="translate(130.8 409.8) rotate(-155)"/><use href="#ar" transform="translate(147.4 409.8) rotate(-175)"/><use href="#ar" transform="translate(164.0 409.8) rotate(-188)"/><use href="#ar" transform="translate(180.7 409.8) rotate(-195)"/><use href="#ar" transform="translate(197.3 409.8) rotate(-200)"/><use href="#ar" transform="translate(214.0 409.8) rotate(-195)"/><use href="#ar" transform="translate(230.6 409.8) rotate(-192)"/><use href="#ar" transform="translate(247.3 409.8) rotate(-188)"/><use href="#ar" transform="translate(263.9 409.8) rotate(-183)"/><use href="#ar" transform="translate(280.6 409.8) rotate(-180)"/><use href="#ar" transform="translate(297.2 409.8) rotate(-178)"/><use href="#ar" transform="translate(313.9 409.8) rotate(-170)"/><use href="#ar" transform="translate(330.5 409.8) rotate(-160)"/><use href="#ar" transform="translate(347.2 409.8) rotate(-155)"/><use href="#ar" transform="translate(363.8 409.8) rotate(-148)"/><use href="#ar" transform="translate(380.5 409.8) rotate(-145)"/><use href="#ar" transform="translate(397.1 409.8) rotate(-145)"/><use href="#ar" transform="translate(413.8 409.8) rotate(-150)"/><use href="#ar" transform="translate(430.4 409.8) rotate(-160)"/><use href="#ar" transform="translate(447.1 409.8) rotate(-180)"/><use href="#ar" transform="translate(463.7 409.8) rotate(-200)"/><use href="#ar" transform="translate(480.4 409.8) rotate(-220)"/><use href="#ar" transform="translate(497.0 409.8) rotate(-225)"/><use href="#ar" transform="translate(513.7 409.8) rotate(-225)"/><use href="#ar" transform="translate(530.3 409.8) rotate(-222)"/><use href="#ar" transform="translate(547.0 409.8) rotate(-218)"/><use href="#ar" transform="translate(563.6 409.8) rotate(-215)"/><use href="#ar" transform="translate(580.3 409.8) rotate(-210)"/><use href="#ar" transform="translate(596.9 409.8) rotate(-203)"/><use href="#ar" transform="translate(613.6 409.8) rotate(-195)"/><use href="#ar" transform="translate(630.2 409.8) rotate(-188)"/><use href="#ar" transform="translate(646.9 409.8) rotate(-183)"/><use href="#ar" transform="translate(663.5 409.8) rotate(-180)"/><use href="#ar" transform="translate(680.2 409.8) rotate(-180)"/><use href="#ar" transform="translate(696.8 409.8) rotate(-178)"/><use href="#ar" transform="translate(47.5 426.5) rotate(-125)"/><use href="#ar" transform="translate(64.2 426.5) rotate(-120)"/><use href="#ar" transform="translate(80.8 426.5) rotate(-115)"/><use href="#ar" transform="translate(97.4 426.5) rotate(-115)"/><use href="#ar" transform="translate(114.1 426.5) rotate(-115)"/><use href="#ar" transform="translate(130.8 426.5) rotate(-140)"/><use href="#ar" transform="translate(147.4 426.5) rotate(-190)"/><use href="#ar" transform="translate(164.0 426.5) rotate(-215)"/><use href="#ar" transform="translate(180.7 426.5) rotate(-220)"/><use href="#ar" transform="translate(197.3 426.5) rotate(-220)"/><use href="#ar" transform="translate(214.0 426.5) rotate(-210)"/><use href="#ar" transform="translate(230.6 426.5) rotate(-200)"/><use href="#ar" transform="translate(247.3 426.5) rotate(-192)"/><use href="#ar" transform="translate(263.9 426.5) rotate(-185)"/><use href="#ar" transform="translate(280.6 426.5) rotate(-180)"/><use href="#ar" transform="translate(297.2 426.5) rotate(-177)"/><use href="#ar" transform="translate(313.9 426.5) rotate(-168)"/><use href="#ar" transform="translate(330.5 426.5) rotate(-158)"/><use href="#ar" transform="translate(347.2 426.5) rotate(-150)"/><use href="#ar" transform="translate(363.8 426.5) rotate(-145)"/><use href="#ar" transform="translate(380.5 426.5) rotate(-140)"/><use href="#ar" transform="translate(397.1 426.5) rotate(-140)"/><use href="#ar" transform="translate(413.8 426.5) rotate(-135)"/><use href="#ar" transform="translate(430.4 426.5) rotate(-140)"/><use href="#ar" transform="translate(447.1 426.5) rotate(-165)"/><use href="#ar" transform="translate(463.7 426.5) rotate(-225)"/><use href="#ar" transform="translate(480.4 426.5) rotate(-240)"/><use href="#ar" transform="translate(497.0 426.5) rotate(-235)"/><use href="#ar" transform="translate(513.7 426.5) rotate(-230)"/><use href="#ar" transform="translate(530.3 426.5) rotate(-225)"/><use href="#ar" transform="translate(547.0 426.5) rotate(-222)"/><use href="#ar" transform="translate(563.6 426.5) rotate(-218)"/><use href="#ar" transform="translate(580.3 426.5) rotate(-210)"/><use href="#ar" transform="translate(596.9 426.5) rotate(-203)"/><use href="#ar" transform="translate(613.6 426.5) rotate(-195)"/><use href="#ar" transform="translate(630.2 426.5) rotate(-188)"/><use href="#ar" transform="translate(646.9 426.5) rotate(-182)"/><use href="#ar" transform="translate(663.5 426.5) rotate(-180)"/><use href="#ar" transform="translate(680.2 426.5) rotate(-175)"/><use href="#ar" transform="translate(696.8 426.5) rotate(-165)"/><use href="#ar" transform="translate(47.5 443.2) rotate(-120)"/><use href="#ar" transform="translate(64.2 443.2) rotate(-110)"/><use href="#ar" transform="translate(80.8 443.2) rotate(-100)"/><use href="#ar" transform="translate(97.4 443.2) rotate(-90)"/><use href="#ar" transform="translate(114.1 443.2) rotate(-90)"/><use href="#ar" transform="translate(130.8 443.2) rotate(-75)"/><use href="#ar" transform="translate(147.4 443.2) rotate(-250)"/><use href="#ar" transform="translate(164.0 443.2) rotate(-235)"/><use href="#ar" transform="translate(180.7 443.2) rotate(-225)"/><use href="#ar" transform="translate(197.3 443.2) rotate(-225)"/><use href="#ar" transform="translate(214.0 443.2) rotate(-220)"/><use href="#ar" transform="translate(230.6 443.2) rotate(-205)"/><use href="#ar" transform="translate(247.3 443.2) rotate(-195)"/><use href="#ar" transform="translate(263.9 443.2) rotate(-187)"/><use href="#ar" transform="translate(280.6 443.2) rotate(-180)"/><use href="#ar" transform="translate(297.2 443.2) rotate(-177)"/><use href="#ar" transform="translate(313.9 443.2) rotate(-165)"/><use href="#ar" transform="translate(330.5 443.2) rotate(-155)"/><use href="#ar" transform="translate(347.2 443.2) rotate(-145)"/><use href="#ar" transform="translate(363.8 443.2) rotate(-140)"/><use href="#ar" transform="translate(380.5 443.2) rotate(-135)"/><use href="#ar" transform="translate(397.1 443.2) rotate(-125)"/><use href="#ar" transform="translate(413.8 443.2) rotate(-110)"/><use href="#ar" transform="translate(430.4 443.2) rotate(-95)"/><use href="#ar" transform="translate(447.1 443.2) rotate(-75)"/><use href="#ar" transform="translate(463.7 443.2) rotate(-275)"/><use href="#ar" transform="translate(480.4 443.2) rotate(-270)"/><use href="#ar" transform="translate(497.0 443.2) rotate(-260)"/><use href="#ar" transform="translate(513.7 443.2) rotate(-250)"/><use href="#ar" transform="translate(530.3 443.2) rotate(-240)"/><use href="#ar" transform="translate(547.0 443.2) rotate(-228)"/><use href="#ar" transform="translate(563.6 443.2) rotate(-222)"/><use href="#ar" transform="translate(580.3 443.2) rotate(-213)"/><use href="#ar" transform="translate(596.9 443.2) rotate(-205)"/><use href="#ar" transform="translate(613.6 443.2) rotate(-195)"/><use href="#ar" transform="translate(630.2 443.2) rotate(-188)"/><use href="#ar" transform="translate(646.9 443.2) rotate(-182)"/><use href="#ar" transform="translate(663.5 443.2) rotate(-175)"/><use href="#ar" transform="translate(680.2 443.2) rotate(-165)"/><use href="#ar" transform="translate(696.8 443.2) rotate(-155)"/><use href="#ar" transform="translate(47.5 459.9) rotate(-120)"/><use href="#ar" transform="translate(64.2 459.9) rotate(-105)"/><use href="#ar" transform="translate(80.8 459.9) rotate(-95)"/><use href="#ar" transform="translate(97.4 459.9) rotate(-85)"/><use href="#ar" transform="translate(114.1 459.9) rotate(-50)"/><use href="#ar" transform="translate(130.8 459.9) rotate(-10)"/><use href="#ar" transform="translate(147.4 459.9) rotate(-305)"/><use href="#ar" transform="translate(164.0 459.9) rotate(-265)"/><use href="#ar" transform="translate(180.7 459.9) rotate(-250)"/><use href="#ar" transform="translate(197.3 459.9) rotate(-235)"/><use href="#ar" transform="translate(214.0 459.9) rotate(-225)"/><use href="#ar" transform="translate(230.6 459.9) rotate(-210)"/><use href="#ar" transform="translate(247.3 459.9) rotate(-198)"/><use href="#ar" transform="translate(263.9 459.9) rotate(-188)"/><use href="#ar" transform="translate(280.6 459.9) rotate(-180)"/><use href="#ar" transform="translate(297.2 459.9) rotate(-177)"/><use href="#ar" transform="translate(313.9 459.9) rotate(-163)"/><use href="#ar" transform="translate(330.5 459.9) rotate(-152)"/><use href="#ar" transform="translate(347.2 459.9) rotate(-143)"/><use href="#ar" transform="translate(363.8 459.9) rotate(-138)"/><use href="#ar" transform="translate(380.5 459.9) rotate(-120)"/><use href="#ar" transform="translate(397.1 459.9) rotate(-110)"/><use href="#ar" transform="translate(413.8 459.9) rotate(-95)"/><use href="#ar" transform="translate(430.4 459.9) rotate(-85)"/><use href="#ar" transform="translate(447.1 459.9) rotate(-25)"/><use href="#ar" transform="translate(463.7 459.9) rotate(-330)"/><use href="#ar" transform="translate(480.4 459.9) rotate(-290)"/><use href="#ar" transform="translate(497.0 459.9) rotate(-270)"/><use href="#ar" transform="translate(513.7 459.9) rotate(-260)"/><use href="#ar" transform="translate(530.3 459.9) rotate(-250)"/><use href="#ar" transform="translate(547.0 459.9) rotate(-235)"/><use href="#ar" transform="translate(563.6 459.9) rotate(-228)"/><use href="#ar" transform="translate(580.3 459.9) rotate(-215)"/><use href="#ar" transform="translate(596.9 459.9) rotate(-205)"/><use href="#ar" transform="translate(613.6 459.9) rotate(-195)"/><use href="#ar" transform="translate(630.2 459.9) rotate(-187)"/><use href="#ar" transform="translate(646.9 459.9) rotate(-180)"/><use href="#ar" transform="translate(663.5 459.9) rotate(-172)"/><use href="#ar" transform="translate(680.2 459.9) rotate(-160)"/><use href="#ar" transform="translate(696.8 459.9) rotate(-145)"/><use href="#ar" transform="translate(47.5 476.6) rotate(-110)"/><use href="#ar" transform="translate(64.2 476.6) rotate(-100)"/><use href="#ar" transform="translate(80.8 476.6) rotate(-92)"/><use href="#ar" transform="translate(97.4 476.6) rotate(-65)"/><use href="#ar" transform="translate(114.1 476.6) rotate(-30)"/><use href="#ar" transform="translate(130.8 476.6) rotate(0)"/><use href="#ar" transform="translate(147.4 476.6) rotate(-330)"/><use href="#ar" transform="translate(164.0 476.6) rotate(-280)"/><use href="#ar" transform="translate(180.7 476.6) rotate(-265)"/><use href="#ar" transform="translate(197.3 476.6) rotate(-250)"/><use href="#ar" transform="translate(214.0 476.6) rotate(-225)"/><use href="#ar" transform="translate(230.6 476.6) rotate(-210)"/><use href="#ar" transform="translate(247.3 476.6) rotate(-195)"/><use href="#ar" transform="translate(263.9 476.6) rotate(-185)"/><use href="#ar" transform="translate(280.6 476.6) rotate(-180)"/><use href="#ar" transform="translate(297.2 476.6) rotate(-178)"/><use href="#ar" transform="translate(313.9 476.6) rotate(-170)"/><use href="#ar" transform="translate(330.5 476.6) rotate(-160)"/><use href="#ar" transform="translate(347.2 476.6) rotate(-145)"/><use href="#ar" transform="translate(363.8 476.6) rotate(-135)"/><use href="#ar" transform="translate(380.5 476.6) rotate(-115)"/><use href="#ar" transform="translate(397.1 476.6) rotate(-100)"/><use href="#ar" transform="translate(413.8 476.6) rotate(-90)"/><use href="#ar" transform="translate(430.4 476.6) rotate(-50)"/><use href="#ar" transform="translate(447.1 476.6) rotate(-10)"/><use href="#ar" transform="translate(463.7 476.6) rotate(-345)"/><use href="#ar" transform="translate(480.4 476.6) rotate(-315)"/><use href="#ar" transform="translate(497.0 476.6) rotate(-275)"/><use href="#ar" transform="translate(513.7 476.6) rotate(-265)"/><use href="#ar" transform="translate(530.3 476.6) rotate(-250)"/><use href="#ar" transform="translate(547.0 476.6) rotate(-235)"/><use href="#ar" transform="translate(563.6 476.6) rotate(-225)"/><use href="#ar" transform="translate(580.3 476.6) rotate(-208)"/><use href="#ar" transform="translate(596.9 476.6) rotate(-197)"/><use href="#ar" transform="translate(613.6 476.6) rotate(-190)"/><use href="#ar" transform="translate(630.2 476.6) rotate(-183)"/><use href="#ar" transform="translate(646.9 476.6) rotate(-180)"/><use href="#ar" transform="translate(663.5 476.6) rotate(-170)"/><use href="#ar" transform="translate(680.2 476.6) rotate(-150)"/><use href="#ar" transform="translate(696.8 476.6) rotate(-135)"/><use href="#ar" transform="translate(47.5 493.3) rotate(-105)"/><use href="#ar" transform="translate(64.2 493.3) rotate(-90)"/><use href="#ar" transform="translate(80.8 493.3) rotate(-80)"/><use href="#ar" transform="translate(97.4 493.3) rotate(-40)"/><use href="#ar" transform="translate(114.1 493.3) rotate(-15)"/><use href="#ar" transform="translate(130.8 493.3) rotate(-5)"/><use href="#ar" transform="translate(147.4 493.3) rotate(-355)"/><use href="#ar" transform="translate(164.0 493.3) rotate(-310)"/><use href="#ar" transform="translate(180.7 493.3) rotate(-270)"/><use href="#ar" transform="translate(197.3 493.3) rotate(-255)"/><use href="#ar" transform="translate(214.0 493.3) rotate(-225)"/><use href="#ar" transform="translate(230.6 493.3) rotate(-205)"/><use href="#ar" transform="translate(247.3 493.3) rotate(-192)"/><use href="#ar" transform="translate(263.9 493.3) rotate(-183)"/><use href="#ar" transform="translate(280.6 493.3) rotate(-180)"/><use href="#ar" transform="translate(297.2 493.3) rotate(-178)"/><use href="#ar" transform="translate(313.9 493.3) rotate(-172)"/><use href="#ar" transform="translate(330.5 493.3) rotate(-165)"/><use href="#ar" transform="translate(347.2 493.3) rotate(-148)"/><use href="#ar" transform="translate(363.8 493.3) rotate(-125)"/><use href="#ar" transform="translate(380.5 493.3) rotate(-110)"/><use href="#ar" transform="translate(397.1 493.3) rotate(-95)"/><use href="#ar" transform="translate(413.8 493.3) rotate(-75)"/><use href="#ar" transform="translate(430.4 493.3) rotate(-25)"/><use href="#ar" transform="translate(447.1 493.3) rotate(0)"/><use href="#ar" transform="translate(463.7 493.3) rotate(-355)"/><use href="#ar" transform="translate(480.4 493.3) rotate(-330)"/><use href="#ar" transform="translate(497.0 493.3) rotate(-300)"/><use href="#ar" transform="translate(513.7 493.3) rotate(-270)"/><use href="#ar" transform="translate(530.3 493.3) rotate(-260)"/><use href="#ar" transform="translate(547.0 493.3) rotate(-240)"/><use href="#ar" transform="translate(563.6 493.3) rotate(-215)"/><use href="#ar" transform="translate(580.3 493.3) rotate(-200)"/><use href="#ar" transform="translate(596.9 493.3) rotate(-192)"/><use href="#ar" transform="translate(613.6 493.3) rotate(-187)"/><use href="#ar" transform="translate(630.2 493.3) rotate(-183)"/><use href="#ar" transform="translate(646.9 493.3) rotate(-180)"/><use href="#ar" transform="translate(663.5 493.3) rotate(-172)"/><use href="#ar" transform="translate(680.2 493.3) rotate(-152)"/><use href="#ar" transform="translate(696.8 493.3) rotate(-135)"/><use href="#ar" transform="translate(47.5 510.0) rotate(-105)"/><use href="#ar" transform="translate(64.2 510.0) rotate(-85)"/><use href="#ar" transform="translate(80.8 510.0) rotate(-30)"/><use href="#ar" transform="translate(97.4 510.0) rotate(-5)"/><use href="#ar" transform="translate(114.1 510.0) rotate(-5)"/><use href="#ar" transform="translate(130.8 510.0) rotate(-10)"/><use href="#ar" transform="translate(147.4 510.0) rotate(-10)"/><use href="#ar" transform="translate(164.0 510.0) rotate(-350)"/><use href="#ar" transform="translate(180.7 510.0) rotate(-280)"/><use href="#ar" transform="translate(197.3 510.0) rotate(-260)"/><use href="#ar" transform="translate(214.0 510.0) rotate(-220)"/><use href="#ar" transform="translate(230.6 510.0) rotate(-190)"/><use href="#ar" transform="translate(247.3 510.0) rotate(-185)"/><use href="#ar" transform="translate(263.9 510.0) rotate(-182)"/><use href="#ar" transform="translate(280.6 510.0) rotate(-180)"/><use href="#ar" transform="translate(297.2 510.0) rotate(-180)"/><use href="#ar" transform="translate(313.9 510.0) rotate(-180)"/><use href="#ar" transform="translate(330.5 510.0) rotate(-177)"/><use href="#ar" transform="translate(347.2 510.0) rotate(-175)"/><use href="#ar" transform="translate(363.8 510.0) rotate(-145)"/><use href="#ar" transform="translate(380.5 510.0) rotate(-110)"/><use href="#ar" transform="translate(397.1 510.0) rotate(-95)"/><use href="#ar" transform="translate(413.8 510.0) rotate(-20)"/><use href="#ar" transform="translate(430.4 510.0) rotate(0)"/><use href="#ar" transform="translate(447.1 510.0) rotate(0)"/><use href="#ar" transform="translate(463.7 510.0) rotate(0)"/><use href="#ar" transform="translate(480.4 510.0) rotate(0)"/><use href="#ar" transform="translate(497.0 510.0) rotate(-340)"/><use href="#ar" transform="translate(513.7 510.0) rotate(-280)"/><use href="#ar" transform="translate(530.3 510.0) rotate(-255)"/><use href="#ar" transform="translate(547.0 510.0) rotate(-225)"/><use href="#ar" transform="translate(563.6 510.0) rotate(-195)"/><use href="#ar" transform="translate(580.3 510.0) rotate(-185)"/><use href="#ar" transform="translate(596.9 510.0) rotate(-183)"/><use href="#ar" transform="translate(613.6 510.0) rotate(-183)"/><use href="#ar" transform="translate(630.2 510.0) rotate(-182)"/><use href="#ar" transform="translate(646.9 510.0) rotate(-180)"/><use href="#ar" transform="translate(663.5 510.0) rotate(-180)"/><use href="#ar" transform="translate(680.2 510.0) rotate(-180)"/><use href="#ar" transform="translate(696.8 510.0) rotate(-150)"/><use href="#ar" transform="translate(47.5 526.8) rotate(-110)"/><use href="#ar" transform="translate(64.2 526.8) rotate(-25)"/><use href="#ar" transform="translate(80.8 526.8) rotate(-355)"/><use href="#ar" transform="translate(97.4 526.8) rotate(0)"/><use href="#ar" transform="translate(114.1 526.8) rotate(-8)"/><use href="#ar" transform="translate(130.8 526.8) rotate(-12)"/><use href="#ar" transform="translate(147.4 526.8) rotate(-15)"/><use href="#ar" transform="translate(164.0 526.8) rotate(-10)"/><use href="#ar" transform="translate(180.7 526.8) rotate(-350)"/><use href="#ar" transform="translate(197.3 526.8) rotate(-250)"/><use href="#ar" transform="translate(214.0 526.8) rotate(-190)"/><use href="#ar" transform="translate(230.6 526.8) rotate(-185)"/><use href="#ar" transform="translate(247.3 526.8) rotate(-182)"/><use href="#ar" transform="translate(263.9 526.8) rotate(-180)"/><use href="#ar" transform="translate(280.6 526.8) rotate(-180)"/><use href="#ar" transform="translate(297.2 526.8) rotate(-180)"/><use href="#ar" transform="translate(313.9 526.8) rotate(-180)"/><use href="#ar" transform="translate(330.5 526.8) rotate(-180)"/><use href="#ar" transform="translate(347.2 526.8) rotate(-183)"/><use href="#ar" transform="translate(363.8 526.8) rotate(-180)"/><use href="#ar" transform="translate(380.5 526.8) rotate(-115)"/><use href="#ar" transform="translate(397.1 526.8) rotate(-30)"/><use href="#ar" transform="translate(413.8 526.8) rotate(-345)"/><use href="#ar" transform="translate(430.4 526.8) rotate(-345)"/><use href="#ar" transform="translate(447.1 526.8) rotate(-350)"/><use href="#ar" transform="translate(463.7 526.8) rotate(0)"/><use href="#ar" transform="translate(480.4 526.8) rotate(-5)"/><use href="#ar" transform="translate(497.0 526.8) rotate(-10)"/><use href="#ar" transform="translate(513.7 526.8) rotate(-345)"/><use href="#ar" transform="translate(530.3 526.8) rotate(-260)"/><use href="#ar" transform="translate(547.0 526.8) rotate(-190)"/><use href="#ar" transform="translate(563.6 526.8) rotate(-182)"/><use href="#ar" transform="translate(580.3 526.8) rotate(-180)"/><use href="#ar" transform="translate(596.9 526.8) rotate(-180)"/><use href="#ar" transform="translate(613.6 526.8) rotate(-180)"/><use href="#ar" transform="translate(630.2 526.8) rotate(-182)"/><use href="#ar" transform="translate(646.9 526.8) rotate(-182)"/><use href="#ar" transform="translate(663.5 526.8) rotate(-185)"/><use href="#ar" transform="translate(680.2 526.8) rotate(-188)"/><use href="#ar" transform="translate(696.8 526.8) rotate(-180)"/><use href="#ar" transform="translate(47.5 543.4) rotate(-135)"/><use href="#ar" transform="translate(64.2 543.4) rotate(-15)"/><use href="#ar" transform="translate(80.8 543.4) rotate(-12)"/><use href="#ar" transform="translate(97.4 543.4) rotate(-25)"/><use href="#ar" transform="translate(114.1 543.4) rotate(-10)"/><use href="#ar" transform="translate(130.8 543.4) rotate(0)"/><use href="#ar" transform="translate(147.4 543.4) rotate(0)"/><use href="#ar" transform="translate(164.0 543.4) rotate(-5)"/><use href="#ar" transform="translate(180.7 543.4) rotate(-10)"/><use href="#ar" transform="translate(197.3 543.4) rotate(-170)"/><use href="#ar" transform="translate(214.0 543.4) rotate(-165)"/><use href="#ar" transform="translate(230.6 543.4) rotate(-175)"/><use href="#ar" transform="translate(247.3 543.4) rotate(-183)"/><use href="#ar" transform="translate(263.9 543.4) rotate(-182)"/><use href="#ar" transform="translate(280.6 543.4) rotate(-180)"/><use href="#ar" transform="translate(297.2 543.4) rotate(-180)"/><use href="#ar" transform="translate(313.9 543.4) rotate(-180)"/><use href="#ar" transform="translate(330.5 543.4) rotate(-180)"/><use href="#ar" transform="translate(347.2 543.4) rotate(-183)"/><use href="#ar" transform="translate(363.8 543.4) rotate(-180)"/><use href="#ar" transform="translate(380.5 543.4) rotate(-140)"/><use href="#ar" transform="translate(397.1 543.4) rotate(-330)"/><use href="#ar" transform="translate(413.8 543.4) rotate(-10)"/><use href="#ar" transform="translate(430.4 543.4) rotate(-5)"/><use href="#ar" transform="translate(447.1 543.4) rotate(-350)"/><use href="#ar" transform="translate(463.7 543.4) rotate(0)"/><use href="#ar" transform="translate(480.4 543.4) rotate(-320)"/><use href="#ar" transform="translate(497.0 543.4) rotate(-20)"/><use href="#ar" transform="translate(513.7 543.4) rotate(-25)"/><use href="#ar" transform="translate(530.3 543.4) rotate(-170)"/><use href="#ar" transform="translate(547.0 543.4) rotate(-175)"/><use href="#ar" transform="translate(563.6 543.4) rotate(-180)"/><use href="#ar" transform="translate(580.3 543.4) rotate(-180)"/><use href="#ar" transform="translate(596.9 543.4) rotate(-180)"/><use href="#ar" transform="translate(613.6 543.4) rotate(-180)"/><use href="#ar" transform="translate(630.2 543.4) rotate(-180)"/><use href="#ar" transform="translate(646.9 543.4) rotate(-182)"/><use href="#ar" transform="translate(663.5 543.4) rotate(-183)"/><use href="#ar" transform="translate(680.2 543.4) rotate(-185)"/><use href="#ar" transform="translate(696.8 543.4) rotate(-190)"/></svg><svg class="ar" width="795" height="594" viewBox="0 0 795 594"><g stroke="#333" stroke-width="0.8" fill="none"><path d="M102.6 176.0 V173.3"/><path d="M237.5 176.0 V173.3"/><path d="M372.4 176.0 V173.3"/><path d="M507.3 176.0 V173.3"/><path d="M642.2 176.0 V173.3"/><path d="M39 8.3 H41.7"/><path d="M39 61.4 H41.7"/><path d="M39 114.2 H41.7"/><path d="M102.6 363.8 V361.1"/><path d="M237.5 363.8 V361.1"/><path d="M372.4 363.8 V361.1"/><path d="M507.3 363.8 V361.1"/><path d="M642.2 363.8 V361.1"/><path d="M39 196.1 H41.7"/><path d="M39 249.2 H41.7"/><path d="M39 302.0 H41.7"/><path d="M102.6 551.4 V548.7"/><path d="M237.5 551.4 V548.7"/><path d="M372.4 551.4 V548.7"/><path d="M507.3 551.4 V548.7"/><path d="M642.2 551.4 V548.7"/><path d="M39 383.7 H41.7"/><path d="M39 436.8 H41.7"/><path d="M39 489.6 H41.7"/></g></svg><div class="fr" style="top:5px"></div><div class="cb" style="top:5.5px;background:linear-gradient(180deg,#fffbf4 0%,#fff5e8 5%,#fff0dc 10%,#ffe9cd 15%,#ffe2bc 20%,#ffdbaa 25%,#fed097 30%,#fdc584 35%,#fcb76c 40%,#fba550 45%,#f8963a 50%,#f08034 55%,#e66a36 60%,#dc5238 65%,#d23b38 70%,#c4303d 75%,#b02843 80%,#951d4b 85%,#7c1353 90%,#640c5a 95%,#52095c 100%)"></div><div class="fr" style="top:192.8px"></div><div class="cb" style="top:193.3px;background:linear-gradient(180deg,#fffbf4 0%,#fff5e8 5%,#fff0dc 10%,#ffe9cd 15%,#ffe2bc 20%,#ffdbaa 25%,#fed097 30%,#fdc584 35%,#fcb76c 40%,#fba550 45%,#f8963a 50%,#f08034 55%,#e66a36 60%,#dc5238 65%,#d23b38 70%,#c4303d 75%,#b02843 80%,#951d4b 85%,#7c1353 90%,#640c5a 95%,#52095c 100%)"></div><div class="fr" style="top:380.4px"></div><div class="cb" style="top:380.9px;background:linear-gradient(180deg,#fffbf4 0%,#fff5e8 5%,#fff0dc 10%,#ffe9cd 15%,#ffe2bc 20%,#ffdbaa 25%,#fed097 30%,#fdc584 35%,#fcb76c 40%,#fba550 45%,#f8963a 50%,#f08034 55%,#e66a36 60%,#dc5238 65%,#d23b38 70%,#c4303d 75%,#b02843 80%,#951d4b 85%,#7c1353 90%,#640c5a 95%,#52095c 100%)"></div><div class="txt"><div class="lb" style="top:9.5px;width:208.3px"></div><span class="tb" style="left:54.3px;top:9.3px">a</span><span class="tx" style="left:78.4px;top:10.8px"><i>T</i></span><span class="tx" style="left:87.6px;top:10.8px">=</span><span class="tx" style="left:98.6px;top:10.8px">0.176</span><span class="tx" style="left:130.2px;top:10.8px"><i>T</i></span><span class="ts" style="left:137.6px;top:17.8px">c</span><span class="tge" style="left:145.3px;top:14.1px"><svg viewBox="0 0 8 12" width="8" height="12" style="position:absolute;left:0;top:0"><path d="M1.2 0.8 L6.8 3.3 L1.2 5.8" fill="none" stroke="#000" stroke-width="0.95"/><path d="M1.1 10.0 C2.1 8.6 3.2 8.7 4.0 9.3 C4.8 9.9 5.9 10.0 6.9 8.7" fill="none" stroke="#000" stroke-width="0.95"/></svg></span><span class="tx" style="left:157px;top:10.8px"><i>T</i></span><span class="tst" style="left:164.3px;top:13px">*</span><span class="tx" style="left:169.9px;top:10.8px">,</span><span class="tx" style="left:176.9px;top:10.8px"><i>B</i></span><span class="ts" style="left:185px;top:17.8px">ext</span><span class="tx" style="left:199px;top:10.8px">=</span><span class="tx" style="left:209.6px;top:10.8px">0.5</span><span class="tx" style="left:227px;top:10.8px"><i>B</i></span><span class="ts" style="left:235.4px;top:17.8px">g1</span><div class="lb" style="top:197.5px;width:203.1px"></div><span class="tb" style="left:53.6px;top:197.3px">b</span><span class="tx" style="left:78.1px;top:198.6px"><i>T</i></span><span class="tx" style="left:87.3px;top:198.6px">=</span><span class="tx" style="left:98.4px;top:198.6px">0.17</span><span class="tx" style="left:123.1px;top:198.6px"><i>T</i></span><span class="ts" style="left:131.2px;top:205.6px">c</span><span class="tx" style="left:138.4px;top:198.6px"><</span><span class="tx" style="left:149.8px;top:198.6px"><i>T</i></span><span class="tst" style="left:157.6px;top:200.8px">*</span><span class="tx" style="left:163.3px;top:198.6px">,</span><span class="tx" style="left:169.8px;top:198.6px"><i>B</i></span><span class="ts" style="left:177.9px;top:205.6px">ext</span><span class="tx" style="left:192.1px;top:198.6px">=</span><span class="tx" style="left:203.2px;top:198.6px">0.5</span><span class="tx" style="left:219.6px;top:198.6px"><i>B</i></span><span class="ts" style="left:228.3px;top:205.6px">g1</span><div class="lb" style="top:384.4px;width:195.4px"></div><span class="tb" style="left:54.2px;top:384.2px">c</span><span class="tx" style="left:78.1px;top:385.6px"><i>T</i></span><span class="tx" style="left:87.3px;top:385.6px">=</span><span class="tx" style="left:98.4px;top:385.6px">0.1</span><span class="tx" style="left:114.8px;top:385.6px"><i>T</i></span><span class="ts" style="left:123.6px;top:392.6px">c</span><span class="tx" style="left:131.6px;top:385.6px"><</span><span class="tx" style="left:143.4px;top:385.6px"><i>T</i></span><span class="tst" style="left:151.3px;top:387.8px">*</span><span class="tx" style="left:155.5px;top:385.6px">,</span><span class="tx" style="left:162.7px;top:385.6px"><i>B</i></span><span class="ts" style="left:170.8px;top:392.6px">ext</span><span class="tx" style="left:185.1px;top:385.6px">=</span><span class="tx" style="left:196.1px;top:385.6px">0.5</span><span class="tx" style="left:212.5px;top:385.6px"><i>B</i></span><span class="ts" style="left:221.2px;top:392.6px">g1</span><div class="yt" style="top:0px">6</div><div class="yt" style="top:53.2px">4</div><div class="yt" style="top:106.5px">2</div><div class="yt" style="top:168.3px">0</div><div class="yt" style="top:187.8px">6</div><div class="yt" style="top:241px">4</div><div class="yt" style="top:294.3px">2</div><div class="yt" style="top:356.1px">0</div><div class="yt" style="top:375.4px">6</div><div class="yt" style="top:428.6px">4</div><div class="yt" style="top:481.9px">2</div><div class="yt" style="top:543.7px">0</div><div class="xt" style="left:88.3px">20</div><div class="xt" style="left:223.1px">25</div><div class="xt" style="left:358px">30</div><div class="xt" style="left:493px">35</div><div class="xt" style="left:628px">40</div><div class="ct" style="top:-3px">0.06</div><div class="ct" style="top:168px">0.03</div><div class="ct" style="top:184.8px">0.09</div><div class="ct" style="top:355.8px">0</div><div class="ct" style="top:372.4px">0.28</div><div class="ct" style="top:543.4px">0</div><div class="yl" style="left:-3.4px;top:104px;transform:rotate(-90deg)"><i>y</i>/<span class="xi">&xi;</span><sub class="s0">0</sub></div><div class="cl" style="left:794px;top:56px;transform:rotate(90deg)"><span class="ups">&upsilon;</span><sub class="s1">F</sub><span class="bar">|</span><b>p</b><sub class="s1">s</sub><span class="bar">|</span>/<i>k</i><sub class="s1">B</sub> <i>T</i><sub class="s1">c</sub></div><div class="yl" style="left:-3.4px;top:291.8px;transform:rotate(-90deg)"><i>y</i>/<span class="xi">&xi;</span><sub class="s0">0</sub></div><div class="cl" style="left:794px;top:243.8px;transform:rotate(90deg)"><span class="ups">&upsilon;</span><sub class="s1">F</sub><span class="bar">|</span><b>p</b><sub class="s1">s</sub><span class="bar">|</span>/<i>k</i><sub class="s1">B</sub> <i>T</i><sub class="s1">c</sub></div><div class="yl" style="left:-3.4px;top:479.4px;transform:rotate(-90deg)"><i>y</i>/<span class="xi">&xi;</span><sub class="s0">0</sub></div><div class="cl" style="left:794px;top:431.4px;transform:rotate(90deg)"><span class="ups">&upsilon;</span><sub class="s1">F</sub><span class="bar">|</span><b>p</b><sub class="s1">s</sub><span class="bar">|</span>/<i>k</i><sub class="s1">B</sub> <i>T</i><sub class="s1">c</sub></div><div class="yl" style="left:365px;top:574.5px"><i>x</i>/<span class="xi">&xi;</span><sub class="s0">0</sub></div></div></body></html>
